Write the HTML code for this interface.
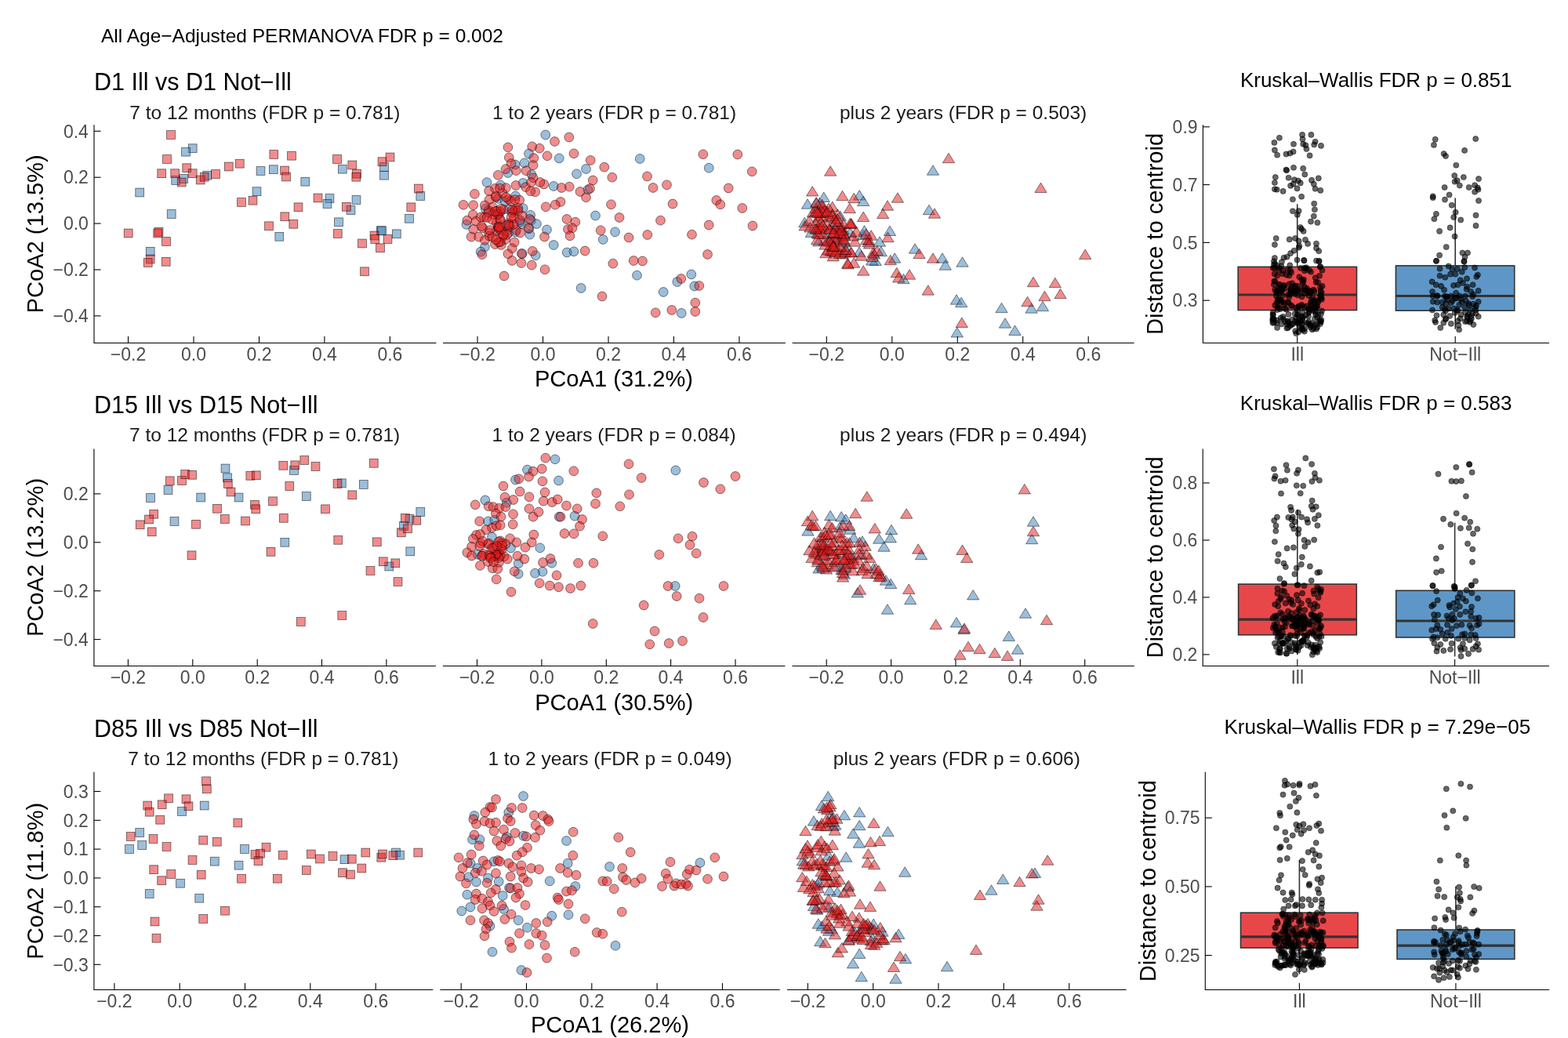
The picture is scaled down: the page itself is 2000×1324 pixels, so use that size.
<!DOCTYPE html><html><head><meta charset="utf-8"><title>PCoA</title><style>html,body{margin:0;padding:0;background:#fff;overflow:hidden}svg{display:block}</style></head><body>
<svg width="2000" height="1324" viewBox="0 0 2000 1324" font-family='"Liberation Sans", Arial, sans-serif'>
<rect width="2000" height="1324" fill="#fff"/>
<text x="129" y="53.6" font-size="24.5" fill="#000">All Age−Adjusted PERMANOVA FDR p = 0.002</text>
<text x="120" y="114.5" font-size="30.5" fill="#000">D1 Ill vs D1 Not−Ill</text>
<text x="337.9" y="151.8" font-size="24.5" text-anchor="middle" fill="#1A1A1A">7 to 12 months (FDR p = 0.781)</text>
<g><rect x="240.3" y="183.8" width="10.8" height="10.8" fill="#377EB8" fill-opacity="0.5" stroke="#000" stroke-opacity="0.6" stroke-width="0.8"/><rect x="231.6" y="188.3" width="10.8" height="10.8" fill="#377EB8" fill-opacity="0.5" stroke="#000" stroke-opacity="0.6" stroke-width="0.8"/><rect x="218.8" y="224.6" width="10.8" height="10.8" fill="#377EB8" fill-opacity="0.5" stroke="#000" stroke-opacity="0.6" stroke-width="0.8"/><rect x="228.8" y="222.6" width="10.8" height="10.8" fill="#377EB8" fill-opacity="0.5" stroke="#000" stroke-opacity="0.6" stroke-width="0.8"/><rect x="258.9" y="218.3" width="10.8" height="10.8" fill="#377EB8" fill-opacity="0.5" stroke="#000" stroke-opacity="0.6" stroke-width="0.8"/><rect x="172.8" y="240.1" width="10.8" height="10.8" fill="#377EB8" fill-opacity="0.5" stroke="#000" stroke-opacity="0.6" stroke-width="0.8"/><rect x="213.3" y="267.6" width="10.8" height="10.8" fill="#377EB8" fill-opacity="0.5" stroke="#000" stroke-opacity="0.6" stroke-width="0.8"/><rect x="186.3" y="315.4" width="10.8" height="10.8" fill="#377EB8" fill-opacity="0.5" stroke="#000" stroke-opacity="0.6" stroke-width="0.8"/><rect x="327.1" y="212.6" width="10.8" height="10.8" fill="#377EB8" fill-opacity="0.5" stroke="#000" stroke-opacity="0.6" stroke-width="0.8"/><rect x="343.4" y="210.8" width="10.8" height="10.8" fill="#377EB8" fill-opacity="0.5" stroke="#000" stroke-opacity="0.6" stroke-width="0.8"/><rect x="322.1" y="238.8" width="10.8" height="10.8" fill="#377EB8" fill-opacity="0.5" stroke="#000" stroke-opacity="0.6" stroke-width="0.8"/><rect x="383.9" y="226.3" width="10.8" height="10.8" fill="#377EB8" fill-opacity="0.5" stroke="#000" stroke-opacity="0.6" stroke-width="0.8"/><rect x="431.4" y="210.3" width="10.8" height="10.8" fill="#377EB8" fill-opacity="0.5" stroke="#000" stroke-opacity="0.6" stroke-width="0.8"/><rect x="484.6" y="207.6" width="10.8" height="10.8" fill="#377EB8" fill-opacity="0.5" stroke="#000" stroke-opacity="0.6" stroke-width="0.8"/><rect x="484.6" y="218.3" width="10.8" height="10.8" fill="#377EB8" fill-opacity="0.5" stroke="#000" stroke-opacity="0.6" stroke-width="0.8"/><rect x="415.1" y="247.6" width="10.8" height="10.8" fill="#377EB8" fill-opacity="0.5" stroke="#000" stroke-opacity="0.6" stroke-width="0.8"/><rect x="412.1" y="254.6" width="10.8" height="10.8" fill="#377EB8" fill-opacity="0.5" stroke="#000" stroke-opacity="0.6" stroke-width="0.8"/><rect x="449.1" y="249.6" width="10.8" height="10.8" fill="#377EB8" fill-opacity="0.5" stroke="#000" stroke-opacity="0.6" stroke-width="0.8"/><rect x="442.1" y="262.6" width="10.8" height="10.8" fill="#377EB8" fill-opacity="0.5" stroke="#000" stroke-opacity="0.6" stroke-width="0.8"/><rect x="426.6" y="277.9" width="10.8" height="10.8" fill="#377EB8" fill-opacity="0.5" stroke="#000" stroke-opacity="0.6" stroke-width="0.8"/><rect x="480.4" y="288.9" width="10.8" height="10.8" fill="#377EB8" fill-opacity="0.5" stroke="#000" stroke-opacity="0.6" stroke-width="0.8"/><rect x="481.6" y="288.9" width="10.8" height="10.8" fill="#377EB8" fill-opacity="0.5" stroke="#000" stroke-opacity="0.6" stroke-width="0.8"/><rect x="500.4" y="292.9" width="10.8" height="10.8" fill="#377EB8" fill-opacity="0.5" stroke="#000" stroke-opacity="0.6" stroke-width="0.8"/><rect x="516.6" y="273.4" width="10.8" height="10.8" fill="#377EB8" fill-opacity="0.5" stroke="#000" stroke-opacity="0.6" stroke-width="0.8"/><rect x="530.9" y="244.6" width="10.8" height="10.8" fill="#377EB8" fill-opacity="0.5" stroke="#000" stroke-opacity="0.6" stroke-width="0.8"/><rect x="350.9" y="296.4" width="10.8" height="10.8" fill="#377EB8" fill-opacity="0.5" stroke="#000" stroke-opacity="0.6" stroke-width="0.8"/><rect x="212.6" y="166.6" width="10.8" height="10.8" fill="#E41A1C" fill-opacity="0.5" stroke="#000" stroke-opacity="0.6" stroke-width="0.8"/><rect x="207.6" y="197.6" width="10.8" height="10.8" fill="#E41A1C" fill-opacity="0.5" stroke="#000" stroke-opacity="0.6" stroke-width="0.8"/><rect x="200.8" y="215.8" width="10.8" height="10.8" fill="#E41A1C" fill-opacity="0.5" stroke="#000" stroke-opacity="0.6" stroke-width="0.8"/><rect x="217.8" y="215.8" width="10.8" height="10.8" fill="#E41A1C" fill-opacity="0.5" stroke="#000" stroke-opacity="0.6" stroke-width="0.8"/><rect x="232.8" y="208.8" width="10.8" height="10.8" fill="#E41A1C" fill-opacity="0.5" stroke="#000" stroke-opacity="0.6" stroke-width="0.8"/><rect x="240.3" y="215.8" width="10.8" height="10.8" fill="#E41A1C" fill-opacity="0.5" stroke="#000" stroke-opacity="0.6" stroke-width="0.8"/><rect x="226.3" y="227.1" width="10.8" height="10.8" fill="#E41A1C" fill-opacity="0.5" stroke="#000" stroke-opacity="0.6" stroke-width="0.8"/><rect x="250.3" y="224.1" width="10.8" height="10.8" fill="#E41A1C" fill-opacity="0.5" stroke="#000" stroke-opacity="0.6" stroke-width="0.8"/><rect x="255.3" y="220.3" width="10.8" height="10.8" fill="#E41A1C" fill-opacity="0.5" stroke="#000" stroke-opacity="0.6" stroke-width="0.8"/><rect x="269.6" y="216.6" width="10.8" height="10.8" fill="#E41A1C" fill-opacity="0.5" stroke="#000" stroke-opacity="0.6" stroke-width="0.8"/><rect x="286.4" y="207.1" width="10.8" height="10.8" fill="#E41A1C" fill-opacity="0.5" stroke="#000" stroke-opacity="0.6" stroke-width="0.8"/><rect x="300.4" y="203.3" width="10.8" height="10.8" fill="#E41A1C" fill-opacity="0.5" stroke="#000" stroke-opacity="0.6" stroke-width="0.8"/><rect x="343.9" y="191.6" width="10.8" height="10.8" fill="#E41A1C" fill-opacity="0.5" stroke="#000" stroke-opacity="0.6" stroke-width="0.8"/><rect x="366.6" y="193.3" width="10.8" height="10.8" fill="#E41A1C" fill-opacity="0.5" stroke="#000" stroke-opacity="0.6" stroke-width="0.8"/><rect x="357.6" y="212.1" width="10.8" height="10.8" fill="#E41A1C" fill-opacity="0.5" stroke="#000" stroke-opacity="0.6" stroke-width="0.8"/><rect x="359.6" y="220.1" width="10.8" height="10.8" fill="#E41A1C" fill-opacity="0.5" stroke="#000" stroke-opacity="0.6" stroke-width="0.8"/><rect x="424.6" y="197.6" width="10.8" height="10.8" fill="#E41A1C" fill-opacity="0.5" stroke="#000" stroke-opacity="0.6" stroke-width="0.8"/><rect x="443.9" y="205.1" width="10.8" height="10.8" fill="#E41A1C" fill-opacity="0.5" stroke="#000" stroke-opacity="0.6" stroke-width="0.8"/><rect x="449.6" y="216.3" width="10.8" height="10.8" fill="#E41A1C" fill-opacity="0.5" stroke="#000" stroke-opacity="0.6" stroke-width="0.8"/><rect x="448.9" y="220.3" width="10.8" height="10.8" fill="#E41A1C" fill-opacity="0.5" stroke="#000" stroke-opacity="0.6" stroke-width="0.8"/><rect x="482.1" y="200.8" width="10.8" height="10.8" fill="#E41A1C" fill-opacity="0.5" stroke="#000" stroke-opacity="0.6" stroke-width="0.8"/><rect x="492.1" y="195.1" width="10.8" height="10.8" fill="#E41A1C" fill-opacity="0.5" stroke="#000" stroke-opacity="0.6" stroke-width="0.8"/><rect x="528.4" y="235.1" width="10.8" height="10.8" fill="#E41A1C" fill-opacity="0.5" stroke="#000" stroke-opacity="0.6" stroke-width="0.8"/><rect x="518.9" y="258.9" width="10.8" height="10.8" fill="#E41A1C" fill-opacity="0.5" stroke="#000" stroke-opacity="0.6" stroke-width="0.8"/><rect x="302.6" y="252.6" width="10.8" height="10.8" fill="#E41A1C" fill-opacity="0.5" stroke="#000" stroke-opacity="0.6" stroke-width="0.8"/><rect x="317.1" y="250.3" width="10.8" height="10.8" fill="#E41A1C" fill-opacity="0.5" stroke="#000" stroke-opacity="0.6" stroke-width="0.8"/><rect x="400.1" y="247.1" width="10.8" height="10.8" fill="#E41A1C" fill-opacity="0.5" stroke="#000" stroke-opacity="0.6" stroke-width="0.8"/><rect x="436.4" y="258.4" width="10.8" height="10.8" fill="#E41A1C" fill-opacity="0.5" stroke="#000" stroke-opacity="0.6" stroke-width="0.8"/><rect x="375.1" y="258.9" width="10.8" height="10.8" fill="#E41A1C" fill-opacity="0.5" stroke="#000" stroke-opacity="0.6" stroke-width="0.8"/><rect x="357.9" y="270.9" width="10.8" height="10.8" fill="#E41A1C" fill-opacity="0.5" stroke="#000" stroke-opacity="0.6" stroke-width="0.8"/><rect x="368.9" y="280.4" width="10.8" height="10.8" fill="#E41A1C" fill-opacity="0.5" stroke="#000" stroke-opacity="0.6" stroke-width="0.8"/><rect x="337.6" y="282.9" width="10.8" height="10.8" fill="#E41A1C" fill-opacity="0.5" stroke="#000" stroke-opacity="0.6" stroke-width="0.8"/><rect x="425.4" y="292.6" width="10.8" height="10.8" fill="#E41A1C" fill-opacity="0.5" stroke="#000" stroke-opacity="0.6" stroke-width="0.8"/><rect x="472.1" y="295.1" width="10.8" height="10.8" fill="#E41A1C" fill-opacity="0.5" stroke="#000" stroke-opacity="0.6" stroke-width="0.8"/><rect x="472.9" y="299.6" width="10.8" height="10.8" fill="#E41A1C" fill-opacity="0.5" stroke="#000" stroke-opacity="0.6" stroke-width="0.8"/><rect x="456.6" y="305.1" width="10.8" height="10.8" fill="#E41A1C" fill-opacity="0.5" stroke="#000" stroke-opacity="0.6" stroke-width="0.8"/><rect x="489.1" y="299.6" width="10.8" height="10.8" fill="#E41A1C" fill-opacity="0.5" stroke="#000" stroke-opacity="0.6" stroke-width="0.8"/><rect x="479.6" y="310.9" width="10.8" height="10.8" fill="#E41A1C" fill-opacity="0.5" stroke="#000" stroke-opacity="0.6" stroke-width="0.8"/><rect x="459.6" y="340.9" width="10.8" height="10.8" fill="#E41A1C" fill-opacity="0.5" stroke="#000" stroke-opacity="0.6" stroke-width="0.8"/><rect x="158.3" y="292.1" width="10.8" height="10.8" fill="#E41A1C" fill-opacity="0.5" stroke="#000" stroke-opacity="0.6" stroke-width="0.8"/><rect x="197.1" y="290.4" width="10.8" height="10.8" fill="#E41A1C" fill-opacity="0.5" stroke="#000" stroke-opacity="0.6" stroke-width="0.8"/><rect x="195.8" y="292.1" width="10.8" height="10.8" fill="#E41A1C" fill-opacity="0.5" stroke="#000" stroke-opacity="0.6" stroke-width="0.8"/><rect x="206.6" y="302.6" width="10.8" height="10.8" fill="#E41A1C" fill-opacity="0.5" stroke="#000" stroke-opacity="0.6" stroke-width="0.8"/><rect x="186.3" y="325.1" width="10.8" height="10.8" fill="#E41A1C" fill-opacity="0.5" stroke="#000" stroke-opacity="0.6" stroke-width="0.8"/><rect x="183.3" y="329.6" width="10.8" height="10.8" fill="#E41A1C" fill-opacity="0.5" stroke="#000" stroke-opacity="0.6" stroke-width="0.8"/><rect x="206.3" y="328.4" width="10.8" height="10.8" fill="#E41A1C" fill-opacity="0.5" stroke="#000" stroke-opacity="0.6" stroke-width="0.8"/></g>
<line x1="119.5" y1="437.5" x2="556.4" y2="437.5" stroke="#000" stroke-width="1.1"/>
<line x1="163.5" y1="437.5" x2="163.5" y2="429.0" stroke="#000" stroke-width="1.1"/>
<text x="163.5" y="459.7" font-size="23" text-anchor="middle" fill="#4D4D4D">−0.2</text>
<line x1="247.0" y1="437.5" x2="247.0" y2="429.0" stroke="#000" stroke-width="1.1"/>
<text x="247.0" y="459.7" font-size="23" text-anchor="middle" fill="#4D4D4D">0.0</text>
<line x1="330.5" y1="437.5" x2="330.5" y2="429.0" stroke="#000" stroke-width="1.1"/>
<text x="330.5" y="459.7" font-size="23" text-anchor="middle" fill="#4D4D4D">0.2</text>
<line x1="413.9" y1="437.5" x2="413.9" y2="429.0" stroke="#000" stroke-width="1.1"/>
<text x="413.9" y="459.7" font-size="23" text-anchor="middle" fill="#4D4D4D">0.4</text>
<line x1="497.4" y1="437.5" x2="497.4" y2="429.0" stroke="#000" stroke-width="1.1"/>
<text x="497.4" y="459.7" font-size="23" text-anchor="middle" fill="#4D4D4D">0.6</text>
<text x="783.5" y="151.8" font-size="24.5" text-anchor="middle" fill="#1A1A1A">1 to 2 years (FDR p = 0.781)</text>
<g><circle cx="695.8" cy="172.0" r="5.9" fill="#377EB8" fill-opacity="0.5" stroke="#000" stroke-opacity="0.6" stroke-width="0.8"/><circle cx="713.2" cy="202.0" r="5.9" fill="#377EB8" fill-opacity="0.5" stroke="#000" stroke-opacity="0.6" stroke-width="0.8"/><circle cx="816.2" cy="202.5" r="5.9" fill="#377EB8" fill-opacity="0.5" stroke="#000" stroke-opacity="0.6" stroke-width="0.8"/><circle cx="747.5" cy="215.5" r="5.9" fill="#377EB8" fill-opacity="0.5" stroke="#000" stroke-opacity="0.6" stroke-width="0.8"/><circle cx="735.5" cy="221.8" r="5.9" fill="#377EB8" fill-opacity="0.5" stroke="#000" stroke-opacity="0.6" stroke-width="0.8"/><circle cx="706.2" cy="237.5" r="5.9" fill="#377EB8" fill-opacity="0.5" stroke="#000" stroke-opacity="0.6" stroke-width="0.8"/><circle cx="750.0" cy="242.0" r="5.9" fill="#377EB8" fill-opacity="0.5" stroke="#000" stroke-opacity="0.6" stroke-width="0.8"/><circle cx="904.2" cy="214.2" r="5.9" fill="#377EB8" fill-opacity="0.5" stroke="#000" stroke-opacity="0.6" stroke-width="0.8"/><circle cx="759.5" cy="275.0" r="5.9" fill="#377EB8" fill-opacity="0.5" stroke="#000" stroke-opacity="0.6" stroke-width="0.8"/><circle cx="697.5" cy="293.0" r="5.9" fill="#377EB8" fill-opacity="0.5" stroke="#000" stroke-opacity="0.6" stroke-width="0.8"/><circle cx="675.8" cy="299.2" r="5.9" fill="#377EB8" fill-opacity="0.5" stroke="#000" stroke-opacity="0.6" stroke-width="0.8"/><circle cx="784.5" cy="295.8" r="5.9" fill="#377EB8" fill-opacity="0.5" stroke="#000" stroke-opacity="0.6" stroke-width="0.8"/><circle cx="769.2" cy="305.5" r="5.9" fill="#377EB8" fill-opacity="0.5" stroke="#000" stroke-opacity="0.6" stroke-width="0.8"/><circle cx="706.2" cy="312.5" r="5.9" fill="#377EB8" fill-opacity="0.5" stroke="#000" stroke-opacity="0.6" stroke-width="0.8"/><circle cx="723.2" cy="322.0" r="5.9" fill="#377EB8" fill-opacity="0.5" stroke="#000" stroke-opacity="0.6" stroke-width="0.8"/><circle cx="732.0" cy="320.8" r="5.9" fill="#377EB8" fill-opacity="0.5" stroke="#000" stroke-opacity="0.6" stroke-width="0.8"/><circle cx="683.2" cy="325.8" r="5.9" fill="#377EB8" fill-opacity="0.5" stroke="#000" stroke-opacity="0.6" stroke-width="0.8"/><circle cx="812.5" cy="351.2" r="5.9" fill="#377EB8" fill-opacity="0.5" stroke="#000" stroke-opacity="0.6" stroke-width="0.8"/><circle cx="741.2" cy="367.5" r="5.9" fill="#377EB8" fill-opacity="0.5" stroke="#000" stroke-opacity="0.6" stroke-width="0.8"/><circle cx="846.2" cy="372.5" r="5.9" fill="#377EB8" fill-opacity="0.5" stroke="#000" stroke-opacity="0.6" stroke-width="0.8"/><circle cx="863.8" cy="359.5" r="5.9" fill="#377EB8" fill-opacity="0.5" stroke="#000" stroke-opacity="0.6" stroke-width="0.8"/><circle cx="881.8" cy="350.0" r="5.9" fill="#377EB8" fill-opacity="0.5" stroke="#000" stroke-opacity="0.6" stroke-width="0.8"/><circle cx="885.8" cy="365.0" r="5.9" fill="#377EB8" fill-opacity="0.5" stroke="#000" stroke-opacity="0.6" stroke-width="0.8"/><circle cx="869.2" cy="399.5" r="5.9" fill="#377EB8" fill-opacity="0.5" stroke="#000" stroke-opacity="0.6" stroke-width="0.8"/><circle cx="657.0" cy="210.0" r="5.9" fill="#377EB8" fill-opacity="0.5" stroke="#000" stroke-opacity="0.6" stroke-width="0.8"/><circle cx="647.9" cy="220.5" r="5.9" fill="#377EB8" fill-opacity="0.5" stroke="#000" stroke-opacity="0.6" stroke-width="0.8"/><circle cx="668.9" cy="207.9" r="5.9" fill="#377EB8" fill-opacity="0.5" stroke="#000" stroke-opacity="0.6" stroke-width="0.8"/><circle cx="674.5" cy="196.0" r="5.9" fill="#377EB8" fill-opacity="0.5" stroke="#000" stroke-opacity="0.6" stroke-width="0.8"/><circle cx="678.0" cy="222.6" r="5.9" fill="#377EB8" fill-opacity="0.5" stroke="#000" stroke-opacity="0.6" stroke-width="0.8"/><circle cx="621.0" cy="232.6" r="5.9" fill="#377EB8" fill-opacity="0.5" stroke="#000" stroke-opacity="0.6" stroke-width="0.8"/><circle cx="638.4" cy="236.1" r="5.9" fill="#377EB8" fill-opacity="0.5" stroke="#000" stroke-opacity="0.6" stroke-width="0.8"/><circle cx="667.1" cy="233.5" r="5.9" fill="#377EB8" fill-opacity="0.5" stroke="#000" stroke-opacity="0.6" stroke-width="0.8"/><circle cx="635.8" cy="253.4" r="5.9" fill="#377EB8" fill-opacity="0.5" stroke="#000" stroke-opacity="0.6" stroke-width="0.8"/><circle cx="657.5" cy="250.0" r="5.9" fill="#377EB8" fill-opacity="0.5" stroke="#000" stroke-opacity="0.6" stroke-width="0.8"/><circle cx="619.3" cy="266.5" r="5.9" fill="#377EB8" fill-opacity="0.5" stroke="#000" stroke-opacity="0.6" stroke-width="0.8"/><circle cx="667.1" cy="265.6" r="5.9" fill="#377EB8" fill-opacity="0.5" stroke="#000" stroke-opacity="0.6" stroke-width="0.8"/><circle cx="676.6" cy="274.3" r="5.9" fill="#377EB8" fill-opacity="0.5" stroke="#000" stroke-opacity="0.6" stroke-width="0.8"/><circle cx="677.5" cy="281.2" r="5.9" fill="#377EB8" fill-opacity="0.5" stroke="#000" stroke-opacity="0.6" stroke-width="0.8"/><circle cx="595.0" cy="286.4" r="5.9" fill="#377EB8" fill-opacity="0.5" stroke="#000" stroke-opacity="0.6" stroke-width="0.8"/><circle cx="650.6" cy="286.4" r="5.9" fill="#377EB8" fill-opacity="0.5" stroke="#000" stroke-opacity="0.6" stroke-width="0.8"/><circle cx="684.4" cy="285.6" r="5.9" fill="#377EB8" fill-opacity="0.5" stroke="#000" stroke-opacity="0.6" stroke-width="0.8"/><circle cx="674.9" cy="291.7" r="5.9" fill="#377EB8" fill-opacity="0.5" stroke="#000" stroke-opacity="0.6" stroke-width="0.8"/><circle cx="665.3" cy="285.6" r="5.9" fill="#377EB8" fill-opacity="0.5" stroke="#000" stroke-opacity="0.6" stroke-width="0.8"/><circle cx="648.8" cy="296.9" r="5.9" fill="#377EB8" fill-opacity="0.5" stroke="#000" stroke-opacity="0.6" stroke-width="0.8"/><circle cx="618.4" cy="315.1" r="5.9" fill="#377EB8" fill-opacity="0.5" stroke="#000" stroke-opacity="0.6" stroke-width="0.8"/><circle cx="613.2" cy="321.2" r="5.9" fill="#377EB8" fill-opacity="0.5" stroke="#000" stroke-opacity="0.6" stroke-width="0.8"/><circle cx="666.2" cy="323.8" r="5.9" fill="#377EB8" fill-opacity="0.5" stroke="#000" stroke-opacity="0.6" stroke-width="0.8"/><circle cx="657.4" cy="296.0" r="5.9" fill="#377EB8" fill-opacity="0.5" stroke="#000" stroke-opacity="0.6" stroke-width="0.8"/><circle cx="648.8" cy="267.0" r="5.9" fill="#377EB8" fill-opacity="0.5" stroke="#000" stroke-opacity="0.6" stroke-width="0.8"/><circle cx="645.5" cy="287.3" r="5.9" fill="#377EB8" fill-opacity="0.5" stroke="#000" stroke-opacity="0.6" stroke-width="0.8"/><circle cx="644.2" cy="256.8" r="5.9" fill="#377EB8" fill-opacity="0.5" stroke="#000" stroke-opacity="0.6" stroke-width="0.8"/><circle cx="636.4" cy="272.8" r="5.9" fill="#377EB8" fill-opacity="0.5" stroke="#000" stroke-opacity="0.6" stroke-width="0.8"/><circle cx="663.4" cy="283.0" r="5.9" fill="#377EB8" fill-opacity="0.5" stroke="#000" stroke-opacity="0.6" stroke-width="0.8"/><circle cx="725.8" cy="175.0" r="5.9" fill="#E41A1C" fill-opacity="0.5" stroke="#000" stroke-opacity="0.6" stroke-width="0.8"/><circle cx="707.5" cy="180.5" r="5.9" fill="#E41A1C" fill-opacity="0.5" stroke="#000" stroke-opacity="0.6" stroke-width="0.8"/><circle cx="688.2" cy="189.2" r="5.9" fill="#E41A1C" fill-opacity="0.5" stroke="#000" stroke-opacity="0.6" stroke-width="0.8"/><circle cx="698.0" cy="198.8" r="5.9" fill="#E41A1C" fill-opacity="0.5" stroke="#000" stroke-opacity="0.6" stroke-width="0.8"/><circle cx="732.0" cy="195.8" r="5.9" fill="#E41A1C" fill-opacity="0.5" stroke="#000" stroke-opacity="0.6" stroke-width="0.8"/><circle cx="753.2" cy="204.5" r="5.9" fill="#E41A1C" fill-opacity="0.5" stroke="#000" stroke-opacity="0.6" stroke-width="0.8"/><circle cx="770.8" cy="213.2" r="5.9" fill="#E41A1C" fill-opacity="0.5" stroke="#000" stroke-opacity="0.6" stroke-width="0.8"/><circle cx="780.8" cy="226.2" r="5.9" fill="#E41A1C" fill-opacity="0.5" stroke="#000" stroke-opacity="0.6" stroke-width="0.8"/><circle cx="756.2" cy="230.0" r="5.9" fill="#E41A1C" fill-opacity="0.5" stroke="#000" stroke-opacity="0.6" stroke-width="0.8"/><circle cx="752.5" cy="240.5" r="5.9" fill="#E41A1C" fill-opacity="0.5" stroke="#000" stroke-opacity="0.6" stroke-width="0.8"/><circle cx="740.0" cy="244.5" r="5.9" fill="#E41A1C" fill-opacity="0.5" stroke="#000" stroke-opacity="0.6" stroke-width="0.8"/><circle cx="747.5" cy="251.8" r="5.9" fill="#E41A1C" fill-opacity="0.5" stroke="#000" stroke-opacity="0.6" stroke-width="0.8"/><circle cx="726.2" cy="238.2" r="5.9" fill="#E41A1C" fill-opacity="0.5" stroke="#000" stroke-opacity="0.6" stroke-width="0.8"/><circle cx="716.2" cy="239.5" r="5.9" fill="#E41A1C" fill-opacity="0.5" stroke="#000" stroke-opacity="0.6" stroke-width="0.8"/><circle cx="693.8" cy="235.0" r="5.9" fill="#E41A1C" fill-opacity="0.5" stroke="#000" stroke-opacity="0.6" stroke-width="0.8"/><circle cx="688.8" cy="232.5" r="5.9" fill="#E41A1C" fill-opacity="0.5" stroke="#000" stroke-opacity="0.6" stroke-width="0.8"/><circle cx="715.0" cy="257.5" r="5.9" fill="#E41A1C" fill-opacity="0.5" stroke="#000" stroke-opacity="0.6" stroke-width="0.8"/><circle cx="708.2" cy="261.2" r="5.9" fill="#E41A1C" fill-opacity="0.5" stroke="#000" stroke-opacity="0.6" stroke-width="0.8"/><circle cx="696.2" cy="263.8" r="5.9" fill="#E41A1C" fill-opacity="0.5" stroke="#000" stroke-opacity="0.6" stroke-width="0.8"/><circle cx="779.5" cy="260.8" r="5.9" fill="#E41A1C" fill-opacity="0.5" stroke="#000" stroke-opacity="0.6" stroke-width="0.8"/><circle cx="790.0" cy="277.5" r="5.9" fill="#E41A1C" fill-opacity="0.5" stroke="#000" stroke-opacity="0.6" stroke-width="0.8"/><circle cx="723.0" cy="279.5" r="5.9" fill="#E41A1C" fill-opacity="0.5" stroke="#000" stroke-opacity="0.6" stroke-width="0.8"/><circle cx="733.8" cy="283.2" r="5.9" fill="#E41A1C" fill-opacity="0.5" stroke="#000" stroke-opacity="0.6" stroke-width="0.8"/><circle cx="724.5" cy="292.5" r="5.9" fill="#E41A1C" fill-opacity="0.5" stroke="#000" stroke-opacity="0.6" stroke-width="0.8"/><circle cx="730.0" cy="290.8" r="5.9" fill="#E41A1C" fill-opacity="0.5" stroke="#000" stroke-opacity="0.6" stroke-width="0.8"/><circle cx="727.0" cy="300.8" r="5.9" fill="#E41A1C" fill-opacity="0.5" stroke="#000" stroke-opacity="0.6" stroke-width="0.8"/><circle cx="694.5" cy="302.0" r="5.9" fill="#E41A1C" fill-opacity="0.5" stroke="#000" stroke-opacity="0.6" stroke-width="0.8"/><circle cx="766.2" cy="293.8" r="5.9" fill="#E41A1C" fill-opacity="0.5" stroke="#000" stroke-opacity="0.6" stroke-width="0.8"/><circle cx="802.0" cy="303.0" r="5.9" fill="#E41A1C" fill-opacity="0.5" stroke="#000" stroke-opacity="0.6" stroke-width="0.8"/><circle cx="825.8" cy="299.5" r="5.9" fill="#E41A1C" fill-opacity="0.5" stroke="#000" stroke-opacity="0.6" stroke-width="0.8"/><circle cx="825.5" cy="225.0" r="5.9" fill="#E41A1C" fill-opacity="0.5" stroke="#000" stroke-opacity="0.6" stroke-width="0.8"/><circle cx="833.0" cy="239.5" r="5.9" fill="#E41A1C" fill-opacity="0.5" stroke="#000" stroke-opacity="0.6" stroke-width="0.8"/><circle cx="850.5" cy="235.8" r="5.9" fill="#E41A1C" fill-opacity="0.5" stroke="#000" stroke-opacity="0.6" stroke-width="0.8"/><circle cx="858.0" cy="260.0" r="5.9" fill="#E41A1C" fill-opacity="0.5" stroke="#000" stroke-opacity="0.6" stroke-width="0.8"/><circle cx="842.5" cy="281.2" r="5.9" fill="#E41A1C" fill-opacity="0.5" stroke="#000" stroke-opacity="0.6" stroke-width="0.8"/><circle cx="896.8" cy="196.8" r="5.9" fill="#E41A1C" fill-opacity="0.5" stroke="#000" stroke-opacity="0.6" stroke-width="0.8"/><circle cx="940.8" cy="197.0" r="5.9" fill="#E41A1C" fill-opacity="0.5" stroke="#000" stroke-opacity="0.6" stroke-width="0.8"/><circle cx="959.2" cy="218.8" r="5.9" fill="#E41A1C" fill-opacity="0.5" stroke="#000" stroke-opacity="0.6" stroke-width="0.8"/><circle cx="929.2" cy="240.0" r="5.9" fill="#E41A1C" fill-opacity="0.5" stroke="#000" stroke-opacity="0.6" stroke-width="0.8"/><circle cx="913.8" cy="255.5" r="5.9" fill="#E41A1C" fill-opacity="0.5" stroke="#000" stroke-opacity="0.6" stroke-width="0.8"/><circle cx="918.8" cy="260.8" r="5.9" fill="#E41A1C" fill-opacity="0.5" stroke="#000" stroke-opacity="0.6" stroke-width="0.8"/><circle cx="946.8" cy="265.5" r="5.9" fill="#E41A1C" fill-opacity="0.5" stroke="#000" stroke-opacity="0.6" stroke-width="0.8"/><circle cx="960.0" cy="288.0" r="5.9" fill="#E41A1C" fill-opacity="0.5" stroke="#000" stroke-opacity="0.6" stroke-width="0.8"/><circle cx="904.2" cy="287.0" r="5.9" fill="#E41A1C" fill-opacity="0.5" stroke="#000" stroke-opacity="0.6" stroke-width="0.8"/><circle cx="882.5" cy="299.2" r="5.9" fill="#E41A1C" fill-opacity="0.5" stroke="#000" stroke-opacity="0.6" stroke-width="0.8"/><circle cx="902.5" cy="324.5" r="5.9" fill="#E41A1C" fill-opacity="0.5" stroke="#000" stroke-opacity="0.6" stroke-width="0.8"/><circle cx="819.5" cy="333.0" r="5.9" fill="#E41A1C" fill-opacity="0.5" stroke="#000" stroke-opacity="0.6" stroke-width="0.8"/><circle cx="808.2" cy="332.5" r="5.9" fill="#E41A1C" fill-opacity="0.5" stroke="#000" stroke-opacity="0.6" stroke-width="0.8"/><circle cx="781.8" cy="336.2" r="5.9" fill="#E41A1C" fill-opacity="0.5" stroke="#000" stroke-opacity="0.6" stroke-width="0.8"/><circle cx="746.2" cy="320.0" r="5.9" fill="#E41A1C" fill-opacity="0.5" stroke="#000" stroke-opacity="0.6" stroke-width="0.8"/><circle cx="695.0" cy="343.8" r="5.9" fill="#E41A1C" fill-opacity="0.5" stroke="#000" stroke-opacity="0.6" stroke-width="0.8"/><circle cx="678.2" cy="338.2" r="5.9" fill="#E41A1C" fill-opacity="0.5" stroke="#000" stroke-opacity="0.6" stroke-width="0.8"/><circle cx="868.8" cy="355.5" r="5.9" fill="#E41A1C" fill-opacity="0.5" stroke="#000" stroke-opacity="0.6" stroke-width="0.8"/><circle cx="891.8" cy="364.5" r="5.9" fill="#E41A1C" fill-opacity="0.5" stroke="#000" stroke-opacity="0.6" stroke-width="0.8"/><circle cx="886.8" cy="386.2" r="5.9" fill="#E41A1C" fill-opacity="0.5" stroke="#000" stroke-opacity="0.6" stroke-width="0.8"/><circle cx="886.8" cy="397.5" r="5.9" fill="#E41A1C" fill-opacity="0.5" stroke="#000" stroke-opacity="0.6" stroke-width="0.8"/><circle cx="856.8" cy="395.5" r="5.9" fill="#E41A1C" fill-opacity="0.5" stroke="#000" stroke-opacity="0.6" stroke-width="0.8"/><circle cx="836.2" cy="398.8" r="5.9" fill="#E41A1C" fill-opacity="0.5" stroke="#000" stroke-opacity="0.6" stroke-width="0.8"/><circle cx="768.0" cy="378.0" r="5.9" fill="#E41A1C" fill-opacity="0.5" stroke="#000" stroke-opacity="0.6" stroke-width="0.8"/><circle cx="643.0" cy="352.0" r="5.9" fill="#E41A1C" fill-opacity="0.5" stroke="#000" stroke-opacity="0.6" stroke-width="0.8"/><circle cx="665.0" cy="335.5" r="5.9" fill="#E41A1C" fill-opacity="0.5" stroke="#000" stroke-opacity="0.6" stroke-width="0.8"/><circle cx="647.9" cy="187.9" r="5.9" fill="#E41A1C" fill-opacity="0.5" stroke="#000" stroke-opacity="0.6" stroke-width="0.8"/><circle cx="649.3" cy="200.9" r="5.9" fill="#E41A1C" fill-opacity="0.5" stroke="#000" stroke-opacity="0.6" stroke-width="0.8"/><circle cx="652.1" cy="208.6" r="5.9" fill="#E41A1C" fill-opacity="0.5" stroke="#000" stroke-opacity="0.6" stroke-width="0.8"/><circle cx="645.1" cy="215.6" r="5.9" fill="#E41A1C" fill-opacity="0.5" stroke="#000" stroke-opacity="0.6" stroke-width="0.8"/><circle cx="658.4" cy="217.7" r="5.9" fill="#E41A1C" fill-opacity="0.5" stroke="#000" stroke-opacity="0.6" stroke-width="0.8"/><circle cx="635.3" cy="223.3" r="5.9" fill="#E41A1C" fill-opacity="0.5" stroke="#000" stroke-opacity="0.6" stroke-width="0.8"/><circle cx="678.7" cy="186.9" r="5.9" fill="#E41A1C" fill-opacity="0.5" stroke="#000" stroke-opacity="0.6" stroke-width="0.8"/><circle cx="680.8" cy="201.6" r="5.9" fill="#E41A1C" fill-opacity="0.5" stroke="#000" stroke-opacity="0.6" stroke-width="0.8"/><circle cx="680.1" cy="210.7" r="5.9" fill="#E41A1C" fill-opacity="0.5" stroke="#000" stroke-opacity="0.6" stroke-width="0.8"/><circle cx="671.0" cy="217.7" r="5.9" fill="#E41A1C" fill-opacity="0.5" stroke="#000" stroke-opacity="0.6" stroke-width="0.8"/><circle cx="680.1" cy="226.8" r="5.9" fill="#E41A1C" fill-opacity="0.5" stroke="#000" stroke-opacity="0.6" stroke-width="0.8"/><circle cx="631.4" cy="240.4" r="5.9" fill="#E41A1C" fill-opacity="0.5" stroke="#000" stroke-opacity="0.6" stroke-width="0.8"/><circle cx="645.3" cy="239.6" r="5.9" fill="#E41A1C" fill-opacity="0.5" stroke="#000" stroke-opacity="0.6" stroke-width="0.8"/><circle cx="657.9" cy="236.5" r="5.9" fill="#E41A1C" fill-opacity="0.5" stroke="#000" stroke-opacity="0.6" stroke-width="0.8"/><circle cx="670.5" cy="238.7" r="5.9" fill="#E41A1C" fill-opacity="0.5" stroke="#000" stroke-opacity="0.6" stroke-width="0.8"/><circle cx="677.5" cy="232.6" r="5.9" fill="#E41A1C" fill-opacity="0.5" stroke="#000" stroke-opacity="0.6" stroke-width="0.8"/><circle cx="682.7" cy="244.8" r="5.9" fill="#E41A1C" fill-opacity="0.5" stroke="#000" stroke-opacity="0.6" stroke-width="0.8"/><circle cx="676.6" cy="243.9" r="5.9" fill="#E41A1C" fill-opacity="0.5" stroke="#000" stroke-opacity="0.6" stroke-width="0.8"/><circle cx="605.4" cy="247.4" r="5.9" fill="#E41A1C" fill-opacity="0.5" stroke="#000" stroke-opacity="0.6" stroke-width="0.8"/><circle cx="623.6" cy="243.5" r="5.9" fill="#E41A1C" fill-opacity="0.5" stroke="#000" stroke-opacity="0.6" stroke-width="0.8"/><circle cx="641.0" cy="246.5" r="5.9" fill="#E41A1C" fill-opacity="0.5" stroke="#000" stroke-opacity="0.6" stroke-width="0.8"/><circle cx="648.8" cy="254.3" r="5.9" fill="#E41A1C" fill-opacity="0.5" stroke="#000" stroke-opacity="0.6" stroke-width="0.8"/><circle cx="632.3" cy="251.7" r="5.9" fill="#E41A1C" fill-opacity="0.5" stroke="#000" stroke-opacity="0.6" stroke-width="0.8"/><circle cx="662.7" cy="255.2" r="5.9" fill="#E41A1C" fill-opacity="0.5" stroke="#000" stroke-opacity="0.6" stroke-width="0.8"/><circle cx="591.1" cy="261.3" r="5.9" fill="#E41A1C" fill-opacity="0.5" stroke="#000" stroke-opacity="0.6" stroke-width="0.8"/><circle cx="603.7" cy="261.7" r="5.9" fill="#E41A1C" fill-opacity="0.5" stroke="#000" stroke-opacity="0.6" stroke-width="0.8"/><circle cx="628.0" cy="263.9" r="5.9" fill="#E41A1C" fill-opacity="0.5" stroke="#000" stroke-opacity="0.6" stroke-width="0.8"/><circle cx="641.9" cy="267.3" r="5.9" fill="#E41A1C" fill-opacity="0.5" stroke="#000" stroke-opacity="0.6" stroke-width="0.8"/><circle cx="657.5" cy="267.3" r="5.9" fill="#E41A1C" fill-opacity="0.5" stroke="#000" stroke-opacity="0.6" stroke-width="0.8"/><circle cx="603.2" cy="273.9" r="5.9" fill="#E41A1C" fill-opacity="0.5" stroke="#000" stroke-opacity="0.6" stroke-width="0.8"/><circle cx="595.8" cy="281.2" r="5.9" fill="#E41A1C" fill-opacity="0.5" stroke="#000" stroke-opacity="0.6" stroke-width="0.8"/><circle cx="607.1" cy="282.1" r="5.9" fill="#E41A1C" fill-opacity="0.5" stroke="#000" stroke-opacity="0.6" stroke-width="0.8"/><circle cx="617.6" cy="276.9" r="5.9" fill="#E41A1C" fill-opacity="0.5" stroke="#000" stroke-opacity="0.6" stroke-width="0.8"/><circle cx="628.8" cy="273.4" r="5.9" fill="#E41A1C" fill-opacity="0.5" stroke="#000" stroke-opacity="0.6" stroke-width="0.8"/><circle cx="634.1" cy="269.1" r="5.9" fill="#E41A1C" fill-opacity="0.5" stroke="#000" stroke-opacity="0.6" stroke-width="0.8"/><circle cx="653.2" cy="271.7" r="5.9" fill="#E41A1C" fill-opacity="0.5" stroke="#000" stroke-opacity="0.6" stroke-width="0.8"/><circle cx="666.2" cy="275.2" r="5.9" fill="#E41A1C" fill-opacity="0.5" stroke="#000" stroke-opacity="0.6" stroke-width="0.8"/><circle cx="637.5" cy="279.5" r="5.9" fill="#E41A1C" fill-opacity="0.5" stroke="#000" stroke-opacity="0.6" stroke-width="0.8"/><circle cx="675.7" cy="279.5" r="5.9" fill="#E41A1C" fill-opacity="0.5" stroke="#000" stroke-opacity="0.6" stroke-width="0.8"/><circle cx="633.2" cy="283.8" r="5.9" fill="#E41A1C" fill-opacity="0.5" stroke="#000" stroke-opacity="0.6" stroke-width="0.8"/><circle cx="648.8" cy="284.7" r="5.9" fill="#E41A1C" fill-opacity="0.5" stroke="#000" stroke-opacity="0.6" stroke-width="0.8"/><circle cx="674.0" cy="290.8" r="5.9" fill="#E41A1C" fill-opacity="0.5" stroke="#000" stroke-opacity="0.6" stroke-width="0.8"/><circle cx="658.4" cy="293.4" r="5.9" fill="#E41A1C" fill-opacity="0.5" stroke="#000" stroke-opacity="0.6" stroke-width="0.8"/><circle cx="663.6" cy="296.9" r="5.9" fill="#E41A1C" fill-opacity="0.5" stroke="#000" stroke-opacity="0.6" stroke-width="0.8"/><circle cx="633.2" cy="294.3" r="5.9" fill="#E41A1C" fill-opacity="0.5" stroke="#000" stroke-opacity="0.6" stroke-width="0.8"/><circle cx="615.8" cy="290.8" r="5.9" fill="#E41A1C" fill-opacity="0.5" stroke="#000" stroke-opacity="0.6" stroke-width="0.8"/><circle cx="603.7" cy="292.5" r="5.9" fill="#E41A1C" fill-opacity="0.5" stroke="#000" stroke-opacity="0.6" stroke-width="0.8"/><circle cx="623.6" cy="296.9" r="5.9" fill="#E41A1C" fill-opacity="0.5" stroke="#000" stroke-opacity="0.6" stroke-width="0.8"/><circle cx="601.1" cy="302.1" r="5.9" fill="#E41A1C" fill-opacity="0.5" stroke="#000" stroke-opacity="0.6" stroke-width="0.8"/><circle cx="610.6" cy="302.1" r="5.9" fill="#E41A1C" fill-opacity="0.5" stroke="#000" stroke-opacity="0.6" stroke-width="0.8"/><circle cx="641.0" cy="302.1" r="5.9" fill="#E41A1C" fill-opacity="0.5" stroke="#000" stroke-opacity="0.6" stroke-width="0.8"/><circle cx="644.5" cy="305.6" r="5.9" fill="#E41A1C" fill-opacity="0.5" stroke="#000" stroke-opacity="0.6" stroke-width="0.8"/><circle cx="618.4" cy="306.4" r="5.9" fill="#E41A1C" fill-opacity="0.5" stroke="#000" stroke-opacity="0.6" stroke-width="0.8"/><circle cx="656.2" cy="309.0" r="5.9" fill="#E41A1C" fill-opacity="0.5" stroke="#000" stroke-opacity="0.6" stroke-width="0.8"/><circle cx="631.4" cy="311.6" r="5.9" fill="#E41A1C" fill-opacity="0.5" stroke="#000" stroke-opacity="0.6" stroke-width="0.8"/><circle cx="639.3" cy="312.5" r="5.9" fill="#E41A1C" fill-opacity="0.5" stroke="#000" stroke-opacity="0.6" stroke-width="0.8"/><circle cx="653.2" cy="316.8" r="5.9" fill="#E41A1C" fill-opacity="0.5" stroke="#000" stroke-opacity="0.6" stroke-width="0.8"/><circle cx="614.9" cy="324.7" r="5.9" fill="#E41A1C" fill-opacity="0.5" stroke="#000" stroke-opacity="0.6" stroke-width="0.8"/><circle cx="647.9" cy="323.8" r="5.9" fill="#E41A1C" fill-opacity="0.5" stroke="#000" stroke-opacity="0.6" stroke-width="0.8"/><circle cx="665.3" cy="323.4" r="5.9" fill="#E41A1C" fill-opacity="0.5" stroke="#000" stroke-opacity="0.6" stroke-width="0.8"/><circle cx="679.2" cy="320.3" r="5.9" fill="#E41A1C" fill-opacity="0.5" stroke="#000" stroke-opacity="0.6" stroke-width="0.8"/><circle cx="653.2" cy="332.5" r="5.9" fill="#E41A1C" fill-opacity="0.5" stroke="#000" stroke-opacity="0.6" stroke-width="0.8"/><circle cx="651.7" cy="256.4" r="5.9" fill="#E41A1C" fill-opacity="0.5" stroke="#000" stroke-opacity="0.6" stroke-width="0.8"/><circle cx="637.8" cy="270.4" r="5.9" fill="#E41A1C" fill-opacity="0.5" stroke="#000" stroke-opacity="0.6" stroke-width="0.8"/><circle cx="645.9" cy="294.8" r="5.9" fill="#E41A1C" fill-opacity="0.5" stroke="#000" stroke-opacity="0.6" stroke-width="0.8"/><circle cx="655.5" cy="269.2" r="5.9" fill="#E41A1C" fill-opacity="0.5" stroke="#000" stroke-opacity="0.6" stroke-width="0.8"/><circle cx="635.2" cy="290.0" r="5.9" fill="#E41A1C" fill-opacity="0.5" stroke="#000" stroke-opacity="0.6" stroke-width="0.8"/><circle cx="613.3" cy="277.0" r="5.9" fill="#E41A1C" fill-opacity="0.5" stroke="#000" stroke-opacity="0.6" stroke-width="0.8"/><circle cx="660.8" cy="265.4" r="5.9" fill="#E41A1C" fill-opacity="0.5" stroke="#000" stroke-opacity="0.6" stroke-width="0.8"/><circle cx="623.3" cy="268.4" r="5.9" fill="#E41A1C" fill-opacity="0.5" stroke="#000" stroke-opacity="0.6" stroke-width="0.8"/><circle cx="634.8" cy="273.7" r="5.9" fill="#E41A1C" fill-opacity="0.5" stroke="#000" stroke-opacity="0.6" stroke-width="0.8"/><circle cx="624.1" cy="254.6" r="5.9" fill="#E41A1C" fill-opacity="0.5" stroke="#000" stroke-opacity="0.6" stroke-width="0.8"/><circle cx="623.4" cy="271.1" r="5.9" fill="#E41A1C" fill-opacity="0.5" stroke="#000" stroke-opacity="0.6" stroke-width="0.8"/><circle cx="655.6" cy="278.1" r="5.9" fill="#E41A1C" fill-opacity="0.5" stroke="#000" stroke-opacity="0.6" stroke-width="0.8"/><circle cx="645.4" cy="251.4" r="5.9" fill="#E41A1C" fill-opacity="0.5" stroke="#000" stroke-opacity="0.6" stroke-width="0.8"/><circle cx="618.3" cy="262.0" r="5.9" fill="#E41A1C" fill-opacity="0.5" stroke="#000" stroke-opacity="0.6" stroke-width="0.8"/><circle cx="649.5" cy="289.2" r="5.9" fill="#E41A1C" fill-opacity="0.5" stroke="#000" stroke-opacity="0.6" stroke-width="0.8"/><circle cx="660.7" cy="268.4" r="5.9" fill="#E41A1C" fill-opacity="0.5" stroke="#000" stroke-opacity="0.6" stroke-width="0.8"/><circle cx="655.2" cy="286.3" r="5.9" fill="#E41A1C" fill-opacity="0.5" stroke="#000" stroke-opacity="0.6" stroke-width="0.8"/><circle cx="627.8" cy="280.3" r="5.9" fill="#E41A1C" fill-opacity="0.5" stroke="#000" stroke-opacity="0.6" stroke-width="0.8"/><circle cx="638.3" cy="280.4" r="5.9" fill="#E41A1C" fill-opacity="0.5" stroke="#000" stroke-opacity="0.6" stroke-width="0.8"/><circle cx="653.5" cy="267.8" r="5.9" fill="#E41A1C" fill-opacity="0.5" stroke="#000" stroke-opacity="0.6" stroke-width="0.8"/><circle cx="621.0" cy="277.5" r="5.9" fill="#E41A1C" fill-opacity="0.5" stroke="#000" stroke-opacity="0.6" stroke-width="0.8"/><circle cx="648.6" cy="286.6" r="5.9" fill="#E41A1C" fill-opacity="0.5" stroke="#000" stroke-opacity="0.6" stroke-width="0.8"/><circle cx="631.5" cy="269.6" r="5.9" fill="#E41A1C" fill-opacity="0.5" stroke="#000" stroke-opacity="0.6" stroke-width="0.8"/><circle cx="638.4" cy="294.0" r="5.9" fill="#E41A1C" fill-opacity="0.5" stroke="#000" stroke-opacity="0.6" stroke-width="0.8"/><circle cx="639.1" cy="266.3" r="5.9" fill="#E41A1C" fill-opacity="0.5" stroke="#000" stroke-opacity="0.6" stroke-width="0.8"/><circle cx="637.5" cy="240.1" r="5.9" fill="#E41A1C" fill-opacity="0.5" stroke="#000" stroke-opacity="0.6" stroke-width="0.8"/><circle cx="614.3" cy="288.6" r="5.9" fill="#E41A1C" fill-opacity="0.5" stroke="#000" stroke-opacity="0.6" stroke-width="0.8"/><circle cx="663.1" cy="280.7" r="5.9" fill="#E41A1C" fill-opacity="0.5" stroke="#000" stroke-opacity="0.6" stroke-width="0.8"/><circle cx="632.5" cy="250.3" r="5.9" fill="#E41A1C" fill-opacity="0.5" stroke="#000" stroke-opacity="0.6" stroke-width="0.8"/><circle cx="638.1" cy="308.7" r="5.9" fill="#E41A1C" fill-opacity="0.5" stroke="#000" stroke-opacity="0.6" stroke-width="0.8"/><circle cx="652.1" cy="276.9" r="5.9" fill="#E41A1C" fill-opacity="0.5" stroke="#000" stroke-opacity="0.6" stroke-width="0.8"/><circle cx="656.7" cy="254.7" r="5.9" fill="#E41A1C" fill-opacity="0.5" stroke="#000" stroke-opacity="0.6" stroke-width="0.8"/><circle cx="624.1" cy="301.1" r="5.9" fill="#E41A1C" fill-opacity="0.5" stroke="#000" stroke-opacity="0.6" stroke-width="0.8"/><circle cx="628.1" cy="302.5" r="5.9" fill="#E41A1C" fill-opacity="0.5" stroke="#000" stroke-opacity="0.6" stroke-width="0.8"/><circle cx="635.8" cy="289.6" r="5.9" fill="#E41A1C" fill-opacity="0.5" stroke="#000" stroke-opacity="0.6" stroke-width="0.8"/><circle cx="624.8" cy="293.6" r="5.9" fill="#E41A1C" fill-opacity="0.5" stroke="#000" stroke-opacity="0.6" stroke-width="0.8"/><circle cx="646.9" cy="299.3" r="5.9" fill="#E41A1C" fill-opacity="0.5" stroke="#000" stroke-opacity="0.6" stroke-width="0.8"/><circle cx="642.1" cy="299.4" r="5.9" fill="#E41A1C" fill-opacity="0.5" stroke="#000" stroke-opacity="0.6" stroke-width="0.8"/><circle cx="636.2" cy="291.6" r="5.9" fill="#E41A1C" fill-opacity="0.5" stroke="#000" stroke-opacity="0.6" stroke-width="0.8"/><circle cx="636.0" cy="308.8" r="5.9" fill="#E41A1C" fill-opacity="0.5" stroke="#000" stroke-opacity="0.6" stroke-width="0.8"/><circle cx="632.7" cy="305.8" r="5.9" fill="#E41A1C" fill-opacity="0.5" stroke="#000" stroke-opacity="0.6" stroke-width="0.8"/><circle cx="637.1" cy="289.5" r="5.9" fill="#E41A1C" fill-opacity="0.5" stroke="#000" stroke-opacity="0.6" stroke-width="0.8"/></g>
<line x1="565.0" y1="437.5" x2="1002.0" y2="437.5" stroke="#000" stroke-width="1.1"/>
<line x1="609.0" y1="437.5" x2="609.0" y2="429.0" stroke="#000" stroke-width="1.1"/>
<text x="609.0" y="459.7" font-size="23" text-anchor="middle" fill="#4D4D4D">−0.2</text>
<line x1="692.5" y1="437.5" x2="692.5" y2="429.0" stroke="#000" stroke-width="1.1"/>
<text x="692.5" y="459.7" font-size="23" text-anchor="middle" fill="#4D4D4D">0.0</text>
<line x1="776.0" y1="437.5" x2="776.0" y2="429.0" stroke="#000" stroke-width="1.1"/>
<text x="776.0" y="459.7" font-size="23" text-anchor="middle" fill="#4D4D4D">0.2</text>
<line x1="859.4" y1="437.5" x2="859.4" y2="429.0" stroke="#000" stroke-width="1.1"/>
<text x="859.4" y="459.7" font-size="23" text-anchor="middle" fill="#4D4D4D">0.4</text>
<line x1="942.9" y1="437.5" x2="942.9" y2="429.0" stroke="#000" stroke-width="1.1"/>
<text x="942.9" y="459.7" font-size="23" text-anchor="middle" fill="#4D4D4D">0.6</text>
<text x="1228.6" y="151.8" font-size="24.5" text-anchor="middle" fill="#1A1A1A">plus 2 years (FDR p = 0.503)</text>
<g><path d="M1084.4 290.3l7.6 12.4h-15.2z" fill="#377EB8" fill-opacity="0.5" stroke="#000" stroke-opacity="0.6" stroke-width="0.8"/><path d="M1101.1 293.1l7.6 12.4h-15.2z" fill="#377EB8" fill-opacity="0.5" stroke="#000" stroke-opacity="0.6" stroke-width="0.8"/><path d="M1071.8 269.2l7.6 12.4h-15.2z" fill="#377EB8" fill-opacity="0.5" stroke="#000" stroke-opacity="0.6" stroke-width="0.8"/><path d="M1045.5 252.4l7.6 12.4h-15.2z" fill="#377EB8" fill-opacity="0.5" stroke="#000" stroke-opacity="0.6" stroke-width="0.8"/><path d="M1107.6 302.1l7.6 12.4h-15.2z" fill="#377EB8" fill-opacity="0.5" stroke="#000" stroke-opacity="0.6" stroke-width="0.8"/><path d="M1026.3 277.2l7.6 12.4h-15.2z" fill="#377EB8" fill-opacity="0.5" stroke="#000" stroke-opacity="0.6" stroke-width="0.8"/><path d="M1066.8 296.6l7.6 12.4h-15.2z" fill="#377EB8" fill-opacity="0.5" stroke="#000" stroke-opacity="0.6" stroke-width="0.8"/><path d="M1056.1 290.7l7.6 12.4h-15.2z" fill="#377EB8" fill-opacity="0.5" stroke="#000" stroke-opacity="0.6" stroke-width="0.8"/><path d="M1041.0 251.9l7.6 12.4h-15.2z" fill="#377EB8" fill-opacity="0.5" stroke="#000" stroke-opacity="0.6" stroke-width="0.8"/><path d="M1116.7 326.2l7.6 12.4h-15.2z" fill="#377EB8" fill-opacity="0.5" stroke="#000" stroke-opacity="0.6" stroke-width="0.8"/><path d="M1096.0 314.9l7.6 12.4h-15.2z" fill="#377EB8" fill-opacity="0.5" stroke="#000" stroke-opacity="0.6" stroke-width="0.8"/><path d="M1079.1 312.0l7.6 12.4h-15.2z" fill="#377EB8" fill-opacity="0.5" stroke="#000" stroke-opacity="0.6" stroke-width="0.8"/><path d="M1034.8 290.0l7.6 12.4h-15.2z" fill="#377EB8" fill-opacity="0.5" stroke="#000" stroke-opacity="0.6" stroke-width="0.8"/><path d="M1112.2 325.7l7.6 12.4h-15.2z" fill="#377EB8" fill-opacity="0.5" stroke="#000" stroke-opacity="0.6" stroke-width="0.8"/><path d="M1062.6 280.4l7.6 12.4h-15.2z" fill="#377EB8" fill-opacity="0.5" stroke="#000" stroke-opacity="0.6" stroke-width="0.8"/><path d="M1066.6 282.2l7.6 12.4h-15.2z" fill="#377EB8" fill-opacity="0.5" stroke="#000" stroke-opacity="0.6" stroke-width="0.8"/><path d="M1070.9 291.3l7.6 12.4h-15.2z" fill="#377EB8" fill-opacity="0.5" stroke="#000" stroke-opacity="0.6" stroke-width="0.8"/><path d="M1076.2 313.6l7.6 12.4h-15.2z" fill="#377EB8" fill-opacity="0.5" stroke="#000" stroke-opacity="0.6" stroke-width="0.8"/><path d="M1044.4 301.5l7.6 12.4h-15.2z" fill="#377EB8" fill-opacity="0.5" stroke="#000" stroke-opacity="0.6" stroke-width="0.8"/><path d="M1076.8 302.7l7.6 12.4h-15.2z" fill="#377EB8" fill-opacity="0.5" stroke="#000" stroke-opacity="0.6" stroke-width="0.8"/><path d="M1040.4 263.4l7.6 12.4h-15.2z" fill="#377EB8" fill-opacity="0.5" stroke="#000" stroke-opacity="0.6" stroke-width="0.8"/><path d="M1056.5 300.5l7.6 12.4h-15.2z" fill="#377EB8" fill-opacity="0.5" stroke="#000" stroke-opacity="0.6" stroke-width="0.8"/><path d="M1190.0 210.8l7.6 12.4h-15.2z" fill="#377EB8" fill-opacity="0.5" stroke="#000" stroke-opacity="0.6" stroke-width="0.8"/><path d="M1185.0 261.3l7.6 12.4h-15.2z" fill="#377EB8" fill-opacity="0.5" stroke="#000" stroke-opacity="0.6" stroke-width="0.8"/><path d="M1096.2 242.6l7.6 12.4h-15.2z" fill="#377EB8" fill-opacity="0.5" stroke="#000" stroke-opacity="0.6" stroke-width="0.8"/><path d="M1101.2 250.1l7.6 12.4h-15.2z" fill="#377EB8" fill-opacity="0.5" stroke="#000" stroke-opacity="0.6" stroke-width="0.8"/><path d="M1050.8 245.1l7.6 12.4h-15.2z" fill="#377EB8" fill-opacity="0.5" stroke="#000" stroke-opacity="0.6" stroke-width="0.8"/><path d="M1135.0 288.1l7.6 12.4h-15.2z" fill="#377EB8" fill-opacity="0.5" stroke="#000" stroke-opacity="0.6" stroke-width="0.8"/><path d="M1122.0 301.8l7.6 12.4h-15.2z" fill="#377EB8" fill-opacity="0.5" stroke="#000" stroke-opacity="0.6" stroke-width="0.8"/><path d="M1123.8 314.3l7.6 12.4h-15.2z" fill="#377EB8" fill-opacity="0.5" stroke="#000" stroke-opacity="0.6" stroke-width="0.8"/><path d="M1102.5 287.6l7.6 12.4h-15.2z" fill="#377EB8" fill-opacity="0.5" stroke="#000" stroke-opacity="0.6" stroke-width="0.8"/><path d="M1167.0 310.8l7.6 12.4h-15.2z" fill="#377EB8" fill-opacity="0.5" stroke="#000" stroke-opacity="0.6" stroke-width="0.8"/><path d="M1202.0 322.8l7.6 12.4h-15.2z" fill="#377EB8" fill-opacity="0.5" stroke="#000" stroke-opacity="0.6" stroke-width="0.8"/><path d="M1205.8 331.8l7.6 12.4h-15.2z" fill="#377EB8" fill-opacity="0.5" stroke="#000" stroke-opacity="0.6" stroke-width="0.8"/><path d="M1227.5 327.8l7.6 12.4h-15.2z" fill="#377EB8" fill-opacity="0.5" stroke="#000" stroke-opacity="0.6" stroke-width="0.8"/><path d="M1141.2 322.8l7.6 12.4h-15.2z" fill="#377EB8" fill-opacity="0.5" stroke="#000" stroke-opacity="0.6" stroke-width="0.8"/><path d="M1220.0 375.8l7.6 12.4h-15.2z" fill="#377EB8" fill-opacity="0.5" stroke="#000" stroke-opacity="0.6" stroke-width="0.8"/><path d="M1226.2 379.3l7.6 12.4h-15.2z" fill="#377EB8" fill-opacity="0.5" stroke="#000" stroke-opacity="0.6" stroke-width="0.8"/><path d="M1277.5 386.3l7.6 12.4h-15.2z" fill="#377EB8" fill-opacity="0.5" stroke="#000" stroke-opacity="0.6" stroke-width="0.8"/><path d="M1315.5 386.8l7.6 12.4h-15.2z" fill="#377EB8" fill-opacity="0.5" stroke="#000" stroke-opacity="0.6" stroke-width="0.8"/><path d="M1330.0 384.3l7.6 12.4h-15.2z" fill="#377EB8" fill-opacity="0.5" stroke="#000" stroke-opacity="0.6" stroke-width="0.8"/><path d="M1282.0 405.8l7.6 12.4h-15.2z" fill="#377EB8" fill-opacity="0.5" stroke="#000" stroke-opacity="0.6" stroke-width="0.8"/><path d="M1294.5 415.1l7.6 12.4h-15.2z" fill="#377EB8" fill-opacity="0.5" stroke="#000" stroke-opacity="0.6" stroke-width="0.8"/><path d="M1220.8 417.6l7.6 12.4h-15.2z" fill="#377EB8" fill-opacity="0.5" stroke="#000" stroke-opacity="0.6" stroke-width="0.8"/><path d="M1152.5 349.3l7.6 12.4h-15.2z" fill="#377EB8" fill-opacity="0.5" stroke="#000" stroke-opacity="0.6" stroke-width="0.8"/><path d="M1115.0 317.6l7.6 12.4h-15.2z" fill="#377EB8" fill-opacity="0.5" stroke="#000" stroke-opacity="0.6" stroke-width="0.8"/><path d="M1030.0 253.8l7.6 12.4h-15.2z" fill="#377EB8" fill-opacity="0.5" stroke="#000" stroke-opacity="0.6" stroke-width="0.8"/><path d="M1210.0 195.3l7.6 12.4h-15.2z" fill="#E41A1C" fill-opacity="0.5" stroke="#000" stroke-opacity="0.6" stroke-width="0.8"/><path d="M1059.2 211.8l7.6 12.4h-15.2z" fill="#E41A1C" fill-opacity="0.5" stroke="#000" stroke-opacity="0.6" stroke-width="0.8"/><path d="M1327.5 233.1l7.6 12.4h-15.2z" fill="#E41A1C" fill-opacity="0.5" stroke="#000" stroke-opacity="0.6" stroke-width="0.8"/><path d="M1036.2 237.6l7.6 12.4h-15.2z" fill="#E41A1C" fill-opacity="0.5" stroke="#000" stroke-opacity="0.6" stroke-width="0.8"/><path d="M1145.0 245.8l7.6 12.4h-15.2z" fill="#E41A1C" fill-opacity="0.5" stroke="#000" stroke-opacity="0.6" stroke-width="0.8"/><path d="M1132.0 255.8l7.6 12.4h-15.2z" fill="#E41A1C" fill-opacity="0.5" stroke="#000" stroke-opacity="0.6" stroke-width="0.8"/><path d="M1126.2 266.3l7.6 12.4h-15.2z" fill="#E41A1C" fill-opacity="0.5" stroke="#000" stroke-opacity="0.6" stroke-width="0.8"/><path d="M1192.0 265.8l7.6 12.4h-15.2z" fill="#E41A1C" fill-opacity="0.5" stroke="#000" stroke-opacity="0.6" stroke-width="0.8"/><path d="M1384.2 318.1l7.6 12.4h-15.2z" fill="#E41A1C" fill-opacity="0.5" stroke="#000" stroke-opacity="0.6" stroke-width="0.8"/><path d="M1190.0 322.8l7.6 12.4h-15.2z" fill="#E41A1C" fill-opacity="0.5" stroke="#000" stroke-opacity="0.6" stroke-width="0.8"/><path d="M1172.5 317.3l7.6 12.4h-15.2z" fill="#E41A1C" fill-opacity="0.5" stroke="#000" stroke-opacity="0.6" stroke-width="0.8"/><path d="M1135.8 325.3l7.6 12.4h-15.2z" fill="#E41A1C" fill-opacity="0.5" stroke="#000" stroke-opacity="0.6" stroke-width="0.8"/><path d="M1318.0 353.3l7.6 12.4h-15.2z" fill="#E41A1C" fill-opacity="0.5" stroke="#000" stroke-opacity="0.6" stroke-width="0.8"/><path d="M1345.8 354.3l7.6 12.4h-15.2z" fill="#E41A1C" fill-opacity="0.5" stroke="#000" stroke-opacity="0.6" stroke-width="0.8"/><path d="M1352.5 368.3l7.6 12.4h-15.2z" fill="#E41A1C" fill-opacity="0.5" stroke="#000" stroke-opacity="0.6" stroke-width="0.8"/><path d="M1332.5 371.3l7.6 12.4h-15.2z" fill="#E41A1C" fill-opacity="0.5" stroke="#000" stroke-opacity="0.6" stroke-width="0.8"/><path d="M1310.5 378.3l7.6 12.4h-15.2z" fill="#E41A1C" fill-opacity="0.5" stroke="#000" stroke-opacity="0.6" stroke-width="0.8"/><path d="M1183.8 363.8l7.6 12.4h-15.2z" fill="#E41A1C" fill-opacity="0.5" stroke="#000" stroke-opacity="0.6" stroke-width="0.8"/><path d="M1226.8 405.1l7.6 12.4h-15.2z" fill="#E41A1C" fill-opacity="0.5" stroke="#000" stroke-opacity="0.6" stroke-width="0.8"/><path d="M1160.0 343.8l7.6 12.4h-15.2z" fill="#E41A1C" fill-opacity="0.5" stroke="#000" stroke-opacity="0.6" stroke-width="0.8"/><path d="M1143.8 341.3l7.6 12.4h-15.2z" fill="#E41A1C" fill-opacity="0.5" stroke="#000" stroke-opacity="0.6" stroke-width="0.8"/><path d="M1146.2 347.6l7.6 12.4h-15.2z" fill="#E41A1C" fill-opacity="0.5" stroke="#000" stroke-opacity="0.6" stroke-width="0.8"/><path d="M1111.2 293.8l7.6 12.4h-15.2z" fill="#E41A1C" fill-opacity="0.5" stroke="#000" stroke-opacity="0.6" stroke-width="0.8"/><path d="M1132.5 296.3l7.6 12.4h-15.2z" fill="#E41A1C" fill-opacity="0.5" stroke="#000" stroke-opacity="0.6" stroke-width="0.8"/><path d="M1101.2 338.8l7.6 12.4h-15.2z" fill="#E41A1C" fill-opacity="0.5" stroke="#000" stroke-opacity="0.6" stroke-width="0.8"/><path d="M1074.5 243.3l7.6 12.4h-15.2z" fill="#E41A1C" fill-opacity="0.5" stroke="#000" stroke-opacity="0.6" stroke-width="0.8"/><path d="M1089.2 246.3l7.6 12.4h-15.2z" fill="#E41A1C" fill-opacity="0.5" stroke="#000" stroke-opacity="0.6" stroke-width="0.8"/><path d="M1083.8 259.3l7.6 12.4h-15.2z" fill="#E41A1C" fill-opacity="0.5" stroke="#000" stroke-opacity="0.6" stroke-width="0.8"/><path d="M1101.2 270.1l7.6 12.4h-15.2z" fill="#E41A1C" fill-opacity="0.5" stroke="#000" stroke-opacity="0.6" stroke-width="0.8"/><path d="M1040.8 259.2l7.6 12.4h-15.2z" fill="#E41A1C" fill-opacity="0.5" stroke="#000" stroke-opacity="0.6" stroke-width="0.8"/><path d="M1086.0 278.7l7.6 12.4h-15.2z" fill="#E41A1C" fill-opacity="0.5" stroke="#000" stroke-opacity="0.6" stroke-width="0.8"/><path d="M1081.1 329.5l7.6 12.4h-15.2z" fill="#E41A1C" fill-opacity="0.5" stroke="#000" stroke-opacity="0.6" stroke-width="0.8"/><path d="M1089.2 328.8l7.6 12.4h-15.2z" fill="#E41A1C" fill-opacity="0.5" stroke="#000" stroke-opacity="0.6" stroke-width="0.8"/><path d="M1108.2 299.8l7.6 12.4h-15.2z" fill="#E41A1C" fill-opacity="0.5" stroke="#000" stroke-opacity="0.6" stroke-width="0.8"/><path d="M1053.0 265.2l7.6 12.4h-15.2z" fill="#E41A1C" fill-opacity="0.5" stroke="#000" stroke-opacity="0.6" stroke-width="0.8"/><path d="M1105.1 299.2l7.6 12.4h-15.2z" fill="#E41A1C" fill-opacity="0.5" stroke="#000" stroke-opacity="0.6" stroke-width="0.8"/><path d="M1113.7 315.8l7.6 12.4h-15.2z" fill="#E41A1C" fill-opacity="0.5" stroke="#000" stroke-opacity="0.6" stroke-width="0.8"/><path d="M1090.5 301.8l7.6 12.4h-15.2z" fill="#E41A1C" fill-opacity="0.5" stroke="#000" stroke-opacity="0.6" stroke-width="0.8"/><path d="M1053.2 316.4l7.6 12.4h-15.2z" fill="#E41A1C" fill-opacity="0.5" stroke="#000" stroke-opacity="0.6" stroke-width="0.8"/><path d="M1071.9 293.6l7.6 12.4h-15.2z" fill="#E41A1C" fill-opacity="0.5" stroke="#000" stroke-opacity="0.6" stroke-width="0.8"/><path d="M1062.6 306.0l7.6 12.4h-15.2z" fill="#E41A1C" fill-opacity="0.5" stroke="#000" stroke-opacity="0.6" stroke-width="0.8"/><path d="M1059.1 299.2l7.6 12.4h-15.2z" fill="#E41A1C" fill-opacity="0.5" stroke="#000" stroke-opacity="0.6" stroke-width="0.8"/><path d="M1051.7 300.4l7.6 12.4h-15.2z" fill="#E41A1C" fill-opacity="0.5" stroke="#000" stroke-opacity="0.6" stroke-width="0.8"/><path d="M1075.5 286.3l7.6 12.4h-15.2z" fill="#E41A1C" fill-opacity="0.5" stroke="#000" stroke-opacity="0.6" stroke-width="0.8"/><path d="M1088.1 294.5l7.6 12.4h-15.2z" fill="#E41A1C" fill-opacity="0.5" stroke="#000" stroke-opacity="0.6" stroke-width="0.8"/><path d="M1057.4 286.1l7.6 12.4h-15.2z" fill="#E41A1C" fill-opacity="0.5" stroke="#000" stroke-opacity="0.6" stroke-width="0.8"/><path d="M1061.7 257.1l7.6 12.4h-15.2z" fill="#E41A1C" fill-opacity="0.5" stroke="#000" stroke-opacity="0.6" stroke-width="0.8"/><path d="M1075.8 279.0l7.6 12.4h-15.2z" fill="#E41A1C" fill-opacity="0.5" stroke="#000" stroke-opacity="0.6" stroke-width="0.8"/><path d="M1054.7 279.7l7.6 12.4h-15.2z" fill="#E41A1C" fill-opacity="0.5" stroke="#000" stroke-opacity="0.6" stroke-width="0.8"/><path d="M1041.5 251.9l7.6 12.4h-15.2z" fill="#E41A1C" fill-opacity="0.5" stroke="#000" stroke-opacity="0.6" stroke-width="0.8"/><path d="M1074.7 317.7l7.6 12.4h-15.2z" fill="#E41A1C" fill-opacity="0.5" stroke="#000" stroke-opacity="0.6" stroke-width="0.8"/><path d="M1062.7 320.5l7.6 12.4h-15.2z" fill="#E41A1C" fill-opacity="0.5" stroke="#000" stroke-opacity="0.6" stroke-width="0.8"/><path d="M1104.8 291.9l7.6 12.4h-15.2z" fill="#E41A1C" fill-opacity="0.5" stroke="#000" stroke-opacity="0.6" stroke-width="0.8"/><path d="M1073.6 299.4l7.6 12.4h-15.2z" fill="#E41A1C" fill-opacity="0.5" stroke="#000" stroke-opacity="0.6" stroke-width="0.8"/><path d="M1118.8 313.2l7.6 12.4h-15.2z" fill="#E41A1C" fill-opacity="0.5" stroke="#000" stroke-opacity="0.6" stroke-width="0.8"/><path d="M1068.7 311.8l7.6 12.4h-15.2z" fill="#E41A1C" fill-opacity="0.5" stroke="#000" stroke-opacity="0.6" stroke-width="0.8"/><path d="M1085.2 279.4l7.6 12.4h-15.2z" fill="#E41A1C" fill-opacity="0.5" stroke="#000" stroke-opacity="0.6" stroke-width="0.8"/><path d="M1098.8 319.8l7.6 12.4h-15.2z" fill="#E41A1C" fill-opacity="0.5" stroke="#000" stroke-opacity="0.6" stroke-width="0.8"/><path d="M1081.8 330.5l7.6 12.4h-15.2z" fill="#E41A1C" fill-opacity="0.5" stroke="#000" stroke-opacity="0.6" stroke-width="0.8"/><path d="M1084.3 278.2l7.6 12.4h-15.2z" fill="#E41A1C" fill-opacity="0.5" stroke="#000" stroke-opacity="0.6" stroke-width="0.8"/><path d="M1065.0 272.0l7.6 12.4h-15.2z" fill="#E41A1C" fill-opacity="0.5" stroke="#000" stroke-opacity="0.6" stroke-width="0.8"/><path d="M1057.0 258.9l7.6 12.4h-15.2z" fill="#E41A1C" fill-opacity="0.5" stroke="#000" stroke-opacity="0.6" stroke-width="0.8"/><path d="M1043.9 270.8l7.6 12.4h-15.2z" fill="#E41A1C" fill-opacity="0.5" stroke="#000" stroke-opacity="0.6" stroke-width="0.8"/><path d="M1049.7 257.1l7.6 12.4h-15.2z" fill="#E41A1C" fill-opacity="0.5" stroke="#000" stroke-opacity="0.6" stroke-width="0.8"/><path d="M1068.4 266.7l7.6 12.4h-15.2z" fill="#E41A1C" fill-opacity="0.5" stroke="#000" stroke-opacity="0.6" stroke-width="0.8"/><path d="M1056.2 312.4l7.6 12.4h-15.2z" fill="#E41A1C" fill-opacity="0.5" stroke="#000" stroke-opacity="0.6" stroke-width="0.8"/><path d="M1112.4 321.0l7.6 12.4h-15.2z" fill="#E41A1C" fill-opacity="0.5" stroke="#000" stroke-opacity="0.6" stroke-width="0.8"/><path d="M1026.7 281.5l7.6 12.4h-15.2z" fill="#E41A1C" fill-opacity="0.5" stroke="#000" stroke-opacity="0.6" stroke-width="0.8"/><path d="M1042.6 291.2l7.6 12.4h-15.2z" fill="#E41A1C" fill-opacity="0.5" stroke="#000" stroke-opacity="0.6" stroke-width="0.8"/><path d="M1059.9 313.8l7.6 12.4h-15.2z" fill="#E41A1C" fill-opacity="0.5" stroke="#000" stroke-opacity="0.6" stroke-width="0.8"/><path d="M1092.4 289.0l7.6 12.4h-15.2z" fill="#E41A1C" fill-opacity="0.5" stroke="#000" stroke-opacity="0.6" stroke-width="0.8"/><path d="M1047.0 268.7l7.6 12.4h-15.2z" fill="#E41A1C" fill-opacity="0.5" stroke="#000" stroke-opacity="0.6" stroke-width="0.8"/><path d="M1048.7 254.4l7.6 12.4h-15.2z" fill="#E41A1C" fill-opacity="0.5" stroke="#000" stroke-opacity="0.6" stroke-width="0.8"/><path d="M1109.0 304.7l7.6 12.4h-15.2z" fill="#E41A1C" fill-opacity="0.5" stroke="#000" stroke-opacity="0.6" stroke-width="0.8"/><path d="M1085.3 315.4l7.6 12.4h-15.2z" fill="#E41A1C" fill-opacity="0.5" stroke="#000" stroke-opacity="0.6" stroke-width="0.8"/><path d="M1065.4 284.0l7.6 12.4h-15.2z" fill="#E41A1C" fill-opacity="0.5" stroke="#000" stroke-opacity="0.6" stroke-width="0.8"/><path d="M1061.7 266.5l7.6 12.4h-15.2z" fill="#E41A1C" fill-opacity="0.5" stroke="#000" stroke-opacity="0.6" stroke-width="0.8"/><path d="M1041.4 285.3l7.6 12.4h-15.2z" fill="#E41A1C" fill-opacity="0.5" stroke="#000" stroke-opacity="0.6" stroke-width="0.8"/><path d="M1043.2 285.9l7.6 12.4h-15.2z" fill="#E41A1C" fill-opacity="0.5" stroke="#000" stroke-opacity="0.6" stroke-width="0.8"/><path d="M1072.4 283.9l7.6 12.4h-15.2z" fill="#E41A1C" fill-opacity="0.5" stroke="#000" stroke-opacity="0.6" stroke-width="0.8"/><path d="M1060.6 302.6l7.6 12.4h-15.2z" fill="#E41A1C" fill-opacity="0.5" stroke="#000" stroke-opacity="0.6" stroke-width="0.8"/><path d="M1051.4 262.1l7.6 12.4h-15.2z" fill="#E41A1C" fill-opacity="0.5" stroke="#000" stroke-opacity="0.6" stroke-width="0.8"/><path d="M1076.8 293.9l7.6 12.4h-15.2z" fill="#E41A1C" fill-opacity="0.5" stroke="#000" stroke-opacity="0.6" stroke-width="0.8"/><path d="M1069.3 295.8l7.6 12.4h-15.2z" fill="#E41A1C" fill-opacity="0.5" stroke="#000" stroke-opacity="0.6" stroke-width="0.8"/><path d="M1064.2 298.2l7.6 12.4h-15.2z" fill="#E41A1C" fill-opacity="0.5" stroke="#000" stroke-opacity="0.6" stroke-width="0.8"/><path d="M1048.7 263.8l7.6 12.4h-15.2z" fill="#E41A1C" fill-opacity="0.5" stroke="#000" stroke-opacity="0.6" stroke-width="0.8"/><path d="M1058.3 301.6l7.6 12.4h-15.2z" fill="#E41A1C" fill-opacity="0.5" stroke="#000" stroke-opacity="0.6" stroke-width="0.8"/><path d="M1065.3 285.4l7.6 12.4h-15.2z" fill="#E41A1C" fill-opacity="0.5" stroke="#000" stroke-opacity="0.6" stroke-width="0.8"/><path d="M1040.6 278.0l7.6 12.4h-15.2z" fill="#E41A1C" fill-opacity="0.5" stroke="#000" stroke-opacity="0.6" stroke-width="0.8"/><path d="M1036.8 264.6l7.6 12.4h-15.2z" fill="#E41A1C" fill-opacity="0.5" stroke="#000" stroke-opacity="0.6" stroke-width="0.8"/><path d="M1032.3 275.1l7.6 12.4h-15.2z" fill="#E41A1C" fill-opacity="0.5" stroke="#000" stroke-opacity="0.6" stroke-width="0.8"/><path d="M1064.2 307.8l7.6 12.4h-15.2z" fill="#E41A1C" fill-opacity="0.5" stroke="#000" stroke-opacity="0.6" stroke-width="0.8"/><path d="M1049.7 280.8l7.6 12.4h-15.2z" fill="#E41A1C" fill-opacity="0.5" stroke="#000" stroke-opacity="0.6" stroke-width="0.8"/><path d="M1047.2 276.9l7.6 12.4h-15.2z" fill="#E41A1C" fill-opacity="0.5" stroke="#000" stroke-opacity="0.6" stroke-width="0.8"/><path d="M1076.5 291.5l7.6 12.4h-15.2z" fill="#E41A1C" fill-opacity="0.5" stroke="#000" stroke-opacity="0.6" stroke-width="0.8"/><path d="M1045.4 265.1l7.6 12.4h-15.2z" fill="#E41A1C" fill-opacity="0.5" stroke="#000" stroke-opacity="0.6" stroke-width="0.8"/><path d="M1076.8 301.0l7.6 12.4h-15.2z" fill="#E41A1C" fill-opacity="0.5" stroke="#000" stroke-opacity="0.6" stroke-width="0.8"/><path d="M1062.6 313.6l7.6 12.4h-15.2z" fill="#E41A1C" fill-opacity="0.5" stroke="#000" stroke-opacity="0.6" stroke-width="0.8"/><path d="M1065.4 315.2l7.6 12.4h-15.2z" fill="#E41A1C" fill-opacity="0.5" stroke="#000" stroke-opacity="0.6" stroke-width="0.8"/><path d="M1033.3 283.6l7.6 12.4h-15.2z" fill="#E41A1C" fill-opacity="0.5" stroke="#000" stroke-opacity="0.6" stroke-width="0.8"/><path d="M1071.0 316.9l7.6 12.4h-15.2z" fill="#E41A1C" fill-opacity="0.5" stroke="#000" stroke-opacity="0.6" stroke-width="0.8"/><path d="M1078.1 315.4l7.6 12.4h-15.2z" fill="#E41A1C" fill-opacity="0.5" stroke="#000" stroke-opacity="0.6" stroke-width="0.8"/><path d="M1041.5 263.2l7.6 12.4h-15.2z" fill="#E41A1C" fill-opacity="0.5" stroke="#000" stroke-opacity="0.6" stroke-width="0.8"/><path d="M1057.8 270.4l7.6 12.4h-15.2z" fill="#E41A1C" fill-opacity="0.5" stroke="#000" stroke-opacity="0.6" stroke-width="0.8"/><path d="M1085.8 315.5l7.6 12.4h-15.2z" fill="#E41A1C" fill-opacity="0.5" stroke="#000" stroke-opacity="0.6" stroke-width="0.8"/><path d="M1042.9 264.9l7.6 12.4h-15.2z" fill="#E41A1C" fill-opacity="0.5" stroke="#000" stroke-opacity="0.6" stroke-width="0.8"/><path d="M1061.6 268.8l7.6 12.4h-15.2z" fill="#E41A1C" fill-opacity="0.5" stroke="#000" stroke-opacity="0.6" stroke-width="0.8"/><path d="M1062.5 307.3l7.6 12.4h-15.2z" fill="#E41A1C" fill-opacity="0.5" stroke="#000" stroke-opacity="0.6" stroke-width="0.8"/><path d="M1045.1 283.9l7.6 12.4h-15.2z" fill="#E41A1C" fill-opacity="0.5" stroke="#000" stroke-opacity="0.6" stroke-width="0.8"/><path d="M1078.6 312.2l7.6 12.4h-15.2z" fill="#E41A1C" fill-opacity="0.5" stroke="#000" stroke-opacity="0.6" stroke-width="0.8"/><path d="M1071.1 283.3l7.6 12.4h-15.2z" fill="#E41A1C" fill-opacity="0.5" stroke="#000" stroke-opacity="0.6" stroke-width="0.8"/><path d="M1071.4 308.3l7.6 12.4h-15.2z" fill="#E41A1C" fill-opacity="0.5" stroke="#000" stroke-opacity="0.6" stroke-width="0.8"/><path d="M1068.2 272.9l7.6 12.4h-15.2z" fill="#E41A1C" fill-opacity="0.5" stroke="#000" stroke-opacity="0.6" stroke-width="0.8"/><path d="M1047.6 283.2l7.6 12.4h-15.2z" fill="#E41A1C" fill-opacity="0.5" stroke="#000" stroke-opacity="0.6" stroke-width="0.8"/><path d="M1076.1 292.0l7.6 12.4h-15.2z" fill="#E41A1C" fill-opacity="0.5" stroke="#000" stroke-opacity="0.6" stroke-width="0.8"/><path d="M1062.8 308.1l7.6 12.4h-15.2z" fill="#E41A1C" fill-opacity="0.5" stroke="#000" stroke-opacity="0.6" stroke-width="0.8"/><path d="M1049.8 292.1l7.6 12.4h-15.2z" fill="#E41A1C" fill-opacity="0.5" stroke="#000" stroke-opacity="0.6" stroke-width="0.8"/><path d="M1063.6 291.1l7.6 12.4h-15.2z" fill="#E41A1C" fill-opacity="0.5" stroke="#000" stroke-opacity="0.6" stroke-width="0.8"/><path d="M1044.0 292.2l7.6 12.4h-15.2z" fill="#E41A1C" fill-opacity="0.5" stroke="#000" stroke-opacity="0.6" stroke-width="0.8"/><path d="M1058.1 285.6l7.6 12.4h-15.2z" fill="#E41A1C" fill-opacity="0.5" stroke="#000" stroke-opacity="0.6" stroke-width="0.8"/><path d="M1052.5 305.7l7.6 12.4h-15.2z" fill="#E41A1C" fill-opacity="0.5" stroke="#000" stroke-opacity="0.6" stroke-width="0.8"/><path d="M1042.1 299.4l7.6 12.4h-15.2z" fill="#E41A1C" fill-opacity="0.5" stroke="#000" stroke-opacity="0.6" stroke-width="0.8"/><path d="M1040.3 285.5l7.6 12.4h-15.2z" fill="#E41A1C" fill-opacity="0.5" stroke="#000" stroke-opacity="0.6" stroke-width="0.8"/><path d="M1055.2 263.6l7.6 12.4h-15.2z" fill="#E41A1C" fill-opacity="0.5" stroke="#000" stroke-opacity="0.6" stroke-width="0.8"/><path d="M1071.8 287.4l7.6 12.4h-15.2z" fill="#E41A1C" fill-opacity="0.5" stroke="#000" stroke-opacity="0.6" stroke-width="0.8"/><path d="M1071.2 290.9l7.6 12.4h-15.2z" fill="#E41A1C" fill-opacity="0.5" stroke="#000" stroke-opacity="0.6" stroke-width="0.8"/><path d="M1063.2 290.1l7.6 12.4h-15.2z" fill="#E41A1C" fill-opacity="0.5" stroke="#000" stroke-opacity="0.6" stroke-width="0.8"/><path d="M1076.4 298.9l7.6 12.4h-15.2z" fill="#E41A1C" fill-opacity="0.5" stroke="#000" stroke-opacity="0.6" stroke-width="0.8"/><path d="M1066.1 276.1l7.6 12.4h-15.2z" fill="#E41A1C" fill-opacity="0.5" stroke="#000" stroke-opacity="0.6" stroke-width="0.8"/></g>
<line x1="1010.6" y1="437.5" x2="1446.6" y2="437.5" stroke="#000" stroke-width="1.1"/>
<line x1="1054.3" y1="437.5" x2="1054.3" y2="429.0" stroke="#000" stroke-width="1.1"/>
<text x="1054.3" y="459.7" font-size="23" text-anchor="middle" fill="#4D4D4D">−0.2</text>
<line x1="1137.8" y1="437.5" x2="1137.8" y2="429.0" stroke="#000" stroke-width="1.1"/>
<text x="1137.8" y="459.7" font-size="23" text-anchor="middle" fill="#4D4D4D">0.0</text>
<line x1="1221.3" y1="437.5" x2="1221.3" y2="429.0" stroke="#000" stroke-width="1.1"/>
<text x="1221.3" y="459.7" font-size="23" text-anchor="middle" fill="#4D4D4D">0.2</text>
<line x1="1304.7" y1="437.5" x2="1304.7" y2="429.0" stroke="#000" stroke-width="1.1"/>
<text x="1304.7" y="459.7" font-size="23" text-anchor="middle" fill="#4D4D4D">0.4</text>
<line x1="1388.2" y1="437.5" x2="1388.2" y2="429.0" stroke="#000" stroke-width="1.1"/>
<text x="1388.2" y="459.7" font-size="23" text-anchor="middle" fill="#4D4D4D">0.6</text>
<line x1="120.0" y1="159.2" x2="120.0" y2="437.5" stroke="#000" stroke-width="1.1"/>
<line x1="120.0" y1="167.3" x2="128.5" y2="167.3" stroke="#000" stroke-width="1.1"/>
<text x="112.9" y="175.5" font-size="23" text-anchor="end" fill="#4D4D4D">0.4</text>
<line x1="120.0" y1="226.2" x2="128.5" y2="226.2" stroke="#000" stroke-width="1.1"/>
<text x="112.9" y="234.4" font-size="23" text-anchor="end" fill="#4D4D4D">0.2</text>
<line x1="120.0" y1="285.1" x2="128.5" y2="285.1" stroke="#000" stroke-width="1.1"/>
<text x="112.9" y="293.3" font-size="23" text-anchor="end" fill="#4D4D4D">0.0</text>
<line x1="120.0" y1="344.0" x2="128.5" y2="344.0" stroke="#000" stroke-width="1.1"/>
<text x="112.9" y="352.2" font-size="23" text-anchor="end" fill="#4D4D4D">−0.2</text>
<line x1="120.0" y1="402.9" x2="128.5" y2="402.9" stroke="#000" stroke-width="1.1"/>
<text x="112.9" y="411.1" font-size="23" text-anchor="end" fill="#4D4D4D">−0.4</text>
<text x="783.0" y="493.0" font-size="29.1" text-anchor="middle" fill="#000">PCoA1 (31.2%)</text>
<text transform="translate(55.3 298.4) rotate(-90)" font-size="29.1" text-anchor="middle" fill="#000">PCoA2 (13.5%)</text>
<text x="1755.2" y="110.8" font-size="26" text-anchor="middle" fill="#000">Kruskal–Wallis FDR p = 0.851</text>
<line x1="1654.7" y1="260.3" x2="1654.7" y2="427.0" stroke="#333" stroke-width="1.6"/>
<rect x="1579.2" y="340.4" width="151.3" height="55.2" fill="#E8474A" stroke="#333" stroke-width="1.6"/>
<line x1="1579.2" y1="376.0" x2="1730.5" y2="376.0" stroke="#333" stroke-width="3.2"/>
<line x1="1856.2" y1="252.4" x2="1856.2" y2="419.8" stroke="#333" stroke-width="1.6"/>
<rect x="1780.4" y="338.9" width="151.3" height="57.3" fill="#5E97C7" stroke="#333" stroke-width="1.6"/>
<line x1="1780.4" y1="377.5" x2="1931.7" y2="377.5" stroke="#333" stroke-width="3.2"/>
<g fill="#000" fill-opacity="0.6" stroke="#000" stroke-opacity="0.5" stroke-width="0.9"><circle cx="1631.9" cy="175.8" r="3.55"/><circle cx="1625.4" cy="181.9" r="3.55"/><circle cx="1625.9" cy="191.4" r="3.55"/><circle cx="1629.1" cy="197.7" r="3.55"/><circle cx="1640.5" cy="196.6" r="3.55"/><circle cx="1645.4" cy="195.6" r="3.55"/><circle cx="1649.6" cy="193.5" r="3.55"/><circle cx="1650.0" cy="183.8" r="3.55"/><circle cx="1661.1" cy="171.9" r="3.55"/><circle cx="1661.5" cy="177.5" r="3.55"/><circle cx="1662.2" cy="183.8" r="3.55"/><circle cx="1665.4" cy="185.2" r="3.55"/><circle cx="1666.4" cy="190.0" r="3.55"/><circle cx="1672.4" cy="171.9" r="3.55"/><circle cx="1677.6" cy="180.7" r="3.55"/><circle cx="1676.2" cy="184.5" r="3.55"/><circle cx="1685.0" cy="185.9" r="3.55"/><circle cx="1670.6" cy="198.4" r="3.55"/><circle cx="1640.5" cy="216.6" r="3.55"/><circle cx="1641.2" cy="217.3" r="3.55"/><circle cx="1650.0" cy="213.8" r="3.55"/><circle cx="1662.2" cy="214.9" r="3.55"/><circle cx="1664.3" cy="222.5" r="3.55"/><circle cx="1626.8" cy="226.1" r="3.55"/><circle cx="1625.9" cy="233.0" r="3.55"/><circle cx="1625.9" cy="241.3" r="3.55"/><circle cx="1628.7" cy="241.8" r="3.55"/><circle cx="1636.6" cy="243.9" r="3.55"/><circle cx="1643.6" cy="226.8" r="3.55"/><circle cx="1651.0" cy="229.2" r="3.55"/><circle cx="1646.1" cy="236.9" r="3.55"/><circle cx="1649.6" cy="234.8" r="3.55"/><circle cx="1654.5" cy="240.4" r="3.55"/><circle cx="1655.9" cy="230.6" r="3.55"/><circle cx="1658.7" cy="233.4" r="3.55"/><circle cx="1673.0" cy="229.9" r="3.55"/><circle cx="1675.8" cy="234.8" r="3.55"/><circle cx="1677.6" cy="240.8" r="3.55"/><circle cx="1684.3" cy="242.9" r="3.55"/><circle cx="1681.8" cy="227.4" r="3.55"/><circle cx="1648.9" cy="254.3" r="3.55"/><circle cx="1660.1" cy="250.8" r="3.55"/><circle cx="1676.2" cy="259.7" r="3.55"/><circle cx="1676.9" cy="267.3" r="3.55"/><circle cx="1675.8" cy="275.7" r="3.55"/><circle cx="1672.0" cy="282.6" r="3.55"/><circle cx="1680.4" cy="284.0" r="3.55"/><circle cx="1648.9" cy="269.3" r="3.55"/><circle cx="1656.6" cy="269.0" r="3.55"/><circle cx="1654.8" cy="273.9" r="3.55"/><circle cx="1658.7" cy="290.0" r="3.55"/><circle cx="1660.1" cy="292.1" r="3.55"/><circle cx="1662.6" cy="294.9" r="3.55"/><circle cx="1627.7" cy="304.0" r="3.55"/><circle cx="1625.9" cy="312.1" r="3.55"/><circle cx="1644.7" cy="305.4" r="3.55"/><circle cx="1652.0" cy="304.0" r="3.55"/><circle cx="1656.6" cy="307.4" r="3.55"/><circle cx="1665.0" cy="305.8" r="3.55"/><circle cx="1668.1" cy="310.9" r="3.55"/><circle cx="1657.3" cy="313.7" r="3.55"/><circle cx="1656.6" cy="315.8" r="3.55"/><circle cx="1650.6" cy="319.7" r="3.55"/><circle cx="1646.1" cy="323.1" r="3.55"/><circle cx="1679.0" cy="310.7" r="3.55"/><circle cx="1679.0" cy="316.5" r="3.55"/><circle cx="1682.2" cy="320.3" r="3.55"/><circle cx="1625.9" cy="329.1" r="3.55"/><circle cx="1624.9" cy="333.3" r="3.55"/><circle cx="1624.9" cy="337.5" r="3.55"/><circle cx="1637.5" cy="328.7" r="3.55"/><circle cx="1641.6" cy="327.7" r="3.55"/><circle cx="1634.9" cy="334.0" r="3.55"/><circle cx="1654.5" cy="331.6" r="3.55"/><circle cx="1663.2" cy="331.9" r="3.55"/><circle cx="1679.0" cy="332.6" r="3.55"/><circle cx="1682.5" cy="333.0" r="3.55"/><circle cx="1683.9" cy="340.3" r="3.55"/><circle cx="1623.8" cy="401.4" r="3.55"/><circle cx="1629.4" cy="408.6" r="3.55"/><circle cx="1642.9" cy="418.1" r="3.55"/><circle cx="1653.2" cy="425.2" r="3.55"/><circle cx="1673.8" cy="420.5" r="3.55"/><circle cx="1684.1" cy="410.2" r="3.55"/><circle cx="1684.9" cy="400.6" r="3.55"/><circle cx="1661.1" cy="407.8" r="3.55"/><circle cx="1647.6" cy="414.1" r="3.55"/><circle cx="1680.2" cy="417.3" r="3.55"/><circle cx="1625.4" cy="358.6" r="3.55"/><circle cx="1684.1" cy="340.3" r="3.55"/><circle cx="1663.5" cy="341.9" r="3.55"/><circle cx="1626.2" cy="336.3" r="3.55"/><circle cx="1682.5" cy="333.2" r="3.55"/><circle cx="1663.5" cy="332.4" r="3.55"/><circle cx="1623.8" cy="341.8" r="3.55"/><circle cx="1648.1" cy="361.3" r="3.55"/><circle cx="1631.9" cy="341.8" r="3.55"/><circle cx="1637.8" cy="363.8" r="3.55"/><circle cx="1632.4" cy="363.2" r="3.55"/><circle cx="1665.4" cy="342.6" r="3.55"/><circle cx="1657.3" cy="353.2" r="3.55"/><circle cx="1649.4" cy="371.9" r="3.55"/><circle cx="1629.0" cy="338.7" r="3.55"/><circle cx="1683.1" cy="351.7" r="3.55"/><circle cx="1635.7" cy="349.2" r="3.55"/><circle cx="1646.4" cy="370.5" r="3.55"/><circle cx="1636.5" cy="345.4" r="3.55"/><circle cx="1660.4" cy="356.6" r="3.55"/><circle cx="1684.0" cy="366.5" r="3.55"/><circle cx="1645.8" cy="344.9" r="3.55"/><circle cx="1676.5" cy="371.6" r="3.55"/><circle cx="1624.9" cy="363.0" r="3.55"/><circle cx="1678.6" cy="360.1" r="3.55"/><circle cx="1637.0" cy="365.1" r="3.55"/><circle cx="1669.7" cy="344.6" r="3.55"/><circle cx="1664.0" cy="345.5" r="3.55"/><circle cx="1625.7" cy="349.4" r="3.55"/><circle cx="1644.4" cy="351.5" r="3.55"/><circle cx="1664.4" cy="366.4" r="3.55"/><circle cx="1684.5" cy="371.2" r="3.55"/><circle cx="1686.6" cy="364.9" r="3.55"/><circle cx="1642.6" cy="344.0" r="3.55"/><circle cx="1662.9" cy="356.6" r="3.55"/><circle cx="1666.2" cy="341.2" r="3.55"/><circle cx="1635.3" cy="369.3" r="3.55"/><circle cx="1661.5" cy="361.6" r="3.55"/><circle cx="1629.1" cy="351.6" r="3.55"/><circle cx="1681.2" cy="360.1" r="3.55"/><circle cx="1686.5" cy="344.7" r="3.55"/><circle cx="1652.1" cy="365.2" r="3.55"/><circle cx="1651.5" cy="364.8" r="3.55"/><circle cx="1658.9" cy="342.0" r="3.55"/><circle cx="1629.3" cy="371.4" r="3.55"/><circle cx="1630.6" cy="344.6" r="3.55"/><circle cx="1644.5" cy="362.3" r="3.55"/><circle cx="1677.7" cy="354.2" r="3.55"/><circle cx="1654.9" cy="364.8" r="3.55"/><circle cx="1640.8" cy="350.7" r="3.55"/><circle cx="1662.2" cy="359.6" r="3.55"/><circle cx="1625.4" cy="341.8" r="3.55"/><circle cx="1631.8" cy="362.7" r="3.55"/><circle cx="1667.3" cy="371.1" r="3.55"/><circle cx="1672.1" cy="346.7" r="3.55"/><circle cx="1672.0" cy="371.5" r="3.55"/><circle cx="1645.3" cy="338.4" r="3.55"/><circle cx="1647.0" cy="347.6" r="3.55"/><circle cx="1634.3" cy="339.5" r="3.55"/><circle cx="1631.0" cy="367.4" r="3.55"/><circle cx="1626.2" cy="358.9" r="3.55"/><circle cx="1628.0" cy="377.8" r="3.55"/><circle cx="1642.4" cy="409.4" r="3.55"/><circle cx="1654.8" cy="401.1" r="3.55"/><circle cx="1629.4" cy="391.4" r="3.55"/><circle cx="1677.0" cy="392.0" r="3.55"/><circle cx="1683.5" cy="408.6" r="3.55"/><circle cx="1646.7" cy="368.0" r="3.55"/><circle cx="1671.3" cy="373.8" r="3.55"/><circle cx="1623.6" cy="401.6" r="3.55"/><circle cx="1676.9" cy="406.5" r="3.55"/><circle cx="1684.0" cy="377.3" r="3.55"/><circle cx="1628.2" cy="373.6" r="3.55"/><circle cx="1685.6" cy="373.1" r="3.55"/><circle cx="1633.2" cy="368.9" r="3.55"/><circle cx="1626.2" cy="369.8" r="3.55"/><circle cx="1645.6" cy="375.5" r="3.55"/><circle cx="1642.8" cy="410.7" r="3.55"/><circle cx="1633.7" cy="405.5" r="3.55"/><circle cx="1670.3" cy="394.2" r="3.55"/><circle cx="1659.8" cy="403.4" r="3.55"/><circle cx="1660.6" cy="378.5" r="3.55"/><circle cx="1644.1" cy="379.2" r="3.55"/><circle cx="1648.6" cy="413.4" r="3.55"/><circle cx="1650.3" cy="371.2" r="3.55"/><circle cx="1653.5" cy="405.4" r="3.55"/><circle cx="1651.5" cy="400.3" r="3.55"/><circle cx="1628.8" cy="370.9" r="3.55"/><circle cx="1665.4" cy="370.2" r="3.55"/><circle cx="1642.3" cy="385.7" r="3.55"/><circle cx="1635.4" cy="369.7" r="3.55"/><circle cx="1623.4" cy="411.8" r="3.55"/><circle cx="1667.1" cy="411.8" r="3.55"/><circle cx="1654.5" cy="411.9" r="3.55"/><circle cx="1678.2" cy="396.4" r="3.55"/><circle cx="1656.6" cy="391.4" r="3.55"/><circle cx="1637.4" cy="385.3" r="3.55"/><circle cx="1669.3" cy="377.0" r="3.55"/><circle cx="1677.4" cy="391.5" r="3.55"/><circle cx="1661.7" cy="405.8" r="3.55"/><circle cx="1664.4" cy="374.3" r="3.55"/><circle cx="1638.9" cy="368.0" r="3.55"/><circle cx="1624.8" cy="411.8" r="3.55"/><circle cx="1661.0" cy="412.6" r="3.55"/><circle cx="1673.0" cy="382.5" r="3.55"/><circle cx="1684.9" cy="410.4" r="3.55"/><circle cx="1652.2" cy="371.8" r="3.55"/><circle cx="1643.4" cy="375.6" r="3.55"/><circle cx="1646.4" cy="371.8" r="3.55"/><circle cx="1668.6" cy="413.1" r="3.55"/><circle cx="1636.5" cy="403.9" r="3.55"/><circle cx="1660.4" cy="390.2" r="3.55"/><circle cx="1681.1" cy="385.4" r="3.55"/><circle cx="1675.5" cy="369.6" r="3.55"/><circle cx="1684.8" cy="376.4" r="3.55"/><circle cx="1623.2" cy="408.5" r="3.55"/><circle cx="1669.2" cy="399.0" r="3.55"/><circle cx="1672.0" cy="385.4" r="3.55"/><circle cx="1630.3" cy="382.6" r="3.55"/><circle cx="1684.0" cy="413.1" r="3.55"/><circle cx="1637.7" cy="388.3" r="3.55"/><circle cx="1651.8" cy="409.6" r="3.55"/><circle cx="1623.4" cy="406.1" r="3.55"/><circle cx="1639.2" cy="393.3" r="3.55"/><circle cx="1631.3" cy="371.9" r="3.55"/><circle cx="1679.5" cy="391.1" r="3.55"/><circle cx="1685.2" cy="407.8" r="3.55"/><circle cx="1671.2" cy="371.4" r="3.55"/><circle cx="1660.7" cy="413.6" r="3.55"/><circle cx="1655.2" cy="371.0" r="3.55"/><circle cx="1634.8" cy="413.4" r="3.55"/><circle cx="1685.5" cy="379.4" r="3.55"/><circle cx="1643.4" cy="400.9" r="3.55"/><circle cx="1655.5" cy="376.5" r="3.55"/><circle cx="1686.0" cy="396.6" r="3.55"/><circle cx="1646.4" cy="369.0" r="3.55"/><circle cx="1655.7" cy="402.6" r="3.55"/><circle cx="1634.4" cy="372.0" r="3.55"/><circle cx="1669.3" cy="410.3" r="3.55"/><circle cx="1647.1" cy="389.8" r="3.55"/><circle cx="1663.7" cy="391.9" r="3.55"/><circle cx="1631.2" cy="380.6" r="3.55"/><circle cx="1636.2" cy="377.1" r="3.55"/><circle cx="1628.6" cy="386.0" r="3.55"/><circle cx="1637.0" cy="407.0" r="3.55"/><circle cx="1643.6" cy="412.3" r="3.55"/><circle cx="1674.9" cy="380.4" r="3.55"/><circle cx="1632.9" cy="394.3" r="3.55"/><circle cx="1653.3" cy="392.6" r="3.55"/><circle cx="1630.9" cy="392.4" r="3.55"/><circle cx="1671.6" cy="388.5" r="3.55"/><circle cx="1639.3" cy="410.4" r="3.55"/><circle cx="1641.9" cy="413.8" r="3.55"/><circle cx="1667.1" cy="368.1" r="3.55"/><circle cx="1651.6" cy="374.9" r="3.55"/><circle cx="1673.3" cy="387.4" r="3.55"/><circle cx="1628.5" cy="411.8" r="3.55"/><circle cx="1674.2" cy="396.0" r="3.55"/><circle cx="1659.3" cy="371.4" r="3.55"/><circle cx="1685.9" cy="381.9" r="3.55"/><circle cx="1656.5" cy="390.5" r="3.55"/><circle cx="1653.2" cy="368.8" r="3.55"/><circle cx="1680.2" cy="390.7" r="3.55"/><circle cx="1648.2" cy="407.6" r="3.55"/><circle cx="1678.0" cy="401.1" r="3.55"/><circle cx="1681.1" cy="384.1" r="3.55"/><circle cx="1629.7" cy="384.0" r="3.55"/><circle cx="1661.5" cy="404.2" r="3.55"/><circle cx="1670.0" cy="397.0" r="3.55"/><circle cx="1661.5" cy="398.6" r="3.55"/><circle cx="1659.8" cy="368.7" r="3.55"/><circle cx="1658.1" cy="410.0" r="3.55"/><circle cx="1670.8" cy="414.6" r="3.55"/><circle cx="1641.3" cy="418.6" r="3.55"/><circle cx="1659.3" cy="409.9" r="3.55"/><circle cx="1671.3" cy="417.2" r="3.55"/><circle cx="1640.5" cy="394.7" r="3.55"/><circle cx="1668.9" cy="403.4" r="3.55"/><circle cx="1671.0" cy="394.6" r="3.55"/><circle cx="1684.1" cy="380.5" r="3.55"/><circle cx="1669.2" cy="395.0" r="3.55"/><circle cx="1624.6" cy="407.0" r="3.55"/><circle cx="1626.3" cy="389.4" r="3.55"/><circle cx="1643.8" cy="386.3" r="3.55"/><circle cx="1633.5" cy="382.9" r="3.55"/><circle cx="1677.1" cy="383.3" r="3.55"/><circle cx="1633.3" cy="383.1" r="3.55"/><circle cx="1681.2" cy="401.8" r="3.55"/><circle cx="1675.6" cy="418.9" r="3.55"/><circle cx="1654.7" cy="395.8" r="3.55"/><circle cx="1647.9" cy="390.6" r="3.55"/><circle cx="1661.1" cy="418.7" r="3.55"/><circle cx="1655.2" cy="410.3" r="3.55"/><circle cx="1679.9" cy="413.2" r="3.55"/><circle cx="1665.9" cy="401.9" r="3.55"/><circle cx="1629.3" cy="395.1" r="3.55"/><circle cx="1677.6" cy="397.7" r="3.55"/><circle cx="1666.6" cy="390.4" r="3.55"/><circle cx="1660.3" cy="388.8" r="3.55"/><circle cx="1673.3" cy="412.5" r="3.55"/><circle cx="1624.2" cy="406.6" r="3.55"/><circle cx="1629.1" cy="418.0" r="3.55"/><circle cx="1634.2" cy="385.2" r="3.55"/><circle cx="1680.1" cy="404.6" r="3.55"/><circle cx="1623.7" cy="398.6" r="3.55"/><circle cx="1676.1" cy="386.6" r="3.55"/><circle cx="1659.7" cy="419.6" r="3.55"/><circle cx="1672.5" cy="415.3" r="3.55"/><circle cx="1663.9" cy="422.7" r="3.55"/><circle cx="1677.3" cy="414.2" r="3.55"/><circle cx="1663.9" cy="419.4" r="3.55"/><circle cx="1656.2" cy="423.6" r="3.55"/><circle cx="1657.5" cy="417.3" r="3.55"/><circle cx="1679.1" cy="419.6" r="3.55"/><circle cx="1645.7" cy="415.7" r="3.55"/><circle cx="1655.8" cy="412.6" r="3.55"/><circle cx="1661.6" cy="420.8" r="3.55"/><circle cx="1652.2" cy="422.2" r="3.55"/><circle cx="1830.7" cy="177.7" r="3.55"/><circle cx="1828.9" cy="184.9" r="3.55"/><circle cx="1882.2" cy="177.1" r="3.55"/><circle cx="1868.1" cy="191.9" r="3.55"/><circle cx="1841.6" cy="196.1" r="3.55"/><circle cx="1844.0" cy="199.1" r="3.55"/><circle cx="1857.3" cy="210.7" r="3.55"/><circle cx="1855.2" cy="224.0" r="3.55"/><circle cx="1866.8" cy="226.0" r="3.55"/><circle cx="1886.0" cy="228.1" r="3.55"/><circle cx="1855.6" cy="231.7" r="3.55"/><circle cx="1858.7" cy="230.3" r="3.55"/><circle cx="1861.8" cy="236.6" r="3.55"/><circle cx="1842.6" cy="239.0" r="3.55"/><circle cx="1873.7" cy="239.0" r="3.55"/><circle cx="1881.1" cy="236.2" r="3.55"/><circle cx="1884.6" cy="239.4" r="3.55"/><circle cx="1885.5" cy="241.8" r="3.55"/><circle cx="1881.1" cy="244.8" r="3.55"/><circle cx="1827.7" cy="250.4" r="3.55"/><circle cx="1827.7" cy="252.2" r="3.55"/><circle cx="1848.6" cy="248.5" r="3.55"/><circle cx="1843.0" cy="254.6" r="3.55"/><circle cx="1886.0" cy="256.0" r="3.55"/><circle cx="1851.7" cy="261.7" r="3.55"/><circle cx="1856.6" cy="270.8" r="3.55"/><circle cx="1854.2" cy="277.1" r="3.55"/><circle cx="1831.9" cy="272.9" r="3.55"/><circle cx="1829.4" cy="279.2" r="3.55"/><circle cx="1863.2" cy="280.5" r="3.55"/><circle cx="1882.5" cy="274.6" r="3.55"/><circle cx="1882.5" cy="287.9" r="3.55"/><circle cx="1849.6" cy="290.4" r="3.55"/><circle cx="1836.1" cy="294.9" r="3.55"/><circle cx="1855.6" cy="301.6" r="3.55"/><circle cx="1844.7" cy="315.1" r="3.55"/><circle cx="1836.1" cy="325.6" r="3.55"/><circle cx="1831.9" cy="332.9" r="3.55"/><circle cx="1865.4" cy="322.5" r="3.55"/><circle cx="1872.0" cy="322.5" r="3.55"/><circle cx="1868.5" cy="327.7" r="3.55"/><circle cx="1867.4" cy="333.3" r="3.55"/><circle cx="1832.1" cy="332.8" r="3.55"/><circle cx="1867.5" cy="333.6" r="3.55"/><circle cx="1836.5" cy="342.7" r="3.55"/><circle cx="1847.6" cy="339.5" r="3.55"/><circle cx="1852.4" cy="343.5" r="3.55"/><circle cx="1858.7" cy="343.1" r="3.55"/><circle cx="1868.3" cy="341.1" r="3.55"/><circle cx="1881.0" cy="341.5" r="3.55"/><circle cx="1836.5" cy="351.8" r="3.55"/><circle cx="1843.3" cy="353.8" r="3.55"/><circle cx="1850.0" cy="349.8" r="3.55"/><circle cx="1856.3" cy="349.8" r="3.55"/><circle cx="1864.7" cy="346.7" r="3.55"/><circle cx="1884.9" cy="350.6" r="3.55"/><circle cx="1883.3" cy="353.0" r="3.55"/><circle cx="1826.6" cy="359.4" r="3.55"/><circle cx="1831.7" cy="363.3" r="3.55"/><circle cx="1838.1" cy="364.9" r="3.55"/><circle cx="1842.1" cy="369.7" r="3.55"/><circle cx="1827.0" cy="372.1" r="3.55"/><circle cx="1854.0" cy="364.1" r="3.55"/><circle cx="1859.5" cy="363.3" r="3.55"/><circle cx="1862.7" cy="357.4" r="3.55"/><circle cx="1871.0" cy="355.4" r="3.55"/><circle cx="1865.9" cy="361.0" r="3.55"/><circle cx="1878.6" cy="363.3" r="3.55"/><circle cx="1871.4" cy="365.7" r="3.55"/><circle cx="1870.6" cy="368.9" r="3.55"/><circle cx="1876.2" cy="372.1" r="3.55"/><circle cx="1885.7" cy="370.9" r="3.55"/><circle cx="1857.1" cy="373.7" r="3.55"/><circle cx="1879.4" cy="375.6" r="3.55"/><circle cx="1827.8" cy="377.6" r="3.55"/><circle cx="1833.3" cy="377.6" r="3.55"/><circle cx="1842.9" cy="377.6" r="3.55"/><circle cx="1850.8" cy="377.6" r="3.55"/><circle cx="1861.9" cy="377.6" r="3.55"/><circle cx="1869.0" cy="377.6" r="3.55"/><circle cx="1827.8" cy="384.8" r="3.55"/><circle cx="1833.3" cy="385.6" r="3.55"/><circle cx="1839.7" cy="385.6" r="3.55"/><circle cx="1844.4" cy="387.1" r="3.55"/><circle cx="1850.8" cy="386.3" r="3.55"/><circle cx="1855.6" cy="380.8" r="3.55"/><circle cx="1863.5" cy="381.6" r="3.55"/><circle cx="1869.8" cy="384.0" r="3.55"/><circle cx="1885.7" cy="384.8" r="3.55"/><circle cx="1839.7" cy="391.9" r="3.55"/><circle cx="1847.6" cy="393.5" r="3.55"/><circle cx="1854.8" cy="393.5" r="3.55"/><circle cx="1868.3" cy="391.9" r="3.55"/><circle cx="1881.7" cy="391.9" r="3.55"/><circle cx="1827.0" cy="395.5" r="3.55"/><circle cx="1832.5" cy="402.2" r="3.55"/><circle cx="1841.3" cy="401.4" r="3.55"/><circle cx="1849.2" cy="403.0" r="3.55"/><circle cx="1855.6" cy="399.0" r="3.55"/><circle cx="1863.5" cy="401.4" r="3.55"/><circle cx="1869.0" cy="398.3" r="3.55"/><circle cx="1877.8" cy="399.8" r="3.55"/><circle cx="1885.7" cy="403.8" r="3.55"/><circle cx="1830.2" cy="408.6" r="3.55"/><circle cx="1831.0" cy="411.0" r="3.55"/><circle cx="1843.7" cy="407.0" r="3.55"/><circle cx="1841.3" cy="411.7" r="3.55"/><circle cx="1850.8" cy="412.9" r="3.55"/><circle cx="1859.5" cy="409.4" r="3.55"/><circle cx="1862.7" cy="406.2" r="3.55"/><circle cx="1869.0" cy="410.2" r="3.55"/><circle cx="1871.4" cy="404.6" r="3.55"/><circle cx="1879.4" cy="414.1" r="3.55"/><circle cx="1837.3" cy="418.1" r="3.55"/><circle cx="1861.1" cy="420.5" r="3.55"/><circle cx="1860.3" cy="414.9" r="3.55"/><circle cx="1875.4" cy="409.4" r="3.55"/><circle cx="1882.5" cy="399.8" r="3.55"/><circle cx="1874.6" cy="411.0" r="3.55"/><circle cx="1858.7" cy="395.5" r="3.55"/><circle cx="1876.9" cy="406.5" r="3.55"/><circle cx="1879.2" cy="387.8" r="3.55"/><circle cx="1883.0" cy="389.8" r="3.55"/><circle cx="1845.8" cy="378.3" r="3.55"/><circle cx="1857.7" cy="380.4" r="3.55"/><circle cx="1843.9" cy="396.4" r="3.55"/><circle cx="1873.0" cy="401.3" r="3.55"/><circle cx="1833.0" cy="377.1" r="3.55"/><circle cx="1842.8" cy="394.3" r="3.55"/><circle cx="1876.7" cy="403.0" r="3.55"/><circle cx="1882.2" cy="395.6" r="3.55"/><circle cx="1864.9" cy="385.2" r="3.55"/><circle cx="1846.2" cy="382.2" r="3.55"/><circle cx="1859.0" cy="396.3" r="3.55"/><circle cx="1861.2" cy="388.7" r="3.55"/><circle cx="1852.6" cy="383.7" r="3.55"/><circle cx="1875.3" cy="395.3" r="3.55"/><circle cx="1871.4" cy="403.4" r="3.55"/><circle cx="1844.3" cy="379.1" r="3.55"/><circle cx="1844.4" cy="406.8" r="3.55"/><circle cx="1873.9" cy="389.2" r="3.55"/><circle cx="1873.0" cy="387.0" r="3.55"/><circle cx="1878.2" cy="378.2" r="3.55"/><circle cx="1871.0" cy="409.3" r="3.55"/></g>
<line x1="1534.4" y1="159.2" x2="1534.4" y2="437.5" stroke="#000" stroke-width="1.1"/>
<line x1="1533.9" y1="437.5" x2="1976" y2="437.5" stroke="#000" stroke-width="1.1"/>
<line x1="1534.4" y1="161.8" x2="1542.9" y2="161.8" stroke="#000" stroke-width="1.1"/>
<text x="1527.6" y="170.0" font-size="23" text-anchor="end" fill="#4D4D4D">0.9</text>
<line x1="1534.4" y1="235.6" x2="1542.9" y2="235.6" stroke="#000" stroke-width="1.1"/>
<text x="1527.6" y="243.8" font-size="23" text-anchor="end" fill="#4D4D4D">0.7</text>
<line x1="1534.4" y1="309.4" x2="1542.9" y2="309.4" stroke="#000" stroke-width="1.1"/>
<text x="1527.6" y="317.6" font-size="23" text-anchor="end" fill="#4D4D4D">0.5</text>
<line x1="1534.4" y1="383.2" x2="1542.9" y2="383.2" stroke="#000" stroke-width="1.1"/>
<text x="1527.6" y="391.4" font-size="23" text-anchor="end" fill="#4D4D4D">0.3</text>
<line x1="1654.7" y1="437.5" x2="1654.7" y2="429.0" stroke="#000" stroke-width="1.1"/>
<text x="1654.7" y="459.7" font-size="23" text-anchor="middle" fill="#4D4D4D">Ill</text>
<line x1="1856.2" y1="437.5" x2="1856.2" y2="429.0" stroke="#000" stroke-width="1.1"/>
<text x="1856.2" y="459.7" font-size="23" text-anchor="middle" fill="#4D4D4D">Not−Ill</text>
<text transform="translate(1483.3 298.4) rotate(-90)" font-size="29.1" text-anchor="middle" fill="#000">Distance to centroid</text>
<text x="120" y="527.4" font-size="30.5" fill="#000">D15 Ill vs D15 Not−Ill</text>
<text x="337.6" y="563.2" font-size="24.5" text-anchor="middle" fill="#1A1A1A">7 to 12 months (FDR p = 0.781)</text>
<g><rect x="186.6" y="629.6" width="10.8" height="10.8" fill="#377EB8" fill-opacity="0.5" stroke="#000" stroke-opacity="0.6" stroke-width="0.8"/><rect x="209.1" y="619.6" width="10.8" height="10.8" fill="#377EB8" fill-opacity="0.5" stroke="#000" stroke-opacity="0.6" stroke-width="0.8"/><rect x="217.1" y="659.6" width="10.8" height="10.8" fill="#377EB8" fill-opacity="0.5" stroke="#000" stroke-opacity="0.6" stroke-width="0.8"/><rect x="250.8" y="629.1" width="10.8" height="10.8" fill="#377EB8" fill-opacity="0.5" stroke="#000" stroke-opacity="0.6" stroke-width="0.8"/><rect x="282.1" y="592.1" width="10.8" height="10.8" fill="#377EB8" fill-opacity="0.5" stroke="#000" stroke-opacity="0.6" stroke-width="0.8"/><rect x="284.6" y="603.9" width="10.8" height="10.8" fill="#377EB8" fill-opacity="0.5" stroke="#000" stroke-opacity="0.6" stroke-width="0.8"/><rect x="299.1" y="629.1" width="10.8" height="10.8" fill="#377EB8" fill-opacity="0.5" stroke="#000" stroke-opacity="0.6" stroke-width="0.8"/><rect x="369.6" y="594.6" width="10.8" height="10.8" fill="#377EB8" fill-opacity="0.5" stroke="#000" stroke-opacity="0.6" stroke-width="0.8"/><rect x="385.4" y="627.6" width="10.8" height="10.8" fill="#377EB8" fill-opacity="0.5" stroke="#000" stroke-opacity="0.6" stroke-width="0.8"/><rect x="430.4" y="610.9" width="10.8" height="10.8" fill="#377EB8" fill-opacity="0.5" stroke="#000" stroke-opacity="0.6" stroke-width="0.8"/><rect x="458.4" y="612.6" width="10.8" height="10.8" fill="#377EB8" fill-opacity="0.5" stroke="#000" stroke-opacity="0.6" stroke-width="0.8"/><rect x="357.9" y="686.4" width="10.8" height="10.8" fill="#377EB8" fill-opacity="0.5" stroke="#000" stroke-opacity="0.6" stroke-width="0.8"/><rect x="517.9" y="697.9" width="10.8" height="10.8" fill="#377EB8" fill-opacity="0.5" stroke="#000" stroke-opacity="0.6" stroke-width="0.8"/><rect x="490.9" y="717.1" width="10.8" height="10.8" fill="#377EB8" fill-opacity="0.5" stroke="#000" stroke-opacity="0.6" stroke-width="0.8"/><rect x="530.9" y="647.6" width="10.8" height="10.8" fill="#377EB8" fill-opacity="0.5" stroke="#000" stroke-opacity="0.6" stroke-width="0.8"/><rect x="517.1" y="656.4" width="10.8" height="10.8" fill="#377EB8" fill-opacity="0.5" stroke="#000" stroke-opacity="0.6" stroke-width="0.8"/><rect x="509.6" y="665.4" width="10.8" height="10.8" fill="#377EB8" fill-opacity="0.5" stroke="#000" stroke-opacity="0.6" stroke-width="0.8"/><rect x="211.3" y="607.9" width="10.8" height="10.8" fill="#E41A1C" fill-opacity="0.5" stroke="#000" stroke-opacity="0.6" stroke-width="0.8"/><rect x="226.6" y="607.6" width="10.8" height="10.8" fill="#E41A1C" fill-opacity="0.5" stroke="#000" stroke-opacity="0.6" stroke-width="0.8"/><rect x="230.8" y="599.6" width="10.8" height="10.8" fill="#E41A1C" fill-opacity="0.5" stroke="#000" stroke-opacity="0.6" stroke-width="0.8"/><rect x="239.6" y="600.4" width="10.8" height="10.8" fill="#E41A1C" fill-opacity="0.5" stroke="#000" stroke-opacity="0.6" stroke-width="0.8"/><rect x="190.8" y="650.4" width="10.8" height="10.8" fill="#E41A1C" fill-opacity="0.5" stroke="#000" stroke-opacity="0.6" stroke-width="0.8"/><rect x="184.6" y="657.1" width="10.8" height="10.8" fill="#E41A1C" fill-opacity="0.5" stroke="#000" stroke-opacity="0.6" stroke-width="0.8"/><rect x="173.3" y="663.9" width="10.8" height="10.8" fill="#E41A1C" fill-opacity="0.5" stroke="#000" stroke-opacity="0.6" stroke-width="0.8"/><rect x="188.3" y="672.9" width="10.8" height="10.8" fill="#E41A1C" fill-opacity="0.5" stroke="#000" stroke-opacity="0.6" stroke-width="0.8"/><rect x="244.6" y="663.4" width="10.8" height="10.8" fill="#E41A1C" fill-opacity="0.5" stroke="#000" stroke-opacity="0.6" stroke-width="0.8"/><rect x="239.1" y="702.9" width="10.8" height="10.8" fill="#E41A1C" fill-opacity="0.5" stroke="#000" stroke-opacity="0.6" stroke-width="0.8"/><rect x="271.6" y="643.4" width="10.8" height="10.8" fill="#E41A1C" fill-opacity="0.5" stroke="#000" stroke-opacity="0.6" stroke-width="0.8"/><rect x="281.4" y="656.6" width="10.8" height="10.8" fill="#E41A1C" fill-opacity="0.5" stroke="#000" stroke-opacity="0.6" stroke-width="0.8"/><rect x="285.4" y="611.6" width="10.8" height="10.8" fill="#E41A1C" fill-opacity="0.5" stroke="#000" stroke-opacity="0.6" stroke-width="0.8"/><rect x="289.1" y="622.1" width="10.8" height="10.8" fill="#E41A1C" fill-opacity="0.5" stroke="#000" stroke-opacity="0.6" stroke-width="0.8"/><rect x="313.9" y="601.4" width="10.8" height="10.8" fill="#E41A1C" fill-opacity="0.5" stroke="#000" stroke-opacity="0.6" stroke-width="0.8"/><rect x="321.4" y="600.9" width="10.8" height="10.8" fill="#E41A1C" fill-opacity="0.5" stroke="#000" stroke-opacity="0.6" stroke-width="0.8"/><rect x="319.6" y="638.4" width="10.8" height="10.8" fill="#E41A1C" fill-opacity="0.5" stroke="#000" stroke-opacity="0.6" stroke-width="0.8"/><rect x="320.9" y="643.9" width="10.8" height="10.8" fill="#E41A1C" fill-opacity="0.5" stroke="#000" stroke-opacity="0.6" stroke-width="0.8"/><rect x="307.6" y="659.1" width="10.8" height="10.8" fill="#E41A1C" fill-opacity="0.5" stroke="#000" stroke-opacity="0.6" stroke-width="0.8"/><rect x="342.6" y="633.9" width="10.8" height="10.8" fill="#E41A1C" fill-opacity="0.5" stroke="#000" stroke-opacity="0.6" stroke-width="0.8"/><rect x="355.9" y="588.4" width="10.8" height="10.8" fill="#E41A1C" fill-opacity="0.5" stroke="#000" stroke-opacity="0.6" stroke-width="0.8"/><rect x="370.9" y="587.9" width="10.8" height="10.8" fill="#E41A1C" fill-opacity="0.5" stroke="#000" stroke-opacity="0.6" stroke-width="0.8"/><rect x="382.9" y="581.6" width="10.8" height="10.8" fill="#E41A1C" fill-opacity="0.5" stroke="#000" stroke-opacity="0.6" stroke-width="0.8"/><rect x="397.1" y="589.6" width="10.8" height="10.8" fill="#E41A1C" fill-opacity="0.5" stroke="#000" stroke-opacity="0.6" stroke-width="0.8"/><rect x="363.9" y="614.6" width="10.8" height="10.8" fill="#E41A1C" fill-opacity="0.5" stroke="#000" stroke-opacity="0.6" stroke-width="0.8"/><rect x="356.4" y="655.4" width="10.8" height="10.8" fill="#E41A1C" fill-opacity="0.5" stroke="#000" stroke-opacity="0.6" stroke-width="0.8"/><rect x="340.1" y="698.4" width="10.8" height="10.8" fill="#E41A1C" fill-opacity="0.5" stroke="#000" stroke-opacity="0.6" stroke-width="0.8"/><rect x="409.6" y="643.9" width="10.8" height="10.8" fill="#E41A1C" fill-opacity="0.5" stroke="#000" stroke-opacity="0.6" stroke-width="0.8"/><rect x="425.1" y="611.6" width="10.8" height="10.8" fill="#E41A1C" fill-opacity="0.5" stroke="#000" stroke-opacity="0.6" stroke-width="0.8"/><rect x="443.9" y="625.9" width="10.8" height="10.8" fill="#E41A1C" fill-opacity="0.5" stroke="#000" stroke-opacity="0.6" stroke-width="0.8"/><rect x="471.4" y="585.4" width="10.8" height="10.8" fill="#E41A1C" fill-opacity="0.5" stroke="#000" stroke-opacity="0.6" stroke-width="0.8"/><rect x="425.9" y="683.4" width="10.8" height="10.8" fill="#E41A1C" fill-opacity="0.5" stroke="#000" stroke-opacity="0.6" stroke-width="0.8"/><rect x="475.4" y="685.9" width="10.8" height="10.8" fill="#E41A1C" fill-opacity="0.5" stroke="#000" stroke-opacity="0.6" stroke-width="0.8"/><rect x="483.4" y="710.9" width="10.8" height="10.8" fill="#E41A1C" fill-opacity="0.5" stroke="#000" stroke-opacity="0.6" stroke-width="0.8"/><rect x="498.9" y="712.9" width="10.8" height="10.8" fill="#E41A1C" fill-opacity="0.5" stroke="#000" stroke-opacity="0.6" stroke-width="0.8"/><rect x="467.1" y="722.6" width="10.8" height="10.8" fill="#E41A1C" fill-opacity="0.5" stroke="#000" stroke-opacity="0.6" stroke-width="0.8"/><rect x="502.1" y="736.6" width="10.8" height="10.8" fill="#E41A1C" fill-opacity="0.5" stroke="#000" stroke-opacity="0.6" stroke-width="0.8"/><rect x="506.4" y="673.9" width="10.8" height="10.8" fill="#E41A1C" fill-opacity="0.5" stroke="#000" stroke-opacity="0.6" stroke-width="0.8"/><rect x="514.6" y="668.9" width="10.8" height="10.8" fill="#E41A1C" fill-opacity="0.5" stroke="#000" stroke-opacity="0.6" stroke-width="0.8"/><rect x="511.4" y="655.4" width="10.8" height="10.8" fill="#E41A1C" fill-opacity="0.5" stroke="#000" stroke-opacity="0.6" stroke-width="0.8"/><rect x="525.9" y="658.4" width="10.8" height="10.8" fill="#E41A1C" fill-opacity="0.5" stroke="#000" stroke-opacity="0.6" stroke-width="0.8"/><rect x="430.9" y="779.6" width="10.8" height="10.8" fill="#E41A1C" fill-opacity="0.5" stroke="#000" stroke-opacity="0.6" stroke-width="0.8"/><rect x="378.4" y="787.6" width="10.8" height="10.8" fill="#E41A1C" fill-opacity="0.5" stroke="#000" stroke-opacity="0.6" stroke-width="0.8"/></g>
<line x1="119.4" y1="849.5" x2="555.9" y2="849.5" stroke="#000" stroke-width="1.1"/>
<line x1="163.4" y1="849.5" x2="163.4" y2="841.0" stroke="#000" stroke-width="1.1"/>
<text x="163.4" y="871.7" font-size="23" text-anchor="middle" fill="#4D4D4D">−0.2</text>
<line x1="245.8" y1="849.5" x2="245.8" y2="841.0" stroke="#000" stroke-width="1.1"/>
<text x="245.8" y="871.7" font-size="23" text-anchor="middle" fill="#4D4D4D">0.0</text>
<line x1="328.2" y1="849.5" x2="328.2" y2="841.0" stroke="#000" stroke-width="1.1"/>
<text x="328.2" y="871.7" font-size="23" text-anchor="middle" fill="#4D4D4D">0.2</text>
<line x1="410.5" y1="849.5" x2="410.5" y2="841.0" stroke="#000" stroke-width="1.1"/>
<text x="410.5" y="871.7" font-size="23" text-anchor="middle" fill="#4D4D4D">0.4</text>
<line x1="492.9" y1="849.5" x2="492.9" y2="841.0" stroke="#000" stroke-width="1.1"/>
<text x="492.9" y="871.7" font-size="23" text-anchor="middle" fill="#4D4D4D">0.6</text>
<text x="783.1" y="563.2" font-size="24.5" text-anchor="middle" fill="#1A1A1A">1 to 2 years (FDR p = 0.084)</text>
<g><circle cx="708.0" cy="585.8" r="5.9" fill="#377EB8" fill-opacity="0.5" stroke="#000" stroke-opacity="0.6" stroke-width="0.8"/><circle cx="672.5" cy="599.2" r="5.9" fill="#377EB8" fill-opacity="0.5" stroke="#000" stroke-opacity="0.6" stroke-width="0.8"/><circle cx="657.5" cy="612.0" r="5.9" fill="#377EB8" fill-opacity="0.5" stroke="#000" stroke-opacity="0.6" stroke-width="0.8"/><circle cx="712.5" cy="613.0" r="5.9" fill="#377EB8" fill-opacity="0.5" stroke="#000" stroke-opacity="0.6" stroke-width="0.8"/><circle cx="618.8" cy="638.0" r="5.9" fill="#377EB8" fill-opacity="0.5" stroke="#000" stroke-opacity="0.6" stroke-width="0.8"/><circle cx="646.2" cy="641.2" r="5.9" fill="#377EB8" fill-opacity="0.5" stroke="#000" stroke-opacity="0.6" stroke-width="0.8"/><circle cx="733.0" cy="658.2" r="5.9" fill="#377EB8" fill-opacity="0.5" stroke="#000" stroke-opacity="0.6" stroke-width="0.8"/><circle cx="713.2" cy="659.2" r="5.9" fill="#377EB8" fill-opacity="0.5" stroke="#000" stroke-opacity="0.6" stroke-width="0.8"/><circle cx="688.8" cy="698.8" r="5.9" fill="#377EB8" fill-opacity="0.5" stroke="#000" stroke-opacity="0.6" stroke-width="0.8"/><circle cx="703.8" cy="718.2" r="5.9" fill="#377EB8" fill-opacity="0.5" stroke="#000" stroke-opacity="0.6" stroke-width="0.8"/><circle cx="661.2" cy="718.8" r="5.9" fill="#377EB8" fill-opacity="0.5" stroke="#000" stroke-opacity="0.6" stroke-width="0.8"/><circle cx="692.0" cy="729.2" r="5.9" fill="#377EB8" fill-opacity="0.5" stroke="#000" stroke-opacity="0.6" stroke-width="0.8"/><circle cx="682.5" cy="731.2" r="5.9" fill="#377EB8" fill-opacity="0.5" stroke="#000" stroke-opacity="0.6" stroke-width="0.8"/><circle cx="661.2" cy="732.0" r="5.9" fill="#377EB8" fill-opacity="0.5" stroke="#000" stroke-opacity="0.6" stroke-width="0.8"/><circle cx="861.8" cy="600.0" r="5.9" fill="#377EB8" fill-opacity="0.5" stroke="#000" stroke-opacity="0.6" stroke-width="0.8"/><circle cx="861.2" cy="747.5" r="5.9" fill="#377EB8" fill-opacity="0.5" stroke="#000" stroke-opacity="0.6" stroke-width="0.8"/><circle cx="622.5" cy="665.0" r="5.9" fill="#377EB8" fill-opacity="0.5" stroke="#000" stroke-opacity="0.6" stroke-width="0.8"/><circle cx="627.5" cy="685.0" r="5.9" fill="#377EB8" fill-opacity="0.5" stroke="#000" stroke-opacity="0.6" stroke-width="0.8"/><circle cx="630.7" cy="663.3" r="5.9" fill="#377EB8" fill-opacity="0.5" stroke="#000" stroke-opacity="0.6" stroke-width="0.8"/><circle cx="651.5" cy="699.0" r="5.9" fill="#377EB8" fill-opacity="0.5" stroke="#000" stroke-opacity="0.6" stroke-width="0.8"/><circle cx="609.1" cy="707.3" r="5.9" fill="#377EB8" fill-opacity="0.5" stroke="#000" stroke-opacity="0.6" stroke-width="0.8"/><circle cx="633.2" cy="709.8" r="5.9" fill="#377EB8" fill-opacity="0.5" stroke="#000" stroke-opacity="0.6" stroke-width="0.8"/><circle cx="695.8" cy="584.2" r="5.9" fill="#E41A1C" fill-opacity="0.5" stroke="#000" stroke-opacity="0.6" stroke-width="0.8"/><circle cx="691.2" cy="598.0" r="5.9" fill="#E41A1C" fill-opacity="0.5" stroke="#000" stroke-opacity="0.6" stroke-width="0.8"/><circle cx="680.0" cy="601.2" r="5.9" fill="#E41A1C" fill-opacity="0.5" stroke="#000" stroke-opacity="0.6" stroke-width="0.8"/><circle cx="674.5" cy="608.0" r="5.9" fill="#E41A1C" fill-opacity="0.5" stroke="#000" stroke-opacity="0.6" stroke-width="0.8"/><circle cx="661.8" cy="610.8" r="5.9" fill="#E41A1C" fill-opacity="0.5" stroke="#000" stroke-opacity="0.6" stroke-width="0.8"/><circle cx="642.0" cy="620.0" r="5.9" fill="#E41A1C" fill-opacity="0.5" stroke="#000" stroke-opacity="0.6" stroke-width="0.8"/><circle cx="663.2" cy="627.0" r="5.9" fill="#E41A1C" fill-opacity="0.5" stroke="#000" stroke-opacity="0.6" stroke-width="0.8"/><circle cx="692.0" cy="613.8" r="5.9" fill="#E41A1C" fill-opacity="0.5" stroke="#000" stroke-opacity="0.6" stroke-width="0.8"/><circle cx="695.0" cy="628.0" r="5.9" fill="#E41A1C" fill-opacity="0.5" stroke="#000" stroke-opacity="0.6" stroke-width="0.8"/><circle cx="693.2" cy="639.2" r="5.9" fill="#E41A1C" fill-opacity="0.5" stroke="#000" stroke-opacity="0.6" stroke-width="0.8"/><circle cx="704.2" cy="640.5" r="5.9" fill="#E41A1C" fill-opacity="0.5" stroke="#000" stroke-opacity="0.6" stroke-width="0.8"/><circle cx="711.2" cy="637.0" r="5.9" fill="#E41A1C" fill-opacity="0.5" stroke="#000" stroke-opacity="0.6" stroke-width="0.8"/><circle cx="722.5" cy="645.0" r="5.9" fill="#E41A1C" fill-opacity="0.5" stroke="#000" stroke-opacity="0.6" stroke-width="0.8"/><circle cx="736.2" cy="648.8" r="5.9" fill="#E41A1C" fill-opacity="0.5" stroke="#000" stroke-opacity="0.6" stroke-width="0.8"/><circle cx="731.8" cy="600.8" r="5.9" fill="#E41A1C" fill-opacity="0.5" stroke="#000" stroke-opacity="0.6" stroke-width="0.8"/><circle cx="760.8" cy="628.8" r="5.9" fill="#E41A1C" fill-opacity="0.5" stroke="#000" stroke-opacity="0.6" stroke-width="0.8"/><circle cx="759.5" cy="642.5" r="5.9" fill="#E41A1C" fill-opacity="0.5" stroke="#000" stroke-opacity="0.6" stroke-width="0.8"/><circle cx="790.8" cy="645.8" r="5.9" fill="#E41A1C" fill-opacity="0.5" stroke="#000" stroke-opacity="0.6" stroke-width="0.8"/><circle cx="802.5" cy="630.8" r="5.9" fill="#E41A1C" fill-opacity="0.5" stroke="#000" stroke-opacity="0.6" stroke-width="0.8"/><circle cx="818.2" cy="609.5" r="5.9" fill="#E41A1C" fill-opacity="0.5" stroke="#000" stroke-opacity="0.6" stroke-width="0.8"/><circle cx="802.0" cy="591.8" r="5.9" fill="#E41A1C" fill-opacity="0.5" stroke="#000" stroke-opacity="0.6" stroke-width="0.8"/><circle cx="897.5" cy="615.5" r="5.9" fill="#E41A1C" fill-opacity="0.5" stroke="#000" stroke-opacity="0.6" stroke-width="0.8"/><circle cx="918.8" cy="623.8" r="5.9" fill="#E41A1C" fill-opacity="0.5" stroke="#000" stroke-opacity="0.6" stroke-width="0.8"/><circle cx="938.0" cy="607.5" r="5.9" fill="#E41A1C" fill-opacity="0.5" stroke="#000" stroke-opacity="0.6" stroke-width="0.8"/><circle cx="675.0" cy="633.8" r="5.9" fill="#E41A1C" fill-opacity="0.5" stroke="#000" stroke-opacity="0.6" stroke-width="0.8"/><circle cx="675.0" cy="648.8" r="5.9" fill="#E41A1C" fill-opacity="0.5" stroke="#000" stroke-opacity="0.6" stroke-width="0.8"/><circle cx="680.0" cy="659.2" r="5.9" fill="#E41A1C" fill-opacity="0.5" stroke="#000" stroke-opacity="0.6" stroke-width="0.8"/><circle cx="687.0" cy="653.0" r="5.9" fill="#E41A1C" fill-opacity="0.5" stroke="#000" stroke-opacity="0.6" stroke-width="0.8"/><circle cx="654.5" cy="655.8" r="5.9" fill="#E41A1C" fill-opacity="0.5" stroke="#000" stroke-opacity="0.6" stroke-width="0.8"/><circle cx="654.2" cy="668.8" r="5.9" fill="#E41A1C" fill-opacity="0.5" stroke="#000" stroke-opacity="0.6" stroke-width="0.8"/><circle cx="715.0" cy="659.2" r="5.9" fill="#E41A1C" fill-opacity="0.5" stroke="#000" stroke-opacity="0.6" stroke-width="0.8"/><circle cx="742.5" cy="662.5" r="5.9" fill="#E41A1C" fill-opacity="0.5" stroke="#000" stroke-opacity="0.6" stroke-width="0.8"/><circle cx="739.5" cy="671.2" r="5.9" fill="#E41A1C" fill-opacity="0.5" stroke="#000" stroke-opacity="0.6" stroke-width="0.8"/><circle cx="720.0" cy="680.5" r="5.9" fill="#E41A1C" fill-opacity="0.5" stroke="#000" stroke-opacity="0.6" stroke-width="0.8"/><circle cx="732.0" cy="680.8" r="5.9" fill="#E41A1C" fill-opacity="0.5" stroke="#000" stroke-opacity="0.6" stroke-width="0.8"/><circle cx="768.8" cy="683.8" r="5.9" fill="#E41A1C" fill-opacity="0.5" stroke="#000" stroke-opacity="0.6" stroke-width="0.8"/><circle cx="680.8" cy="682.0" r="5.9" fill="#E41A1C" fill-opacity="0.5" stroke="#000" stroke-opacity="0.6" stroke-width="0.8"/><circle cx="678.2" cy="691.8" r="5.9" fill="#E41A1C" fill-opacity="0.5" stroke="#000" stroke-opacity="0.6" stroke-width="0.8"/><circle cx="658.8" cy="691.8" r="5.9" fill="#E41A1C" fill-opacity="0.5" stroke="#000" stroke-opacity="0.6" stroke-width="0.8"/><circle cx="650.5" cy="686.8" r="5.9" fill="#E41A1C" fill-opacity="0.5" stroke="#000" stroke-opacity="0.6" stroke-width="0.8"/><circle cx="670.0" cy="698.2" r="5.9" fill="#E41A1C" fill-opacity="0.5" stroke="#000" stroke-opacity="0.6" stroke-width="0.8"/><circle cx="668.8" cy="713.0" r="5.9" fill="#E41A1C" fill-opacity="0.5" stroke="#000" stroke-opacity="0.6" stroke-width="0.8"/><circle cx="660.0" cy="709.2" r="5.9" fill="#E41A1C" fill-opacity="0.5" stroke="#000" stroke-opacity="0.6" stroke-width="0.8"/><circle cx="692.5" cy="717.5" r="5.9" fill="#E41A1C" fill-opacity="0.5" stroke="#000" stroke-opacity="0.6" stroke-width="0.8"/><circle cx="702.0" cy="712.5" r="5.9" fill="#E41A1C" fill-opacity="0.5" stroke="#000" stroke-opacity="0.6" stroke-width="0.8"/><circle cx="710.0" cy="733.8" r="5.9" fill="#E41A1C" fill-opacity="0.5" stroke="#000" stroke-opacity="0.6" stroke-width="0.8"/><circle cx="688.2" cy="743.8" r="5.9" fill="#E41A1C" fill-opacity="0.5" stroke="#000" stroke-opacity="0.6" stroke-width="0.8"/><circle cx="701.2" cy="747.0" r="5.9" fill="#E41A1C" fill-opacity="0.5" stroke="#000" stroke-opacity="0.6" stroke-width="0.8"/><circle cx="712.5" cy="748.8" r="5.9" fill="#E41A1C" fill-opacity="0.5" stroke="#000" stroke-opacity="0.6" stroke-width="0.8"/><circle cx="727.5" cy="750.5" r="5.9" fill="#E41A1C" fill-opacity="0.5" stroke="#000" stroke-opacity="0.6" stroke-width="0.8"/><circle cx="740.8" cy="747.0" r="5.9" fill="#E41A1C" fill-opacity="0.5" stroke="#000" stroke-opacity="0.6" stroke-width="0.8"/><circle cx="737.5" cy="718.2" r="5.9" fill="#E41A1C" fill-opacity="0.5" stroke="#000" stroke-opacity="0.6" stroke-width="0.8"/><circle cx="757.0" cy="718.2" r="5.9" fill="#E41A1C" fill-opacity="0.5" stroke="#000" stroke-opacity="0.6" stroke-width="0.8"/><circle cx="756.2" cy="795.5" r="5.9" fill="#E41A1C" fill-opacity="0.5" stroke="#000" stroke-opacity="0.6" stroke-width="0.8"/><circle cx="821.2" cy="772.0" r="5.9" fill="#E41A1C" fill-opacity="0.5" stroke="#000" stroke-opacity="0.6" stroke-width="0.8"/><circle cx="835.0" cy="805.0" r="5.9" fill="#E41A1C" fill-opacity="0.5" stroke="#000" stroke-opacity="0.6" stroke-width="0.8"/><circle cx="828.8" cy="821.8" r="5.9" fill="#E41A1C" fill-opacity="0.5" stroke="#000" stroke-opacity="0.6" stroke-width="0.8"/><circle cx="853.2" cy="820.5" r="5.9" fill="#E41A1C" fill-opacity="0.5" stroke="#000" stroke-opacity="0.6" stroke-width="0.8"/><circle cx="870.5" cy="817.5" r="5.9" fill="#E41A1C" fill-opacity="0.5" stroke="#000" stroke-opacity="0.6" stroke-width="0.8"/><circle cx="840.8" cy="707.5" r="5.9" fill="#E41A1C" fill-opacity="0.5" stroke="#000" stroke-opacity="0.6" stroke-width="0.8"/><circle cx="865.0" cy="686.8" r="5.9" fill="#E41A1C" fill-opacity="0.5" stroke="#000" stroke-opacity="0.6" stroke-width="0.8"/><circle cx="883.0" cy="684.2" r="5.9" fill="#E41A1C" fill-opacity="0.5" stroke="#000" stroke-opacity="0.6" stroke-width="0.8"/><circle cx="880.0" cy="695.0" r="5.9" fill="#E41A1C" fill-opacity="0.5" stroke="#000" stroke-opacity="0.6" stroke-width="0.8"/><circle cx="888.2" cy="705.8" r="5.9" fill="#E41A1C" fill-opacity="0.5" stroke="#000" stroke-opacity="0.6" stroke-width="0.8"/><circle cx="852.0" cy="747.5" r="5.9" fill="#E41A1C" fill-opacity="0.5" stroke="#000" stroke-opacity="0.6" stroke-width="0.8"/><circle cx="863.2" cy="760.5" r="5.9" fill="#E41A1C" fill-opacity="0.5" stroke="#000" stroke-opacity="0.6" stroke-width="0.8"/><circle cx="892.0" cy="763.2" r="5.9" fill="#E41A1C" fill-opacity="0.5" stroke="#000" stroke-opacity="0.6" stroke-width="0.8"/><circle cx="897.0" cy="787.5" r="5.9" fill="#E41A1C" fill-opacity="0.5" stroke="#000" stroke-opacity="0.6" stroke-width="0.8"/><circle cx="923.0" cy="747.5" r="5.9" fill="#E41A1C" fill-opacity="0.5" stroke="#000" stroke-opacity="0.6" stroke-width="0.8"/><circle cx="652.0" cy="755.0" r="5.9" fill="#E41A1C" fill-opacity="0.5" stroke="#000" stroke-opacity="0.6" stroke-width="0.8"/><circle cx="633.2" cy="738.8" r="5.9" fill="#E41A1C" fill-opacity="0.5" stroke="#000" stroke-opacity="0.6" stroke-width="0.8"/><circle cx="656.2" cy="728.8" r="5.9" fill="#E41A1C" fill-opacity="0.5" stroke="#000" stroke-opacity="0.6" stroke-width="0.8"/><circle cx="606.2" cy="643.8" r="5.9" fill="#E41A1C" fill-opacity="0.5" stroke="#000" stroke-opacity="0.6" stroke-width="0.8"/><circle cx="644.0" cy="634.2" r="5.9" fill="#E41A1C" fill-opacity="0.5" stroke="#000" stroke-opacity="0.6" stroke-width="0.8"/><circle cx="654.8" cy="637.5" r="5.9" fill="#E41A1C" fill-opacity="0.5" stroke="#000" stroke-opacity="0.6" stroke-width="0.8"/><circle cx="623.2" cy="645.8" r="5.9" fill="#E41A1C" fill-opacity="0.5" stroke="#000" stroke-opacity="0.6" stroke-width="0.8"/><circle cx="629.1" cy="646.6" r="5.9" fill="#E41A1C" fill-opacity="0.5" stroke="#000" stroke-opacity="0.6" stroke-width="0.8"/><circle cx="636.5" cy="648.3" r="5.9" fill="#E41A1C" fill-opacity="0.5" stroke="#000" stroke-opacity="0.6" stroke-width="0.8"/><circle cx="644.9" cy="646.6" r="5.9" fill="#E41A1C" fill-opacity="0.5" stroke="#000" stroke-opacity="0.6" stroke-width="0.8"/><circle cx="632.4" cy="654.9" r="5.9" fill="#E41A1C" fill-opacity="0.5" stroke="#000" stroke-opacity="0.6" stroke-width="0.8"/><circle cx="639.0" cy="659.1" r="5.9" fill="#E41A1C" fill-opacity="0.5" stroke="#000" stroke-opacity="0.6" stroke-width="0.8"/><circle cx="611.6" cy="664.9" r="5.9" fill="#E41A1C" fill-opacity="0.5" stroke="#000" stroke-opacity="0.6" stroke-width="0.8"/><circle cx="627.4" cy="673.2" r="5.9" fill="#E41A1C" fill-opacity="0.5" stroke="#000" stroke-opacity="0.6" stroke-width="0.8"/><circle cx="633.2" cy="670.7" r="5.9" fill="#E41A1C" fill-opacity="0.5" stroke="#000" stroke-opacity="0.6" stroke-width="0.8"/><circle cx="638.2" cy="669.9" r="5.9" fill="#E41A1C" fill-opacity="0.5" stroke="#000" stroke-opacity="0.6" stroke-width="0.8"/><circle cx="619.9" cy="675.7" r="5.9" fill="#E41A1C" fill-opacity="0.5" stroke="#000" stroke-opacity="0.6" stroke-width="0.8"/><circle cx="607.4" cy="682.4" r="5.9" fill="#E41A1C" fill-opacity="0.5" stroke="#000" stroke-opacity="0.6" stroke-width="0.8"/><circle cx="612.4" cy="681.5" r="5.9" fill="#E41A1C" fill-opacity="0.5" stroke="#000" stroke-opacity="0.6" stroke-width="0.8"/><circle cx="603.3" cy="687.4" r="5.9" fill="#E41A1C" fill-opacity="0.5" stroke="#000" stroke-opacity="0.6" stroke-width="0.8"/><circle cx="638.2" cy="689.9" r="5.9" fill="#E41A1C" fill-opacity="0.5" stroke="#000" stroke-opacity="0.6" stroke-width="0.8"/><circle cx="613.3" cy="693.2" r="5.9" fill="#E41A1C" fill-opacity="0.5" stroke="#000" stroke-opacity="0.6" stroke-width="0.8"/><circle cx="622.4" cy="694.0" r="5.9" fill="#E41A1C" fill-opacity="0.5" stroke="#000" stroke-opacity="0.6" stroke-width="0.8"/><circle cx="630.7" cy="697.3" r="5.9" fill="#E41A1C" fill-opacity="0.5" stroke="#000" stroke-opacity="0.6" stroke-width="0.8"/><circle cx="639.0" cy="699.0" r="5.9" fill="#E41A1C" fill-opacity="0.5" stroke="#000" stroke-opacity="0.6" stroke-width="0.8"/><circle cx="644.9" cy="694.0" r="5.9" fill="#E41A1C" fill-opacity="0.5" stroke="#000" stroke-opacity="0.6" stroke-width="0.8"/><circle cx="601.6" cy="697.3" r="5.9" fill="#E41A1C" fill-opacity="0.5" stroke="#000" stroke-opacity="0.6" stroke-width="0.8"/><circle cx="595.8" cy="704.8" r="5.9" fill="#E41A1C" fill-opacity="0.5" stroke="#000" stroke-opacity="0.6" stroke-width="0.8"/><circle cx="601.6" cy="709.0" r="5.9" fill="#E41A1C" fill-opacity="0.5" stroke="#000" stroke-opacity="0.6" stroke-width="0.8"/><circle cx="623.2" cy="707.3" r="5.9" fill="#E41A1C" fill-opacity="0.5" stroke="#000" stroke-opacity="0.6" stroke-width="0.8"/><circle cx="616.6" cy="706.5" r="5.9" fill="#E41A1C" fill-opacity="0.5" stroke="#000" stroke-opacity="0.6" stroke-width="0.8"/><circle cx="634.9" cy="707.3" r="5.9" fill="#E41A1C" fill-opacity="0.5" stroke="#000" stroke-opacity="0.6" stroke-width="0.8"/><circle cx="643.2" cy="709.8" r="5.9" fill="#E41A1C" fill-opacity="0.5" stroke="#000" stroke-opacity="0.6" stroke-width="0.8"/><circle cx="647.3" cy="713.1" r="5.9" fill="#E41A1C" fill-opacity="0.5" stroke="#000" stroke-opacity="0.6" stroke-width="0.8"/><circle cx="612.4" cy="721.4" r="5.9" fill="#E41A1C" fill-opacity="0.5" stroke="#000" stroke-opacity="0.6" stroke-width="0.8"/><circle cx="622.4" cy="716.5" r="5.9" fill="#E41A1C" fill-opacity="0.5" stroke="#000" stroke-opacity="0.6" stroke-width="0.8"/><circle cx="628.2" cy="724.8" r="5.9" fill="#E41A1C" fill-opacity="0.5" stroke="#000" stroke-opacity="0.6" stroke-width="0.8"/><circle cx="634.9" cy="725.6" r="5.9" fill="#E41A1C" fill-opacity="0.5" stroke="#000" stroke-opacity="0.6" stroke-width="0.8"/><circle cx="636.5" cy="717.3" r="5.9" fill="#E41A1C" fill-opacity="0.5" stroke="#000" stroke-opacity="0.6" stroke-width="0.8"/><circle cx="623.7" cy="693.3" r="5.9" fill="#E41A1C" fill-opacity="0.5" stroke="#000" stroke-opacity="0.6" stroke-width="0.8"/><circle cx="630.8" cy="709.8" r="5.9" fill="#E41A1C" fill-opacity="0.5" stroke="#000" stroke-opacity="0.6" stroke-width="0.8"/><circle cx="629.9" cy="698.8" r="5.9" fill="#E41A1C" fill-opacity="0.5" stroke="#000" stroke-opacity="0.6" stroke-width="0.8"/><circle cx="636.3" cy="705.8" r="5.9" fill="#E41A1C" fill-opacity="0.5" stroke="#000" stroke-opacity="0.6" stroke-width="0.8"/><circle cx="638.1" cy="708.8" r="5.9" fill="#E41A1C" fill-opacity="0.5" stroke="#000" stroke-opacity="0.6" stroke-width="0.8"/><circle cx="640.2" cy="700.8" r="5.9" fill="#E41A1C" fill-opacity="0.5" stroke="#000" stroke-opacity="0.6" stroke-width="0.8"/><circle cx="615.6" cy="690.4" r="5.9" fill="#E41A1C" fill-opacity="0.5" stroke="#000" stroke-opacity="0.6" stroke-width="0.8"/><circle cx="636.0" cy="691.0" r="5.9" fill="#E41A1C" fill-opacity="0.5" stroke="#000" stroke-opacity="0.6" stroke-width="0.8"/><circle cx="633.6" cy="707.3" r="5.9" fill="#E41A1C" fill-opacity="0.5" stroke="#000" stroke-opacity="0.6" stroke-width="0.8"/><circle cx="640.3" cy="692.8" r="5.9" fill="#E41A1C" fill-opacity="0.5" stroke="#000" stroke-opacity="0.6" stroke-width="0.8"/><circle cx="636.1" cy="711.4" r="5.9" fill="#E41A1C" fill-opacity="0.5" stroke="#000" stroke-opacity="0.6" stroke-width="0.8"/><circle cx="614.5" cy="709.1" r="5.9" fill="#E41A1C" fill-opacity="0.5" stroke="#000" stroke-opacity="0.6" stroke-width="0.8"/><circle cx="611.9" cy="696.4" r="5.9" fill="#E41A1C" fill-opacity="0.5" stroke="#000" stroke-opacity="0.6" stroke-width="0.8"/><circle cx="632.3" cy="706.9" r="5.9" fill="#E41A1C" fill-opacity="0.5" stroke="#000" stroke-opacity="0.6" stroke-width="0.8"/><circle cx="640.5" cy="695.9" r="5.9" fill="#E41A1C" fill-opacity="0.5" stroke="#000" stroke-opacity="0.6" stroke-width="0.8"/><circle cx="615.3" cy="709.0" r="5.9" fill="#E41A1C" fill-opacity="0.5" stroke="#000" stroke-opacity="0.6" stroke-width="0.8"/><circle cx="624.7" cy="708.9" r="5.9" fill="#E41A1C" fill-opacity="0.5" stroke="#000" stroke-opacity="0.6" stroke-width="0.8"/><circle cx="627.8" cy="699.2" r="5.9" fill="#E41A1C" fill-opacity="0.5" stroke="#000" stroke-opacity="0.6" stroke-width="0.8"/><circle cx="626.5" cy="711.2" r="5.9" fill="#E41A1C" fill-opacity="0.5" stroke="#000" stroke-opacity="0.6" stroke-width="0.8"/><circle cx="625.3" cy="711.8" r="5.9" fill="#E41A1C" fill-opacity="0.5" stroke="#000" stroke-opacity="0.6" stroke-width="0.8"/><circle cx="629.4" cy="716.7" r="5.9" fill="#E41A1C" fill-opacity="0.5" stroke="#000" stroke-opacity="0.6" stroke-width="0.8"/><circle cx="633.6" cy="696.6" r="5.9" fill="#E41A1C" fill-opacity="0.5" stroke="#000" stroke-opacity="0.6" stroke-width="0.8"/></g>
<line x1="564.9" y1="849.5" x2="1001.4" y2="849.5" stroke="#000" stroke-width="1.1"/>
<line x1="608.5" y1="849.5" x2="608.5" y2="841.0" stroke="#000" stroke-width="1.1"/>
<text x="608.5" y="871.7" font-size="23" text-anchor="middle" fill="#4D4D4D">−0.2</text>
<line x1="690.9" y1="849.5" x2="690.9" y2="841.0" stroke="#000" stroke-width="1.1"/>
<text x="690.9" y="871.7" font-size="23" text-anchor="middle" fill="#4D4D4D">0.0</text>
<line x1="773.3" y1="849.5" x2="773.3" y2="841.0" stroke="#000" stroke-width="1.1"/>
<text x="773.3" y="871.7" font-size="23" text-anchor="middle" fill="#4D4D4D">0.2</text>
<line x1="855.6" y1="849.5" x2="855.6" y2="841.0" stroke="#000" stroke-width="1.1"/>
<text x="855.6" y="871.7" font-size="23" text-anchor="middle" fill="#4D4D4D">0.4</text>
<line x1="938.0" y1="849.5" x2="938.0" y2="841.0" stroke="#000" stroke-width="1.1"/>
<text x="938.0" y="871.7" font-size="23" text-anchor="middle" fill="#4D4D4D">0.6</text>
<text x="1228.7" y="563.2" font-size="24.5" text-anchor="middle" fill="#1A1A1A">plus 2 years (FDR p = 0.494)</text>
<g><path d="M1053.1 691.5l7.6 12.4h-15.2z" fill="#377EB8" fill-opacity="0.5" stroke="#000" stroke-opacity="0.6" stroke-width="0.8"/><path d="M1044.5 718.6l7.6 12.4h-15.2z" fill="#377EB8" fill-opacity="0.5" stroke="#000" stroke-opacity="0.6" stroke-width="0.8"/><path d="M1051.8 695.7l7.6 12.4h-15.2z" fill="#377EB8" fill-opacity="0.5" stroke="#000" stroke-opacity="0.6" stroke-width="0.8"/><path d="M1085.1 702.3l7.6 12.4h-15.2z" fill="#377EB8" fill-opacity="0.5" stroke="#000" stroke-opacity="0.6" stroke-width="0.8"/><path d="M1089.0 679.4l7.6 12.4h-15.2z" fill="#377EB8" fill-opacity="0.5" stroke="#000" stroke-opacity="0.6" stroke-width="0.8"/><path d="M1030.5 670.7l7.6 12.4h-15.2z" fill="#377EB8" fill-opacity="0.5" stroke="#000" stroke-opacity="0.6" stroke-width="0.8"/><path d="M1077.7 718.0l7.6 12.4h-15.2z" fill="#377EB8" fill-opacity="0.5" stroke="#000" stroke-opacity="0.6" stroke-width="0.8"/><path d="M1046.2 701.1l7.6 12.4h-15.2z" fill="#377EB8" fill-opacity="0.5" stroke="#000" stroke-opacity="0.6" stroke-width="0.8"/><path d="M1066.1 715.6l7.6 12.4h-15.2z" fill="#377EB8" fill-opacity="0.5" stroke="#000" stroke-opacity="0.6" stroke-width="0.8"/><path d="M1047.8 713.4l7.6 12.4h-15.2z" fill="#377EB8" fill-opacity="0.5" stroke="#000" stroke-opacity="0.6" stroke-width="0.8"/><path d="M1073.5 720.0l7.6 12.4h-15.2z" fill="#377EB8" fill-opacity="0.5" stroke="#000" stroke-opacity="0.6" stroke-width="0.8"/><path d="M1076.9 725.9l7.6 12.4h-15.2z" fill="#377EB8" fill-opacity="0.5" stroke="#000" stroke-opacity="0.6" stroke-width="0.8"/><path d="M1114.2 718.4l7.6 12.4h-15.2z" fill="#377EB8" fill-opacity="0.5" stroke="#000" stroke-opacity="0.6" stroke-width="0.8"/><path d="M1071.1 665.9l7.6 12.4h-15.2z" fill="#377EB8" fill-opacity="0.5" stroke="#000" stroke-opacity="0.6" stroke-width="0.8"/><path d="M1059.2 651.3l7.6 12.4h-15.2z" fill="#377EB8" fill-opacity="0.5" stroke="#000" stroke-opacity="0.6" stroke-width="0.8"/><path d="M1073.2 652.5l7.6 12.4h-15.2z" fill="#377EB8" fill-opacity="0.5" stroke="#000" stroke-opacity="0.6" stroke-width="0.8"/><path d="M1078.8 655.8l7.6 12.4h-15.2z" fill="#377EB8" fill-opacity="0.5" stroke="#000" stroke-opacity="0.6" stroke-width="0.8"/><path d="M1137.0 669.3l7.6 12.4h-15.2z" fill="#377EB8" fill-opacity="0.5" stroke="#000" stroke-opacity="0.6" stroke-width="0.8"/><path d="M1121.2 680.8l7.6 12.4h-15.2z" fill="#377EB8" fill-opacity="0.5" stroke="#000" stroke-opacity="0.6" stroke-width="0.8"/><path d="M1135.8 679.5l7.6 12.4h-15.2z" fill="#377EB8" fill-opacity="0.5" stroke="#000" stroke-opacity="0.6" stroke-width="0.8"/><path d="M1127.5 690.8l7.6 12.4h-15.2z" fill="#377EB8" fill-opacity="0.5" stroke="#000" stroke-opacity="0.6" stroke-width="0.8"/><path d="M1175.0 701.3l7.6 12.4h-15.2z" fill="#377EB8" fill-opacity="0.5" stroke="#000" stroke-opacity="0.6" stroke-width="0.8"/><path d="M1318.0 658.8l7.6 12.4h-15.2z" fill="#377EB8" fill-opacity="0.5" stroke="#000" stroke-opacity="0.6" stroke-width="0.8"/><path d="M1316.2 681.3l7.6 12.4h-15.2z" fill="#377EB8" fill-opacity="0.5" stroke="#000" stroke-opacity="0.6" stroke-width="0.8"/><path d="M1241.2 752.5l7.6 12.4h-15.2z" fill="#377EB8" fill-opacity="0.5" stroke="#000" stroke-opacity="0.6" stroke-width="0.8"/><path d="M1161.2 758.3l7.6 12.4h-15.2z" fill="#377EB8" fill-opacity="0.5" stroke="#000" stroke-opacity="0.6" stroke-width="0.8"/><path d="M1132.0 770.8l7.6 12.4h-15.2z" fill="#377EB8" fill-opacity="0.5" stroke="#000" stroke-opacity="0.6" stroke-width="0.8"/><path d="M1308.0 775.8l7.6 12.4h-15.2z" fill="#377EB8" fill-opacity="0.5" stroke="#000" stroke-opacity="0.6" stroke-width="0.8"/><path d="M1220.0 787.5l7.6 12.4h-15.2z" fill="#377EB8" fill-opacity="0.5" stroke="#000" stroke-opacity="0.6" stroke-width="0.8"/><path d="M1229.5 796.3l7.6 12.4h-15.2z" fill="#377EB8" fill-opacity="0.5" stroke="#000" stroke-opacity="0.6" stroke-width="0.8"/><path d="M1286.8 805.0l7.6 12.4h-15.2z" fill="#377EB8" fill-opacity="0.5" stroke="#000" stroke-opacity="0.6" stroke-width="0.8"/><path d="M1298.0 821.8l7.6 12.4h-15.2z" fill="#377EB8" fill-opacity="0.5" stroke="#000" stroke-opacity="0.6" stroke-width="0.8"/><path d="M1093.8 749.5l7.6 12.4h-15.2z" fill="#377EB8" fill-opacity="0.5" stroke="#000" stroke-opacity="0.6" stroke-width="0.8"/><path d="M1136.2 738.3l7.6 12.4h-15.2z" fill="#377EB8" fill-opacity="0.5" stroke="#000" stroke-opacity="0.6" stroke-width="0.8"/><path d="M1130.0 733.8l7.6 12.4h-15.2z" fill="#377EB8" fill-opacity="0.5" stroke="#000" stroke-opacity="0.6" stroke-width="0.8"/><path d="M1122.5 726.3l7.6 12.4h-15.2z" fill="#377EB8" fill-opacity="0.5" stroke="#000" stroke-opacity="0.6" stroke-width="0.8"/><path d="M1100.0 683.8l7.6 12.4h-15.2z" fill="#377EB8" fill-opacity="0.5" stroke="#000" stroke-opacity="0.6" stroke-width="0.8"/><path d="M1098.8 701.3l7.6 12.4h-15.2z" fill="#377EB8" fill-opacity="0.5" stroke="#000" stroke-opacity="0.6" stroke-width="0.8"/><path d="M1084.2 668.8l7.6 12.4h-15.2z" fill="#377EB8" fill-opacity="0.5" stroke="#000" stroke-opacity="0.6" stroke-width="0.8"/><path d="M1105.8 626.8l7.6 12.4h-15.2z" fill="#E41A1C" fill-opacity="0.5" stroke="#000" stroke-opacity="0.6" stroke-width="0.8"/><path d="M1306.8 617.5l7.6 12.4h-15.2z" fill="#E41A1C" fill-opacity="0.5" stroke="#000" stroke-opacity="0.6" stroke-width="0.8"/><path d="M1091.2 648.3l7.6 12.4h-15.2z" fill="#E41A1C" fill-opacity="0.5" stroke="#000" stroke-opacity="0.6" stroke-width="0.8"/><path d="M1156.2 648.8l7.6 12.4h-15.2z" fill="#E41A1C" fill-opacity="0.5" stroke="#000" stroke-opacity="0.6" stroke-width="0.8"/><path d="M1115.8 667.5l7.6 12.4h-15.2z" fill="#E41A1C" fill-opacity="0.5" stroke="#000" stroke-opacity="0.6" stroke-width="0.8"/><path d="M1171.2 693.8l7.6 12.4h-15.2z" fill="#E41A1C" fill-opacity="0.5" stroke="#000" stroke-opacity="0.6" stroke-width="0.8"/><path d="M1227.5 695.0l7.6 12.4h-15.2z" fill="#E41A1C" fill-opacity="0.5" stroke="#000" stroke-opacity="0.6" stroke-width="0.8"/><path d="M1233.2 705.0l7.6 12.4h-15.2z" fill="#E41A1C" fill-opacity="0.5" stroke="#000" stroke-opacity="0.6" stroke-width="0.8"/><path d="M1109.2 705.0l7.6 12.4h-15.2z" fill="#E41A1C" fill-opacity="0.5" stroke="#000" stroke-opacity="0.6" stroke-width="0.8"/><path d="M1159.2 745.0l7.6 12.4h-15.2z" fill="#E41A1C" fill-opacity="0.5" stroke="#000" stroke-opacity="0.6" stroke-width="0.8"/><path d="M1097.0 745.8l7.6 12.4h-15.2z" fill="#E41A1C" fill-opacity="0.5" stroke="#000" stroke-opacity="0.6" stroke-width="0.8"/><path d="M1193.8 790.0l7.6 12.4h-15.2z" fill="#E41A1C" fill-opacity="0.5" stroke="#000" stroke-opacity="0.6" stroke-width="0.8"/><path d="M1230.0 795.0l7.6 12.4h-15.2z" fill="#E41A1C" fill-opacity="0.5" stroke="#000" stroke-opacity="0.6" stroke-width="0.8"/><path d="M1335.0 784.3l7.6 12.4h-15.2z" fill="#E41A1C" fill-opacity="0.5" stroke="#000" stroke-opacity="0.6" stroke-width="0.8"/><path d="M1235.0 818.3l7.6 12.4h-15.2z" fill="#E41A1C" fill-opacity="0.5" stroke="#000" stroke-opacity="0.6" stroke-width="0.8"/><path d="M1249.5 821.3l7.6 12.4h-15.2z" fill="#E41A1C" fill-opacity="0.5" stroke="#000" stroke-opacity="0.6" stroke-width="0.8"/><path d="M1268.8 826.3l7.6 12.4h-15.2z" fill="#E41A1C" fill-opacity="0.5" stroke="#000" stroke-opacity="0.6" stroke-width="0.8"/><path d="M1285.0 830.0l7.6 12.4h-15.2z" fill="#E41A1C" fill-opacity="0.5" stroke="#000" stroke-opacity="0.6" stroke-width="0.8"/><path d="M1224.5 828.8l7.6 12.4h-15.2z" fill="#E41A1C" fill-opacity="0.5" stroke="#000" stroke-opacity="0.6" stroke-width="0.8"/><path d="M1318.0 671.3l7.6 12.4h-15.2z" fill="#E41A1C" fill-opacity="0.5" stroke="#000" stroke-opacity="0.6" stroke-width="0.8"/><path d="M1036.2 651.3l7.6 12.4h-15.2z" fill="#E41A1C" fill-opacity="0.5" stroke="#000" stroke-opacity="0.6" stroke-width="0.8"/><path d="M1030.0 658.3l7.6 12.4h-15.2z" fill="#E41A1C" fill-opacity="0.5" stroke="#000" stroke-opacity="0.6" stroke-width="0.8"/><path d="M1057.5 662.5l7.6 12.4h-15.2z" fill="#E41A1C" fill-opacity="0.5" stroke="#000" stroke-opacity="0.6" stroke-width="0.8"/><path d="M1123.8 728.8l7.6 12.4h-15.2z" fill="#E41A1C" fill-opacity="0.5" stroke="#000" stroke-opacity="0.6" stroke-width="0.8"/><path d="M1103.7 689.9l7.6 12.4h-15.2z" fill="#E41A1C" fill-opacity="0.5" stroke="#000" stroke-opacity="0.6" stroke-width="0.8"/><path d="M1046.7 678.2l7.6 12.4h-15.2z" fill="#E41A1C" fill-opacity="0.5" stroke="#000" stroke-opacity="0.6" stroke-width="0.8"/><path d="M1034.8 663.3l7.6 12.4h-15.2z" fill="#E41A1C" fill-opacity="0.5" stroke="#000" stroke-opacity="0.6" stroke-width="0.8"/><path d="M1051.7 672.1l7.6 12.4h-15.2z" fill="#E41A1C" fill-opacity="0.5" stroke="#000" stroke-opacity="0.6" stroke-width="0.8"/><path d="M1117.5 725.2l7.6 12.4h-15.2z" fill="#E41A1C" fill-opacity="0.5" stroke="#000" stroke-opacity="0.6" stroke-width="0.8"/><path d="M1121.5 729.4l7.6 12.4h-15.2z" fill="#E41A1C" fill-opacity="0.5" stroke="#000" stroke-opacity="0.6" stroke-width="0.8"/><path d="M1088.0 705.8l7.6 12.4h-15.2z" fill="#E41A1C" fill-opacity="0.5" stroke="#000" stroke-opacity="0.6" stroke-width="0.8"/><path d="M1042.4 693.0l7.6 12.4h-15.2z" fill="#E41A1C" fill-opacity="0.5" stroke="#000" stroke-opacity="0.6" stroke-width="0.8"/><path d="M1083.2 664.1l7.6 12.4h-15.2z" fill="#E41A1C" fill-opacity="0.5" stroke="#000" stroke-opacity="0.6" stroke-width="0.8"/><path d="M1037.2 664.5l7.6 12.4h-15.2z" fill="#E41A1C" fill-opacity="0.5" stroke="#000" stroke-opacity="0.6" stroke-width="0.8"/><path d="M1100.7 717.9l7.6 12.4h-15.2z" fill="#E41A1C" fill-opacity="0.5" stroke="#000" stroke-opacity="0.6" stroke-width="0.8"/><path d="M1096.4 685.1l7.6 12.4h-15.2z" fill="#E41A1C" fill-opacity="0.5" stroke="#000" stroke-opacity="0.6" stroke-width="0.8"/><path d="M1096.3 693.8l7.6 12.4h-15.2z" fill="#E41A1C" fill-opacity="0.5" stroke="#000" stroke-opacity="0.6" stroke-width="0.8"/><path d="M1075.5 663.4l7.6 12.4h-15.2z" fill="#E41A1C" fill-opacity="0.5" stroke="#000" stroke-opacity="0.6" stroke-width="0.8"/><path d="M1040.4 664.1l7.6 12.4h-15.2z" fill="#E41A1C" fill-opacity="0.5" stroke="#000" stroke-opacity="0.6" stroke-width="0.8"/><path d="M1041.0 699.7l7.6 12.4h-15.2z" fill="#E41A1C" fill-opacity="0.5" stroke="#000" stroke-opacity="0.6" stroke-width="0.8"/><path d="M1059.7 696.0l7.6 12.4h-15.2z" fill="#E41A1C" fill-opacity="0.5" stroke="#000" stroke-opacity="0.6" stroke-width="0.8"/><path d="M1072.6 695.4l7.6 12.4h-15.2z" fill="#E41A1C" fill-opacity="0.5" stroke="#000" stroke-opacity="0.6" stroke-width="0.8"/><path d="M1105.7 715.1l7.6 12.4h-15.2z" fill="#E41A1C" fill-opacity="0.5" stroke="#000" stroke-opacity="0.6" stroke-width="0.8"/><path d="M1117.1 718.5l7.6 12.4h-15.2z" fill="#E41A1C" fill-opacity="0.5" stroke="#000" stroke-opacity="0.6" stroke-width="0.8"/><path d="M1075.1 729.7l7.6 12.4h-15.2z" fill="#E41A1C" fill-opacity="0.5" stroke="#000" stroke-opacity="0.6" stroke-width="0.8"/><path d="M1099.6 721.0l7.6 12.4h-15.2z" fill="#E41A1C" fill-opacity="0.5" stroke="#000" stroke-opacity="0.6" stroke-width="0.8"/><path d="M1106.6 725.3l7.6 12.4h-15.2z" fill="#E41A1C" fill-opacity="0.5" stroke="#000" stroke-opacity="0.6" stroke-width="0.8"/><path d="M1083.1 705.9l7.6 12.4h-15.2z" fill="#E41A1C" fill-opacity="0.5" stroke="#000" stroke-opacity="0.6" stroke-width="0.8"/><path d="M1035.5 705.2l7.6 12.4h-15.2z" fill="#E41A1C" fill-opacity="0.5" stroke="#000" stroke-opacity="0.6" stroke-width="0.8"/><path d="M1042.9 710.4l7.6 12.4h-15.2z" fill="#E41A1C" fill-opacity="0.5" stroke="#000" stroke-opacity="0.6" stroke-width="0.8"/><path d="M1105.1 700.6l7.6 12.4h-15.2z" fill="#E41A1C" fill-opacity="0.5" stroke="#000" stroke-opacity="0.6" stroke-width="0.8"/><path d="M1080.0 705.8l7.6 12.4h-15.2z" fill="#E41A1C" fill-opacity="0.5" stroke="#000" stroke-opacity="0.6" stroke-width="0.8"/><path d="M1043.3 687.8l7.6 12.4h-15.2z" fill="#E41A1C" fill-opacity="0.5" stroke="#000" stroke-opacity="0.6" stroke-width="0.8"/><path d="M1032.4 695.3l7.6 12.4h-15.2z" fill="#E41A1C" fill-opacity="0.5" stroke="#000" stroke-opacity="0.6" stroke-width="0.8"/><path d="M1061.5 666.5l7.6 12.4h-15.2z" fill="#E41A1C" fill-opacity="0.5" stroke="#000" stroke-opacity="0.6" stroke-width="0.8"/><path d="M1054.0 719.6l7.6 12.4h-15.2z" fill="#E41A1C" fill-opacity="0.5" stroke="#000" stroke-opacity="0.6" stroke-width="0.8"/><path d="M1055.0 713.1l7.6 12.4h-15.2z" fill="#E41A1C" fill-opacity="0.5" stroke="#000" stroke-opacity="0.6" stroke-width="0.8"/><path d="M1120.6 720.8l7.6 12.4h-15.2z" fill="#E41A1C" fill-opacity="0.5" stroke="#000" stroke-opacity="0.6" stroke-width="0.8"/><path d="M1047.7 695.4l7.6 12.4h-15.2z" fill="#E41A1C" fill-opacity="0.5" stroke="#000" stroke-opacity="0.6" stroke-width="0.8"/><path d="M1075.1 720.3l7.6 12.4h-15.2z" fill="#E41A1C" fill-opacity="0.5" stroke="#000" stroke-opacity="0.6" stroke-width="0.8"/><path d="M1064.7 710.4l7.6 12.4h-15.2z" fill="#E41A1C" fill-opacity="0.5" stroke="#000" stroke-opacity="0.6" stroke-width="0.8"/><path d="M1095.9 699.9l7.6 12.4h-15.2z" fill="#E41A1C" fill-opacity="0.5" stroke="#000" stroke-opacity="0.6" stroke-width="0.8"/><path d="M1082.7 711.3l7.6 12.4h-15.2z" fill="#E41A1C" fill-opacity="0.5" stroke="#000" stroke-opacity="0.6" stroke-width="0.8"/><path d="M1083.5 685.7l7.6 12.4h-15.2z" fill="#E41A1C" fill-opacity="0.5" stroke="#000" stroke-opacity="0.6" stroke-width="0.8"/><path d="M1058.4 695.6l7.6 12.4h-15.2z" fill="#E41A1C" fill-opacity="0.5" stroke="#000" stroke-opacity="0.6" stroke-width="0.8"/><path d="M1049.9 678.9l7.6 12.4h-15.2z" fill="#E41A1C" fill-opacity="0.5" stroke="#000" stroke-opacity="0.6" stroke-width="0.8"/><path d="M1068.0 706.9l7.6 12.4h-15.2z" fill="#E41A1C" fill-opacity="0.5" stroke="#000" stroke-opacity="0.6" stroke-width="0.8"/><path d="M1055.7 707.6l7.6 12.4h-15.2z" fill="#E41A1C" fill-opacity="0.5" stroke="#000" stroke-opacity="0.6" stroke-width="0.8"/><path d="M1053.1 676.3l7.6 12.4h-15.2z" fill="#E41A1C" fill-opacity="0.5" stroke="#000" stroke-opacity="0.6" stroke-width="0.8"/><path d="M1079.0 694.0l7.6 12.4h-15.2z" fill="#E41A1C" fill-opacity="0.5" stroke="#000" stroke-opacity="0.6" stroke-width="0.8"/><path d="M1063.6 684.9l7.6 12.4h-15.2z" fill="#E41A1C" fill-opacity="0.5" stroke="#000" stroke-opacity="0.6" stroke-width="0.8"/><path d="M1085.5 713.0l7.6 12.4h-15.2z" fill="#E41A1C" fill-opacity="0.5" stroke="#000" stroke-opacity="0.6" stroke-width="0.8"/><path d="M1064.1 716.7l7.6 12.4h-15.2z" fill="#E41A1C" fill-opacity="0.5" stroke="#000" stroke-opacity="0.6" stroke-width="0.8"/><path d="M1050.0 690.2l7.6 12.4h-15.2z" fill="#E41A1C" fill-opacity="0.5" stroke="#000" stroke-opacity="0.6" stroke-width="0.8"/><path d="M1078.7 716.4l7.6 12.4h-15.2z" fill="#E41A1C" fill-opacity="0.5" stroke="#000" stroke-opacity="0.6" stroke-width="0.8"/><path d="M1038.4 697.6l7.6 12.4h-15.2z" fill="#E41A1C" fill-opacity="0.5" stroke="#000" stroke-opacity="0.6" stroke-width="0.8"/><path d="M1060.8 689.3l7.6 12.4h-15.2z" fill="#E41A1C" fill-opacity="0.5" stroke="#000" stroke-opacity="0.6" stroke-width="0.8"/><path d="M1050.3 692.4l7.6 12.4h-15.2z" fill="#E41A1C" fill-opacity="0.5" stroke="#000" stroke-opacity="0.6" stroke-width="0.8"/><path d="M1047.9 700.7l7.6 12.4h-15.2z" fill="#E41A1C" fill-opacity="0.5" stroke="#000" stroke-opacity="0.6" stroke-width="0.8"/><path d="M1076.7 707.5l7.6 12.4h-15.2z" fill="#E41A1C" fill-opacity="0.5" stroke="#000" stroke-opacity="0.6" stroke-width="0.8"/><path d="M1065.8 700.1l7.6 12.4h-15.2z" fill="#E41A1C" fill-opacity="0.5" stroke="#000" stroke-opacity="0.6" stroke-width="0.8"/><path d="M1048.0 687.9l7.6 12.4h-15.2z" fill="#E41A1C" fill-opacity="0.5" stroke="#000" stroke-opacity="0.6" stroke-width="0.8"/><path d="M1083.1 694.6l7.6 12.4h-15.2z" fill="#E41A1C" fill-opacity="0.5" stroke="#000" stroke-opacity="0.6" stroke-width="0.8"/><path d="M1060.3 675.6l7.6 12.4h-15.2z" fill="#E41A1C" fill-opacity="0.5" stroke="#000" stroke-opacity="0.6" stroke-width="0.8"/><path d="M1043.2 707.1l7.6 12.4h-15.2z" fill="#E41A1C" fill-opacity="0.5" stroke="#000" stroke-opacity="0.6" stroke-width="0.8"/><path d="M1049.9 696.6l7.6 12.4h-15.2z" fill="#E41A1C" fill-opacity="0.5" stroke="#000" stroke-opacity="0.6" stroke-width="0.8"/><path d="M1050.4 688.4l7.6 12.4h-15.2z" fill="#E41A1C" fill-opacity="0.5" stroke="#000" stroke-opacity="0.6" stroke-width="0.8"/><path d="M1075.6 698.1l7.6 12.4h-15.2z" fill="#E41A1C" fill-opacity="0.5" stroke="#000" stroke-opacity="0.6" stroke-width="0.8"/><path d="M1049.9 717.3l7.6 12.4h-15.2z" fill="#E41A1C" fill-opacity="0.5" stroke="#000" stroke-opacity="0.6" stroke-width="0.8"/><path d="M1071.5 678.7l7.6 12.4h-15.2z" fill="#E41A1C" fill-opacity="0.5" stroke="#000" stroke-opacity="0.6" stroke-width="0.8"/><path d="M1055.9 693.9l7.6 12.4h-15.2z" fill="#E41A1C" fill-opacity="0.5" stroke="#000" stroke-opacity="0.6" stroke-width="0.8"/><path d="M1051.0 702.3l7.6 12.4h-15.2z" fill="#E41A1C" fill-opacity="0.5" stroke="#000" stroke-opacity="0.6" stroke-width="0.8"/><path d="M1082.0 700.9l7.6 12.4h-15.2z" fill="#E41A1C" fill-opacity="0.5" stroke="#000" stroke-opacity="0.6" stroke-width="0.8"/><path d="M1059.4 685.6l7.6 12.4h-15.2z" fill="#E41A1C" fill-opacity="0.5" stroke="#000" stroke-opacity="0.6" stroke-width="0.8"/><path d="M1080.1 685.5l7.6 12.4h-15.2z" fill="#E41A1C" fill-opacity="0.5" stroke="#000" stroke-opacity="0.6" stroke-width="0.8"/><path d="M1075.1 724.0l7.6 12.4h-15.2z" fill="#E41A1C" fill-opacity="0.5" stroke="#000" stroke-opacity="0.6" stroke-width="0.8"/><path d="M1095.0 708.2l7.6 12.4h-15.2z" fill="#E41A1C" fill-opacity="0.5" stroke="#000" stroke-opacity="0.6" stroke-width="0.8"/><path d="M1073.7 680.0l7.6 12.4h-15.2z" fill="#E41A1C" fill-opacity="0.5" stroke="#000" stroke-opacity="0.6" stroke-width="0.8"/><path d="M1087.9 721.4l7.6 12.4h-15.2z" fill="#E41A1C" fill-opacity="0.5" stroke="#000" stroke-opacity="0.6" stroke-width="0.8"/><path d="M1057.5 674.7l7.6 12.4h-15.2z" fill="#E41A1C" fill-opacity="0.5" stroke="#000" stroke-opacity="0.6" stroke-width="0.8"/><path d="M1069.6 695.0l7.6 12.4h-15.2z" fill="#E41A1C" fill-opacity="0.5" stroke="#000" stroke-opacity="0.6" stroke-width="0.8"/><path d="M1090.2 712.7l7.6 12.4h-15.2z" fill="#E41A1C" fill-opacity="0.5" stroke="#000" stroke-opacity="0.6" stroke-width="0.8"/><path d="M1063.0 700.6l7.6 12.4h-15.2z" fill="#E41A1C" fill-opacity="0.5" stroke="#000" stroke-opacity="0.6" stroke-width="0.8"/><path d="M1066.2 707.7l7.6 12.4h-15.2z" fill="#E41A1C" fill-opacity="0.5" stroke="#000" stroke-opacity="0.6" stroke-width="0.8"/><path d="M1076.6 707.6l7.6 12.4h-15.2z" fill="#E41A1C" fill-opacity="0.5" stroke="#000" stroke-opacity="0.6" stroke-width="0.8"/><path d="M1049.2 715.5l7.6 12.4h-15.2z" fill="#E41A1C" fill-opacity="0.5" stroke="#000" stroke-opacity="0.6" stroke-width="0.8"/><path d="M1038.5 685.7l7.6 12.4h-15.2z" fill="#E41A1C" fill-opacity="0.5" stroke="#000" stroke-opacity="0.6" stroke-width="0.8"/><path d="M1071.1 672.7l7.6 12.4h-15.2z" fill="#E41A1C" fill-opacity="0.5" stroke="#000" stroke-opacity="0.6" stroke-width="0.8"/><path d="M1074.2 689.0l7.6 12.4h-15.2z" fill="#E41A1C" fill-opacity="0.5" stroke="#000" stroke-opacity="0.6" stroke-width="0.8"/></g>
<line x1="1010.4" y1="849.5" x2="1446.9" y2="849.5" stroke="#000" stroke-width="1.1"/>
<line x1="1054.2" y1="849.5" x2="1054.2" y2="841.0" stroke="#000" stroke-width="1.1"/>
<text x="1054.2" y="871.7" font-size="23" text-anchor="middle" fill="#4D4D4D">−0.2</text>
<line x1="1136.6" y1="849.5" x2="1136.6" y2="841.0" stroke="#000" stroke-width="1.1"/>
<text x="1136.6" y="871.7" font-size="23" text-anchor="middle" fill="#4D4D4D">0.0</text>
<line x1="1219.0" y1="849.5" x2="1219.0" y2="841.0" stroke="#000" stroke-width="1.1"/>
<text x="1219.0" y="871.7" font-size="23" text-anchor="middle" fill="#4D4D4D">0.2</text>
<line x1="1301.3" y1="849.5" x2="1301.3" y2="841.0" stroke="#000" stroke-width="1.1"/>
<text x="1301.3" y="871.7" font-size="23" text-anchor="middle" fill="#4D4D4D">0.4</text>
<line x1="1383.7" y1="849.5" x2="1383.7" y2="841.0" stroke="#000" stroke-width="1.1"/>
<text x="1383.7" y="871.7" font-size="23" text-anchor="middle" fill="#4D4D4D">0.6</text>
<line x1="119.9" y1="572.5" x2="119.9" y2="849.5" stroke="#000" stroke-width="1.1"/>
<line x1="119.9" y1="629.9" x2="128.4" y2="629.9" stroke="#000" stroke-width="1.1"/>
<text x="112.8" y="638.1" font-size="23" text-anchor="end" fill="#4D4D4D">0.2</text>
<line x1="119.9" y1="691.8" x2="128.4" y2="691.8" stroke="#000" stroke-width="1.1"/>
<text x="112.8" y="700.0" font-size="23" text-anchor="end" fill="#4D4D4D">0.0</text>
<line x1="119.9" y1="753.7" x2="128.4" y2="753.7" stroke="#000" stroke-width="1.1"/>
<text x="112.8" y="761.9" font-size="23" text-anchor="end" fill="#4D4D4D">−0.2</text>
<line x1="119.9" y1="815.6" x2="128.4" y2="815.6" stroke="#000" stroke-width="1.1"/>
<text x="112.8" y="823.8" font-size="23" text-anchor="end" fill="#4D4D4D">−0.4</text>
<text x="783.2" y="905.5" font-size="29.1" text-anchor="middle" fill="#000">PCoA1 (30.5%)</text>
<text transform="translate(55.3 711.0) rotate(-90)" font-size="29.1" text-anchor="middle" fill="#000">PCoA2 (13.2%)</text>
<text x="1755.1" y="523.3" font-size="26" text-anchor="middle" fill="#000">Kruskal–Wallis FDR p = 0.583</text>
<line x1="1654.8" y1="650.1" x2="1654.8" y2="835.2" stroke="#333" stroke-width="1.6"/>
<rect x="1579.6" y="745.1" width="150.7" height="64.7" fill="#E8474A" stroke="#333" stroke-width="1.6"/>
<line x1="1579.6" y1="790.1" x2="1730.3" y2="790.1" stroke="#333" stroke-width="3.2"/>
<line x1="1855.6" y1="666.7" x2="1855.6" y2="837.4" stroke="#333" stroke-width="1.6"/>
<rect x="1780.7" y="753.3" width="151.1" height="59.7" fill="#5E97C7" stroke="#333" stroke-width="1.6"/>
<line x1="1780.7" y1="792.0" x2="1931.8" y2="792.0" stroke="#333" stroke-width="3.2"/>
<g fill="#000" fill-opacity="0.6" stroke="#000" stroke-opacity="0.5" stroke-width="0.9"><circle cx="1665.3" cy="584.4" r="3.55"/><circle cx="1673.1" cy="592.1" r="3.55"/><circle cx="1624.9" cy="598.3" r="3.55"/><circle cx="1640.5" cy="593.2" r="3.55"/><circle cx="1641.9" cy="599.7" r="3.55"/><circle cx="1655.9" cy="599.5" r="3.55"/><circle cx="1654.1" cy="603.7" r="3.55"/><circle cx="1626.6" cy="607.4" r="3.55"/><circle cx="1625.4" cy="610.6" r="3.55"/><circle cx="1633.5" cy="613.7" r="3.55"/><circle cx="1639.6" cy="612.7" r="3.55"/><circle cx="1676.9" cy="603.7" r="3.55"/><circle cx="1677.6" cy="609.2" r="3.55"/><circle cx="1673.4" cy="614.1" r="3.55"/><circle cx="1682.9" cy="612.7" r="3.55"/><circle cx="1653.8" cy="619.3" r="3.55"/><circle cx="1662.2" cy="619.7" r="3.55"/><circle cx="1634.0" cy="629.5" r="3.55"/><circle cx="1658.7" cy="629.2" r="3.55"/><circle cx="1673.7" cy="638.6" r="3.55"/><circle cx="1646.1" cy="646.7" r="3.55"/><circle cx="1647.1" cy="650.9" r="3.55"/><circle cx="1672.7" cy="645.6" r="3.55"/><circle cx="1678.7" cy="646.3" r="3.55"/><circle cx="1674.5" cy="649.8" r="3.55"/><circle cx="1655.9" cy="653.7" r="3.55"/><circle cx="1628.9" cy="659.6" r="3.55"/><circle cx="1625.2" cy="664.0" r="3.55"/><circle cx="1627.5" cy="670.5" r="3.55"/><circle cx="1627.3" cy="677.3" r="3.55"/><circle cx="1643.3" cy="660.0" r="3.55"/><circle cx="1648.9" cy="659.6" r="3.55"/><circle cx="1647.5" cy="662.4" r="3.55"/><circle cx="1651.7" cy="665.6" r="3.55"/><circle cx="1648.2" cy="670.0" r="3.55"/><circle cx="1650.3" cy="674.5" r="3.55"/><circle cx="1656.6" cy="675.3" r="3.55"/><circle cx="1655.9" cy="680.8" r="3.55"/><circle cx="1660.1" cy="659.6" r="3.55"/><circle cx="1667.1" cy="662.4" r="3.55"/><circle cx="1668.1" cy="666.5" r="3.55"/><circle cx="1676.9" cy="661.9" r="3.55"/><circle cx="1681.8" cy="657.2" r="3.55"/><circle cx="1680.4" cy="670.3" r="3.55"/><circle cx="1625.9" cy="691.0" r="3.55"/><circle cx="1641.6" cy="699.4" r="3.55"/><circle cx="1649.9" cy="698.4" r="3.55"/><circle cx="1663.6" cy="688.9" r="3.55"/><circle cx="1668.5" cy="691.7" r="3.55"/><circle cx="1664.3" cy="697.0" r="3.55"/><circle cx="1676.2" cy="688.6" r="3.55"/><circle cx="1630.7" cy="707.1" r="3.55"/><circle cx="1629.6" cy="715.7" r="3.55"/><circle cx="1637.5" cy="718.5" r="3.55"/><circle cx="1639.8" cy="723.1" r="3.55"/><circle cx="1660.8" cy="710.6" r="3.55"/><circle cx="1659.8" cy="719.9" r="3.55"/><circle cx="1653.8" cy="724.5" r="3.55"/><circle cx="1651.4" cy="732.2" r="3.55"/><circle cx="1670.9" cy="722.4" r="3.55"/><circle cx="1680.4" cy="730.4" r="3.55"/><circle cx="1683.2" cy="729.7" r="3.55"/><circle cx="1632.4" cy="738.1" r="3.55"/><circle cx="1672.7" cy="740.6" r="3.55"/><circle cx="1637.7" cy="744.8" r="3.55"/><circle cx="1654.5" cy="746.2" r="3.55"/><circle cx="1638.1" cy="744.0" r="3.55"/><circle cx="1655.6" cy="746.3" r="3.55"/><circle cx="1663.5" cy="747.1" r="3.55"/><circle cx="1680.2" cy="748.7" r="3.55"/><circle cx="1629.4" cy="750.7" r="3.55"/><circle cx="1638.1" cy="754.3" r="3.55"/><circle cx="1629.4" cy="757.1" r="3.55"/><circle cx="1634.1" cy="761.4" r="3.55"/><circle cx="1641.3" cy="759.8" r="3.55"/><circle cx="1644.4" cy="764.6" r="3.55"/><circle cx="1639.7" cy="769.4" r="3.55"/><circle cx="1626.2" cy="771.0" r="3.55"/><circle cx="1630.2" cy="773.3" r="3.55"/><circle cx="1654.0" cy="759.0" r="3.55"/><circle cx="1661.1" cy="756.7" r="3.55"/><circle cx="1655.6" cy="765.4" r="3.55"/><circle cx="1649.2" cy="771.0" r="3.55"/><circle cx="1669.0" cy="766.2" r="3.55"/><circle cx="1676.2" cy="757.5" r="3.55"/><circle cx="1684.1" cy="755.9" r="3.55"/><circle cx="1675.4" cy="753.5" r="3.55"/><circle cx="1681.7" cy="762.2" r="3.55"/><circle cx="1671.4" cy="771.7" r="3.55"/><circle cx="1677.0" cy="770.2" r="3.55"/><circle cx="1680.2" cy="773.3" r="3.55"/><circle cx="1675.4" cy="776.5" r="3.55"/><circle cx="1657.1" cy="778.1" r="3.55"/><circle cx="1664.3" cy="778.1" r="3.55"/><circle cx="1673.0" cy="783.7" r="3.55"/><circle cx="1684.1" cy="784.4" r="3.55"/><circle cx="1633.3" cy="781.3" r="3.55"/><circle cx="1642.9" cy="779.7" r="3.55"/><circle cx="1647.6" cy="782.1" r="3.55"/><circle cx="1625.4" cy="786.0" r="3.55"/><circle cx="1654.8" cy="786.8" r="3.55"/><circle cx="1630.2" cy="832.1" r="3.55"/><circle cx="1641.3" cy="833.7" r="3.55"/><circle cx="1647.6" cy="830.5" r="3.55"/><circle cx="1673.8" cy="835.2" r="3.55"/><circle cx="1680.2" cy="832.1" r="3.55"/><circle cx="1684.1" cy="819.4" r="3.55"/><circle cx="1682.5" cy="824.9" r="3.55"/><circle cx="1655.6" cy="829.7" r="3.55"/><circle cx="1654.6" cy="808.5" r="3.55"/><circle cx="1674.8" cy="798.1" r="3.55"/><circle cx="1643.5" cy="814.5" r="3.55"/><circle cx="1654.1" cy="799.8" r="3.55"/><circle cx="1649.0" cy="798.5" r="3.55"/><circle cx="1633.7" cy="811.8" r="3.55"/><circle cx="1680.2" cy="814.3" r="3.55"/><circle cx="1663.6" cy="798.9" r="3.55"/><circle cx="1650.7" cy="790.3" r="3.55"/><circle cx="1669.6" cy="797.0" r="3.55"/><circle cx="1641.7" cy="827.2" r="3.55"/><circle cx="1644.8" cy="827.1" r="3.55"/><circle cx="1662.5" cy="817.5" r="3.55"/><circle cx="1663.2" cy="791.9" r="3.55"/><circle cx="1668.6" cy="795.4" r="3.55"/><circle cx="1649.1" cy="789.7" r="3.55"/><circle cx="1626.7" cy="800.2" r="3.55"/><circle cx="1623.9" cy="800.9" r="3.55"/><circle cx="1677.4" cy="827.9" r="3.55"/><circle cx="1650.1" cy="788.7" r="3.55"/><circle cx="1645.2" cy="786.8" r="3.55"/><circle cx="1636.9" cy="811.3" r="3.55"/><circle cx="1662.5" cy="785.4" r="3.55"/><circle cx="1654.2" cy="802.6" r="3.55"/><circle cx="1648.5" cy="789.9" r="3.55"/><circle cx="1648.2" cy="788.5" r="3.55"/><circle cx="1666.9" cy="812.6" r="3.55"/><circle cx="1663.2" cy="801.9" r="3.55"/><circle cx="1684.2" cy="800.2" r="3.55"/><circle cx="1636.0" cy="800.4" r="3.55"/><circle cx="1681.4" cy="790.9" r="3.55"/><circle cx="1671.9" cy="825.3" r="3.55"/><circle cx="1677.5" cy="804.5" r="3.55"/><circle cx="1651.8" cy="822.3" r="3.55"/><circle cx="1668.5" cy="819.5" r="3.55"/><circle cx="1634.4" cy="810.8" r="3.55"/><circle cx="1670.2" cy="794.5" r="3.55"/><circle cx="1636.3" cy="821.0" r="3.55"/><circle cx="1659.4" cy="802.0" r="3.55"/><circle cx="1654.1" cy="795.3" r="3.55"/><circle cx="1638.9" cy="788.7" r="3.55"/><circle cx="1648.7" cy="790.5" r="3.55"/><circle cx="1680.4" cy="826.1" r="3.55"/><circle cx="1660.8" cy="788.0" r="3.55"/><circle cx="1661.3" cy="790.8" r="3.55"/><circle cx="1646.8" cy="789.6" r="3.55"/><circle cx="1654.8" cy="787.3" r="3.55"/><circle cx="1640.9" cy="794.3" r="3.55"/><circle cx="1652.8" cy="824.9" r="3.55"/><circle cx="1660.0" cy="818.4" r="3.55"/><circle cx="1669.4" cy="807.4" r="3.55"/><circle cx="1627.3" cy="786.6" r="3.55"/><circle cx="1631.6" cy="806.7" r="3.55"/><circle cx="1644.7" cy="824.9" r="3.55"/><circle cx="1635.8" cy="789.8" r="3.55"/><circle cx="1664.0" cy="810.7" r="3.55"/><circle cx="1626.4" cy="799.1" r="3.55"/><circle cx="1651.4" cy="820.2" r="3.55"/><circle cx="1672.9" cy="822.4" r="3.55"/><circle cx="1657.3" cy="825.3" r="3.55"/><circle cx="1653.1" cy="796.7" r="3.55"/><circle cx="1632.0" cy="820.6" r="3.55"/><circle cx="1664.6" cy="811.1" r="3.55"/><circle cx="1685.6" cy="811.8" r="3.55"/><circle cx="1642.9" cy="814.6" r="3.55"/><circle cx="1682.3" cy="791.9" r="3.55"/><circle cx="1683.4" cy="802.3" r="3.55"/><circle cx="1630.3" cy="806.4" r="3.55"/><circle cx="1673.0" cy="805.6" r="3.55"/><circle cx="1640.2" cy="817.8" r="3.55"/><circle cx="1629.5" cy="813.5" r="3.55"/><circle cx="1646.2" cy="811.0" r="3.55"/><circle cx="1655.4" cy="796.3" r="3.55"/><circle cx="1636.1" cy="820.1" r="3.55"/><circle cx="1652.2" cy="796.5" r="3.55"/><circle cx="1660.9" cy="817.8" r="3.55"/><circle cx="1628.7" cy="804.2" r="3.55"/><circle cx="1632.7" cy="817.8" r="3.55"/><circle cx="1625.9" cy="820.6" r="3.55"/><circle cx="1658.8" cy="806.7" r="3.55"/><circle cx="1657.4" cy="796.3" r="3.55"/><circle cx="1651.9" cy="791.5" r="3.55"/><circle cx="1645.8" cy="810.2" r="3.55"/><circle cx="1662.1" cy="798.3" r="3.55"/><circle cx="1662.4" cy="818.5" r="3.55"/><circle cx="1672.6" cy="784.1" r="3.55"/><circle cx="1655.0" cy="791.5" r="3.55"/><circle cx="1675.4" cy="809.6" r="3.55"/><circle cx="1651.3" cy="810.8" r="3.55"/><circle cx="1655.7" cy="793.1" r="3.55"/><circle cx="1681.5" cy="786.5" r="3.55"/><circle cx="1625.3" cy="796.9" r="3.55"/><circle cx="1632.1" cy="800.4" r="3.55"/><circle cx="1662.4" cy="801.2" r="3.55"/><circle cx="1685.1" cy="798.4" r="3.55"/><circle cx="1683.1" cy="827.1" r="3.55"/><circle cx="1658.1" cy="819.5" r="3.55"/><circle cx="1627.8" cy="825.1" r="3.55"/><circle cx="1651.3" cy="798.9" r="3.55"/><circle cx="1682.0" cy="801.7" r="3.55"/><circle cx="1628.7" cy="785.2" r="3.55"/><circle cx="1674.1" cy="791.9" r="3.55"/><circle cx="1663.7" cy="787.8" r="3.55"/><circle cx="1675.1" cy="826.6" r="3.55"/><circle cx="1646.6" cy="819.0" r="3.55"/><circle cx="1680.5" cy="794.3" r="3.55"/><circle cx="1653.3" cy="827.9" r="3.55"/><circle cx="1683.9" cy="808.8" r="3.55"/><circle cx="1658.1" cy="784.9" r="3.55"/><circle cx="1676.1" cy="825.6" r="3.55"/><circle cx="1659.1" cy="794.2" r="3.55"/><circle cx="1631.1" cy="811.9" r="3.55"/><circle cx="1667.4" cy="810.3" r="3.55"/><circle cx="1676.8" cy="785.6" r="3.55"/><circle cx="1623.4" cy="788.5" r="3.55"/><circle cx="1642.9" cy="786.2" r="3.55"/><circle cx="1638.5" cy="793.1" r="3.55"/><circle cx="1675.0" cy="807.2" r="3.55"/><circle cx="1635.8" cy="806.3" r="3.55"/><circle cx="1632.9" cy="827.5" r="3.55"/><circle cx="1628.8" cy="794.5" r="3.55"/><circle cx="1659.6" cy="823.3" r="3.55"/><circle cx="1665.0" cy="790.0" r="3.55"/><circle cx="1662.0" cy="816.5" r="3.55"/><circle cx="1682.7" cy="812.1" r="3.55"/><circle cx="1639.0" cy="820.4" r="3.55"/><circle cx="1667.7" cy="823.2" r="3.55"/><circle cx="1635.9" cy="820.8" r="3.55"/><circle cx="1653.7" cy="793.7" r="3.55"/><circle cx="1639.3" cy="788.4" r="3.55"/><circle cx="1680.4" cy="790.3" r="3.55"/><circle cx="1663.5" cy="795.1" r="3.55"/><circle cx="1639.0" cy="799.5" r="3.55"/><circle cx="1677.2" cy="786.9" r="3.55"/><circle cx="1648.0" cy="798.4" r="3.55"/><circle cx="1654.1" cy="811.4" r="3.55"/><circle cx="1678.4" cy="812.0" r="3.55"/><circle cx="1677.6" cy="822.8" r="3.55"/><circle cx="1675.1" cy="785.1" r="3.55"/><circle cx="1627.1" cy="807.0" r="3.55"/><circle cx="1681.7" cy="751.9" r="3.55"/><circle cx="1684.2" cy="754.5" r="3.55"/><circle cx="1653.9" cy="780.9" r="3.55"/><circle cx="1647.3" cy="765.3" r="3.55"/><circle cx="1635.7" cy="783.4" r="3.55"/><circle cx="1685.1" cy="751.9" r="3.55"/><circle cx="1633.4" cy="763.9" r="3.55"/><circle cx="1657.1" cy="776.0" r="3.55"/><circle cx="1646.6" cy="768.6" r="3.55"/><circle cx="1635.6" cy="753.5" r="3.55"/><circle cx="1630.7" cy="766.8" r="3.55"/><circle cx="1659.8" cy="769.7" r="3.55"/><circle cx="1652.9" cy="828.6" r="3.55"/><circle cx="1678.9" cy="830.4" r="3.55"/><circle cx="1632.9" cy="832.7" r="3.55"/><circle cx="1632.2" cy="827.8" r="3.55"/><circle cx="1632.1" cy="831.7" r="3.55"/><circle cx="1675.2" cy="831.5" r="3.55"/><circle cx="1640.5" cy="833.6" r="3.55"/><circle cx="1676.8" cy="829.0" r="3.55"/><circle cx="1874.1" cy="592.1" r="3.55"/><circle cx="1874.1" cy="592.5" r="3.55"/><circle cx="1857.3" cy="596.0" r="3.55"/><circle cx="1877.6" cy="602.5" r="3.55"/><circle cx="1834.5" cy="604.6" r="3.55"/><circle cx="1851.4" cy="613.7" r="3.55"/><circle cx="1857.3" cy="614.1" r="3.55"/><circle cx="1863.9" cy="613.4" r="3.55"/><circle cx="1869.9" cy="633.0" r="3.55"/><circle cx="1857.6" cy="654.7" r="3.55"/><circle cx="1841.0" cy="661.9" r="3.55"/><circle cx="1868.1" cy="660.7" r="3.55"/><circle cx="1875.2" cy="665.8" r="3.55"/><circle cx="1850.3" cy="668.9" r="3.55"/><circle cx="1862.9" cy="673.8" r="3.55"/><circle cx="1873.7" cy="673.3" r="3.55"/><circle cx="1884.3" cy="674.7" r="3.55"/><circle cx="1879.0" cy="680.8" r="3.55"/><circle cx="1838.0" cy="697.7" r="3.55"/><circle cx="1872.0" cy="693.5" r="3.55"/><circle cx="1878.3" cy="700.5" r="3.55"/><circle cx="1831.9" cy="712.4" r="3.55"/><circle cx="1878.0" cy="716.9" r="3.55"/><circle cx="1832.1" cy="730.1" r="3.55"/><circle cx="1838.7" cy="728.3" r="3.55"/><circle cx="1882.0" cy="741.3" r="3.55"/><circle cx="1876.6" cy="746.6" r="3.55"/><circle cx="1827.5" cy="746.9" r="3.55"/><circle cx="1854.5" cy="747.9" r="3.55"/><circle cx="1855.6" cy="750.4" r="3.55"/><circle cx="1827.4" cy="747.4" r="3.55"/><circle cx="1855.6" cy="748.2" r="3.55"/><circle cx="1855.6" cy="751.0" r="3.55"/><circle cx="1877.0" cy="746.6" r="3.55"/><circle cx="1832.1" cy="754.1" r="3.55"/><circle cx="1870.6" cy="752.9" r="3.55"/><circle cx="1877.4" cy="756.5" r="3.55"/><circle cx="1862.3" cy="756.9" r="3.55"/><circle cx="1859.5" cy="762.1" r="3.55"/><circle cx="1865.9" cy="763.3" r="3.55"/><circle cx="1869.8" cy="766.8" r="3.55"/><circle cx="1884.9" cy="763.3" r="3.55"/><circle cx="1833.7" cy="765.6" r="3.55"/><circle cx="1828.6" cy="771.2" r="3.55"/><circle cx="1826.2" cy="773.2" r="3.55"/><circle cx="1848.4" cy="772.0" r="3.55"/><circle cx="1849.2" cy="774.4" r="3.55"/><circle cx="1854.0" cy="769.6" r="3.55"/><circle cx="1858.7" cy="767.6" r="3.55"/><circle cx="1861.9" cy="773.6" r="3.55"/><circle cx="1856.7" cy="777.1" r="3.55"/><circle cx="1877.0" cy="774.0" r="3.55"/><circle cx="1869.4" cy="780.3" r="3.55"/><circle cx="1876.2" cy="779.9" r="3.55"/><circle cx="1829.0" cy="783.9" r="3.55"/><circle cx="1834.1" cy="784.3" r="3.55"/><circle cx="1845.6" cy="785.5" r="3.55"/><circle cx="1852.4" cy="783.9" r="3.55"/><circle cx="1854.8" cy="788.7" r="3.55"/><circle cx="1847.6" cy="788.7" r="3.55"/><circle cx="1862.3" cy="783.9" r="3.55"/><circle cx="1876.2" cy="786.3" r="3.55"/><circle cx="1882.5" cy="788.7" r="3.55"/><circle cx="1886.5" cy="787.9" r="3.55"/><circle cx="1829.8" cy="790.2" r="3.55"/><circle cx="1852.4" cy="791.0" r="3.55"/><circle cx="1833.3" cy="797.4" r="3.55"/><circle cx="1846.0" cy="797.0" r="3.55"/><circle cx="1857.9" cy="798.2" r="3.55"/><circle cx="1864.3" cy="797.0" r="3.55"/><circle cx="1874.6" cy="797.8" r="3.55"/><circle cx="1877.0" cy="801.3" r="3.55"/><circle cx="1884.1" cy="797.4" r="3.55"/><circle cx="1886.5" cy="795.8" r="3.55"/><circle cx="1826.2" cy="803.7" r="3.55"/><circle cx="1831.7" cy="802.1" r="3.55"/><circle cx="1837.3" cy="802.9" r="3.55"/><circle cx="1851.6" cy="802.1" r="3.55"/><circle cx="1846.0" cy="806.9" r="3.55"/><circle cx="1839.7" cy="808.5" r="3.55"/><circle cx="1850.8" cy="810.9" r="3.55"/><circle cx="1828.6" cy="812.5" r="3.55"/><circle cx="1833.3" cy="813.3" r="3.55"/><circle cx="1865.1" cy="809.3" r="3.55"/><circle cx="1868.3" cy="808.5" r="3.55"/><circle cx="1876.2" cy="809.3" r="3.55"/><circle cx="1881.7" cy="810.1" r="3.55"/><circle cx="1827.0" cy="814.8" r="3.55"/><circle cx="1843.7" cy="814.8" r="3.55"/><circle cx="1860.3" cy="814.8" r="3.55"/><circle cx="1868.3" cy="814.0" r="3.55"/><circle cx="1874.6" cy="816.4" r="3.55"/><circle cx="1882.5" cy="814.0" r="3.55"/><circle cx="1829.4" cy="820.4" r="3.55"/><circle cx="1837.3" cy="822.0" r="3.55"/><circle cx="1851.6" cy="820.8" r="3.55"/><circle cx="1865.9" cy="821.2" r="3.55"/><circle cx="1884.9" cy="821.2" r="3.55"/><circle cx="1833.3" cy="826.0" r="3.55"/><circle cx="1832.5" cy="830.7" r="3.55"/><circle cx="1841.3" cy="829.9" r="3.55"/><circle cx="1850.0" cy="828.3" r="3.55"/><circle cx="1862.7" cy="826.0" r="3.55"/><circle cx="1863.5" cy="829.1" r="3.55"/><circle cx="1868.3" cy="827.5" r="3.55"/><circle cx="1878.6" cy="827.9" r="3.55"/><circle cx="1886.1" cy="828.7" r="3.55"/><circle cx="1873.0" cy="833.9" r="3.55"/><circle cx="1863.5" cy="837.1" r="3.55"/><circle cx="1882.5" cy="824.4" r="3.55"/></g>
<line x1="1534.2" y1="572.5" x2="1534.2" y2="849.5" stroke="#000" stroke-width="1.1"/>
<line x1="1533.7" y1="849.5" x2="1976" y2="849.5" stroke="#000" stroke-width="1.1"/>
<line x1="1534.2" y1="616.0" x2="1542.7" y2="616.0" stroke="#000" stroke-width="1.1"/>
<text x="1527.4" y="624.2" font-size="23" text-anchor="end" fill="#4D4D4D">0.8</text>
<line x1="1534.2" y1="689.0" x2="1542.7" y2="689.0" stroke="#000" stroke-width="1.1"/>
<text x="1527.4" y="697.2" font-size="23" text-anchor="end" fill="#4D4D4D">0.6</text>
<line x1="1534.2" y1="761.9" x2="1542.7" y2="761.9" stroke="#000" stroke-width="1.1"/>
<text x="1527.4" y="770.1" font-size="23" text-anchor="end" fill="#4D4D4D">0.4</text>
<line x1="1534.2" y1="834.9" x2="1542.7" y2="834.9" stroke="#000" stroke-width="1.1"/>
<text x="1527.4" y="843.1" font-size="23" text-anchor="end" fill="#4D4D4D">0.2</text>
<line x1="1654.8" y1="849.5" x2="1654.8" y2="841.0" stroke="#000" stroke-width="1.1"/>
<text x="1654.8" y="871.7" font-size="23" text-anchor="middle" fill="#4D4D4D">Ill</text>
<line x1="1855.6" y1="849.5" x2="1855.6" y2="841.0" stroke="#000" stroke-width="1.1"/>
<text x="1855.6" y="871.7" font-size="23" text-anchor="middle" fill="#4D4D4D">Not−Ill</text>
<text transform="translate(1483.4 711.0) rotate(-90)" font-size="29.1" text-anchor="middle" fill="#000">Distance to centroid</text>
<text x="120" y="940.0" font-size="30.5" fill="#000">D85 Ill vs D85 Not−Ill</text>
<text x="335.8" y="975.9" font-size="24.5" text-anchor="middle" fill="#1A1A1A">7 to 12 months (FDR p = 0.781)</text>
<g><rect x="255.3" y="1022.1" width="10.8" height="10.8" fill="#377EB8" fill-opacity="0.5" stroke="#000" stroke-opacity="0.6" stroke-width="0.8"/><rect x="226.6" y="1029.6" width="10.8" height="10.8" fill="#377EB8" fill-opacity="0.5" stroke="#000" stroke-opacity="0.6" stroke-width="0.8"/><rect x="172.8" y="1056.6" width="10.8" height="10.8" fill="#377EB8" fill-opacity="0.5" stroke="#000" stroke-opacity="0.6" stroke-width="0.8"/><rect x="159.6" y="1077.6" width="10.8" height="10.8" fill="#377EB8" fill-opacity="0.5" stroke="#000" stroke-opacity="0.6" stroke-width="0.8"/><rect x="175.8" y="1072.6" width="10.8" height="10.8" fill="#377EB8" fill-opacity="0.5" stroke="#000" stroke-opacity="0.6" stroke-width="0.8"/><rect x="306.6" y="1077.6" width="10.8" height="10.8" fill="#377EB8" fill-opacity="0.5" stroke="#000" stroke-opacity="0.6" stroke-width="0.8"/><rect x="268.4" y="1093.3" width="10.8" height="10.8" fill="#377EB8" fill-opacity="0.5" stroke="#000" stroke-opacity="0.6" stroke-width="0.8"/><rect x="299.1" y="1098.3" width="10.8" height="10.8" fill="#377EB8" fill-opacity="0.5" stroke="#000" stroke-opacity="0.6" stroke-width="0.8"/><rect x="224.6" y="1121.3" width="10.8" height="10.8" fill="#377EB8" fill-opacity="0.5" stroke="#000" stroke-opacity="0.6" stroke-width="0.8"/><rect x="185.3" y="1134.6" width="10.8" height="10.8" fill="#377EB8" fill-opacity="0.5" stroke="#000" stroke-opacity="0.6" stroke-width="0.8"/><rect x="248.8" y="1140.3" width="10.8" height="10.8" fill="#377EB8" fill-opacity="0.5" stroke="#000" stroke-opacity="0.6" stroke-width="0.8"/><rect x="434.1" y="1090.8" width="10.8" height="10.8" fill="#377EB8" fill-opacity="0.5" stroke="#000" stroke-opacity="0.6" stroke-width="0.8"/><rect x="499.6" y="1082.1" width="10.8" height="10.8" fill="#377EB8" fill-opacity="0.5" stroke="#000" stroke-opacity="0.6" stroke-width="0.8"/><rect x="504.6" y="1085.3" width="10.8" height="10.8" fill="#377EB8" fill-opacity="0.5" stroke="#000" stroke-opacity="0.6" stroke-width="0.8"/><rect x="257.6" y="990.9" width="10.8" height="10.8" fill="#E41A1C" fill-opacity="0.5" stroke="#000" stroke-opacity="0.6" stroke-width="0.8"/><rect x="258.4" y="1000.9" width="10.8" height="10.8" fill="#E41A1C" fill-opacity="0.5" stroke="#000" stroke-opacity="0.6" stroke-width="0.8"/><rect x="209.6" y="1012.9" width="10.8" height="10.8" fill="#E41A1C" fill-opacity="0.5" stroke="#000" stroke-opacity="0.6" stroke-width="0.8"/><rect x="201.3" y="1020.9" width="10.8" height="10.8" fill="#E41A1C" fill-opacity="0.5" stroke="#000" stroke-opacity="0.6" stroke-width="0.8"/><rect x="182.8" y="1022.1" width="10.8" height="10.8" fill="#E41A1C" fill-opacity="0.5" stroke="#000" stroke-opacity="0.6" stroke-width="0.8"/><rect x="185.3" y="1030.3" width="10.8" height="10.8" fill="#E41A1C" fill-opacity="0.5" stroke="#000" stroke-opacity="0.6" stroke-width="0.8"/><rect x="232.1" y="1013.9" width="10.8" height="10.8" fill="#E41A1C" fill-opacity="0.5" stroke="#000" stroke-opacity="0.6" stroke-width="0.8"/><rect x="235.1" y="1022.9" width="10.8" height="10.8" fill="#E41A1C" fill-opacity="0.5" stroke="#000" stroke-opacity="0.6" stroke-width="0.8"/><rect x="198.8" y="1040.3" width="10.8" height="10.8" fill="#E41A1C" fill-opacity="0.5" stroke="#000" stroke-opacity="0.6" stroke-width="0.8"/><rect x="297.9" y="1044.1" width="10.8" height="10.8" fill="#E41A1C" fill-opacity="0.5" stroke="#000" stroke-opacity="0.6" stroke-width="0.8"/><rect x="161.3" y="1061.6" width="10.8" height="10.8" fill="#E41A1C" fill-opacity="0.5" stroke="#000" stroke-opacity="0.6" stroke-width="0.8"/><rect x="190.1" y="1064.6" width="10.8" height="10.8" fill="#E41A1C" fill-opacity="0.5" stroke="#000" stroke-opacity="0.6" stroke-width="0.8"/><rect x="207.1" y="1074.6" width="10.8" height="10.8" fill="#E41A1C" fill-opacity="0.5" stroke="#000" stroke-opacity="0.6" stroke-width="0.8"/><rect x="253.8" y="1066.3" width="10.8" height="10.8" fill="#E41A1C" fill-opacity="0.5" stroke="#000" stroke-opacity="0.6" stroke-width="0.8"/><rect x="271.4" y="1068.3" width="10.8" height="10.8" fill="#E41A1C" fill-opacity="0.5" stroke="#000" stroke-opacity="0.6" stroke-width="0.8"/><rect x="334.1" y="1075.3" width="10.8" height="10.8" fill="#E41A1C" fill-opacity="0.5" stroke="#000" stroke-opacity="0.6" stroke-width="0.8"/><rect x="320.1" y="1084.6" width="10.8" height="10.8" fill="#E41A1C" fill-opacity="0.5" stroke="#000" stroke-opacity="0.6" stroke-width="0.8"/><rect x="326.6" y="1083.3" width="10.8" height="10.8" fill="#E41A1C" fill-opacity="0.5" stroke="#000" stroke-opacity="0.6" stroke-width="0.8"/><rect x="324.1" y="1092.8" width="10.8" height="10.8" fill="#E41A1C" fill-opacity="0.5" stroke="#000" stroke-opacity="0.6" stroke-width="0.8"/><rect x="355.4" y="1085.3" width="10.8" height="10.8" fill="#E41A1C" fill-opacity="0.5" stroke="#000" stroke-opacity="0.6" stroke-width="0.8"/><rect x="391.4" y="1084.1" width="10.8" height="10.8" fill="#E41A1C" fill-opacity="0.5" stroke="#000" stroke-opacity="0.6" stroke-width="0.8"/><rect x="402.6" y="1090.1" width="10.8" height="10.8" fill="#E41A1C" fill-opacity="0.5" stroke="#000" stroke-opacity="0.6" stroke-width="0.8"/><rect x="419.1" y="1086.6" width="10.8" height="10.8" fill="#E41A1C" fill-opacity="0.5" stroke="#000" stroke-opacity="0.6" stroke-width="0.8"/><rect x="443.4" y="1090.3" width="10.8" height="10.8" fill="#E41A1C" fill-opacity="0.5" stroke="#000" stroke-opacity="0.6" stroke-width="0.8"/><rect x="460.9" y="1082.1" width="10.8" height="10.8" fill="#E41A1C" fill-opacity="0.5" stroke="#000" stroke-opacity="0.6" stroke-width="0.8"/><rect x="480.9" y="1088.3" width="10.8" height="10.8" fill="#E41A1C" fill-opacity="0.5" stroke="#000" stroke-opacity="0.6" stroke-width="0.8"/><rect x="482.6" y="1084.1" width="10.8" height="10.8" fill="#E41A1C" fill-opacity="0.5" stroke="#000" stroke-opacity="0.6" stroke-width="0.8"/><rect x="495.9" y="1085.8" width="10.8" height="10.8" fill="#E41A1C" fill-opacity="0.5" stroke="#000" stroke-opacity="0.6" stroke-width="0.8"/><rect x="527.9" y="1082.1" width="10.8" height="10.8" fill="#E41A1C" fill-opacity="0.5" stroke="#000" stroke-opacity="0.6" stroke-width="0.8"/><rect x="240.1" y="1091.6" width="10.8" height="10.8" fill="#E41A1C" fill-opacity="0.5" stroke="#000" stroke-opacity="0.6" stroke-width="0.8"/><rect x="190.8" y="1103.8" width="10.8" height="10.8" fill="#E41A1C" fill-opacity="0.5" stroke="#000" stroke-opacity="0.6" stroke-width="0.8"/><rect x="212.8" y="1109.6" width="10.8" height="10.8" fill="#E41A1C" fill-opacity="0.5" stroke="#000" stroke-opacity="0.6" stroke-width="0.8"/><rect x="200.8" y="1117.8" width="10.8" height="10.8" fill="#E41A1C" fill-opacity="0.5" stroke="#000" stroke-opacity="0.6" stroke-width="0.8"/><rect x="251.3" y="1110.3" width="10.8" height="10.8" fill="#E41A1C" fill-opacity="0.5" stroke="#000" stroke-opacity="0.6" stroke-width="0.8"/><rect x="302.6" y="1115.3" width="10.8" height="10.8" fill="#E41A1C" fill-opacity="0.5" stroke="#000" stroke-opacity="0.6" stroke-width="0.8"/><rect x="348.4" y="1115.3" width="10.8" height="10.8" fill="#E41A1C" fill-opacity="0.5" stroke="#000" stroke-opacity="0.6" stroke-width="0.8"/><rect x="385.4" y="1104.6" width="10.8" height="10.8" fill="#E41A1C" fill-opacity="0.5" stroke="#000" stroke-opacity="0.6" stroke-width="0.8"/><rect x="431.6" y="1107.8" width="10.8" height="10.8" fill="#E41A1C" fill-opacity="0.5" stroke="#000" stroke-opacity="0.6" stroke-width="0.8"/><rect x="441.6" y="1110.1" width="10.8" height="10.8" fill="#E41A1C" fill-opacity="0.5" stroke="#000" stroke-opacity="0.6" stroke-width="0.8"/><rect x="455.9" y="1102.1" width="10.8" height="10.8" fill="#E41A1C" fill-opacity="0.5" stroke="#000" stroke-opacity="0.6" stroke-width="0.8"/><rect x="281.6" y="1156.3" width="10.8" height="10.8" fill="#E41A1C" fill-opacity="0.5" stroke="#000" stroke-opacity="0.6" stroke-width="0.8"/><rect x="253.8" y="1166.6" width="10.8" height="10.8" fill="#E41A1C" fill-opacity="0.5" stroke="#000" stroke-opacity="0.6" stroke-width="0.8"/><rect x="192.1" y="1170.1" width="10.8" height="10.8" fill="#E41A1C" fill-opacity="0.5" stroke="#000" stroke-opacity="0.6" stroke-width="0.8"/><rect x="194.1" y="1191.3" width="10.8" height="10.8" fill="#E41A1C" fill-opacity="0.5" stroke="#000" stroke-opacity="0.6" stroke-width="0.8"/></g>
<line x1="119.4" y1="1262.5" x2="552.3" y2="1262.5" stroke="#000" stroke-width="1.1"/>
<line x1="145.9" y1="1262.5" x2="145.9" y2="1254.0" stroke="#000" stroke-width="1.1"/>
<text x="145.9" y="1284.7" font-size="23" text-anchor="middle" fill="#4D4D4D">−0.2</text>
<line x1="229.2" y1="1262.5" x2="229.2" y2="1254.0" stroke="#000" stroke-width="1.1"/>
<text x="229.2" y="1284.7" font-size="23" text-anchor="middle" fill="#4D4D4D">0.0</text>
<line x1="312.5" y1="1262.5" x2="312.5" y2="1254.0" stroke="#000" stroke-width="1.1"/>
<text x="312.5" y="1284.7" font-size="23" text-anchor="middle" fill="#4D4D4D">0.2</text>
<line x1="395.8" y1="1262.5" x2="395.8" y2="1254.0" stroke="#000" stroke-width="1.1"/>
<text x="395.8" y="1284.7" font-size="23" text-anchor="middle" fill="#4D4D4D">0.4</text>
<line x1="479.2" y1="1262.5" x2="479.2" y2="1254.0" stroke="#000" stroke-width="1.1"/>
<text x="479.2" y="1284.7" font-size="23" text-anchor="middle" fill="#4D4D4D">0.6</text>
<text x="778.0" y="975.9" font-size="24.5" text-anchor="middle" fill="#1A1A1A">1 to 2 years (FDR p = 0.049)</text>
<g><circle cx="667.5" cy="1015.5" r="5.9" fill="#377EB8" fill-opacity="0.5" stroke="#000" stroke-opacity="0.6" stroke-width="0.8"/><circle cx="605.0" cy="1040.5" r="5.9" fill="#377EB8" fill-opacity="0.5" stroke="#000" stroke-opacity="0.6" stroke-width="0.8"/><circle cx="648.8" cy="1036.2" r="5.9" fill="#377EB8" fill-opacity="0.5" stroke="#000" stroke-opacity="0.6" stroke-width="0.8"/><circle cx="602.5" cy="1070.8" r="5.9" fill="#377EB8" fill-opacity="0.5" stroke="#000" stroke-opacity="0.6" stroke-width="0.8"/><circle cx="612.0" cy="1070.8" r="5.9" fill="#377EB8" fill-opacity="0.5" stroke="#000" stroke-opacity="0.6" stroke-width="0.8"/><circle cx="667.5" cy="1066.2" r="5.9" fill="#377EB8" fill-opacity="0.5" stroke="#000" stroke-opacity="0.6" stroke-width="0.8"/><circle cx="646.2" cy="1067.5" r="5.9" fill="#377EB8" fill-opacity="0.5" stroke="#000" stroke-opacity="0.6" stroke-width="0.8"/><circle cx="722.5" cy="1072.5" r="5.9" fill="#377EB8" fill-opacity="0.5" stroke="#000" stroke-opacity="0.6" stroke-width="0.8"/><circle cx="600.0" cy="1101.2" r="5.9" fill="#377EB8" fill-opacity="0.5" stroke="#000" stroke-opacity="0.6" stroke-width="0.8"/><circle cx="608.8" cy="1107.5" r="5.9" fill="#377EB8" fill-opacity="0.5" stroke="#000" stroke-opacity="0.6" stroke-width="0.8"/><circle cx="630.0" cy="1098.8" r="5.9" fill="#377EB8" fill-opacity="0.5" stroke="#000" stroke-opacity="0.6" stroke-width="0.8"/><circle cx="597.5" cy="1118.8" r="5.9" fill="#377EB8" fill-opacity="0.5" stroke="#000" stroke-opacity="0.6" stroke-width="0.8"/><circle cx="622.5" cy="1120.0" r="5.9" fill="#377EB8" fill-opacity="0.5" stroke="#000" stroke-opacity="0.6" stroke-width="0.8"/><circle cx="607.5" cy="1125.0" r="5.9" fill="#377EB8" fill-opacity="0.5" stroke="#000" stroke-opacity="0.6" stroke-width="0.8"/><circle cx="636.2" cy="1124.5" r="5.9" fill="#377EB8" fill-opacity="0.5" stroke="#000" stroke-opacity="0.6" stroke-width="0.8"/><circle cx="649.5" cy="1132.5" r="5.9" fill="#377EB8" fill-opacity="0.5" stroke="#000" stroke-opacity="0.6" stroke-width="0.8"/><circle cx="595.8" cy="1141.2" r="5.9" fill="#377EB8" fill-opacity="0.5" stroke="#000" stroke-opacity="0.6" stroke-width="0.8"/><circle cx="641.2" cy="1142.5" r="5.9" fill="#377EB8" fill-opacity="0.5" stroke="#000" stroke-opacity="0.6" stroke-width="0.8"/><circle cx="600.0" cy="1157.0" r="5.9" fill="#377EB8" fill-opacity="0.5" stroke="#000" stroke-opacity="0.6" stroke-width="0.8"/><circle cx="588.8" cy="1162.0" r="5.9" fill="#377EB8" fill-opacity="0.5" stroke="#000" stroke-opacity="0.6" stroke-width="0.8"/><circle cx="642.5" cy="1159.5" r="5.9" fill="#377EB8" fill-opacity="0.5" stroke="#000" stroke-opacity="0.6" stroke-width="0.8"/><circle cx="701.2" cy="1123.8" r="5.9" fill="#377EB8" fill-opacity="0.5" stroke="#000" stroke-opacity="0.6" stroke-width="0.8"/><circle cx="733.8" cy="1130.5" r="5.9" fill="#377EB8" fill-opacity="0.5" stroke="#000" stroke-opacity="0.6" stroke-width="0.8"/><circle cx="724.2" cy="1101.2" r="5.9" fill="#377EB8" fill-opacity="0.5" stroke="#000" stroke-opacity="0.6" stroke-width="0.8"/><circle cx="777.5" cy="1105.5" r="5.9" fill="#377EB8" fill-opacity="0.5" stroke="#000" stroke-opacity="0.6" stroke-width="0.8"/><circle cx="893.0" cy="1100.5" r="5.9" fill="#377EB8" fill-opacity="0.5" stroke="#000" stroke-opacity="0.6" stroke-width="0.8"/><circle cx="661.2" cy="1173.8" r="5.9" fill="#377EB8" fill-opacity="0.5" stroke="#000" stroke-opacity="0.6" stroke-width="0.8"/><circle cx="672.5" cy="1183.2" r="5.9" fill="#377EB8" fill-opacity="0.5" stroke="#000" stroke-opacity="0.6" stroke-width="0.8"/><circle cx="703.8" cy="1168.2" r="5.9" fill="#377EB8" fill-opacity="0.5" stroke="#000" stroke-opacity="0.6" stroke-width="0.8"/><circle cx="725.0" cy="1166.8" r="5.9" fill="#377EB8" fill-opacity="0.5" stroke="#000" stroke-opacity="0.6" stroke-width="0.8"/><circle cx="625.0" cy="1181.2" r="5.9" fill="#377EB8" fill-opacity="0.5" stroke="#000" stroke-opacity="0.6" stroke-width="0.8"/><circle cx="628.0" cy="1214.2" r="5.9" fill="#377EB8" fill-opacity="0.5" stroke="#000" stroke-opacity="0.6" stroke-width="0.8"/><circle cx="785.0" cy="1206.2" r="5.9" fill="#377EB8" fill-opacity="0.5" stroke="#000" stroke-opacity="0.6" stroke-width="0.8"/><circle cx="665.0" cy="1237.5" r="5.9" fill="#377EB8" fill-opacity="0.5" stroke="#000" stroke-opacity="0.6" stroke-width="0.8"/><circle cx="632.5" cy="1019.5" r="5.9" fill="#E41A1C" fill-opacity="0.5" stroke="#000" stroke-opacity="0.6" stroke-width="0.8"/><circle cx="625.0" cy="1029.5" r="5.9" fill="#E41A1C" fill-opacity="0.5" stroke="#000" stroke-opacity="0.6" stroke-width="0.8"/><circle cx="627.5" cy="1030.0" r="5.9" fill="#E41A1C" fill-opacity="0.5" stroke="#000" stroke-opacity="0.6" stroke-width="0.8"/><circle cx="652.5" cy="1030.5" r="5.9" fill="#E41A1C" fill-opacity="0.5" stroke="#000" stroke-opacity="0.6" stroke-width="0.8"/><circle cx="666.2" cy="1030.5" r="5.9" fill="#E41A1C" fill-opacity="0.5" stroke="#000" stroke-opacity="0.6" stroke-width="0.8"/><circle cx="618.8" cy="1036.2" r="5.9" fill="#E41A1C" fill-opacity="0.5" stroke="#000" stroke-opacity="0.6" stroke-width="0.8"/><circle cx="603.8" cy="1045.0" r="5.9" fill="#E41A1C" fill-opacity="0.5" stroke="#000" stroke-opacity="0.6" stroke-width="0.8"/><circle cx="607.5" cy="1051.2" r="5.9" fill="#E41A1C" fill-opacity="0.5" stroke="#000" stroke-opacity="0.6" stroke-width="0.8"/><circle cx="618.0" cy="1047.5" r="5.9" fill="#E41A1C" fill-opacity="0.5" stroke="#000" stroke-opacity="0.6" stroke-width="0.8"/><circle cx="625.0" cy="1050.0" r="5.9" fill="#E41A1C" fill-opacity="0.5" stroke="#000" stroke-opacity="0.6" stroke-width="0.8"/><circle cx="632.5" cy="1049.2" r="5.9" fill="#E41A1C" fill-opacity="0.5" stroke="#000" stroke-opacity="0.6" stroke-width="0.8"/><circle cx="647.5" cy="1043.8" r="5.9" fill="#E41A1C" fill-opacity="0.5" stroke="#000" stroke-opacity="0.6" stroke-width="0.8"/><circle cx="651.2" cy="1047.5" r="5.9" fill="#E41A1C" fill-opacity="0.5" stroke="#000" stroke-opacity="0.6" stroke-width="0.8"/><circle cx="681.2" cy="1040.0" r="5.9" fill="#E41A1C" fill-opacity="0.5" stroke="#000" stroke-opacity="0.6" stroke-width="0.8"/><circle cx="692.5" cy="1040.5" r="5.9" fill="#E41A1C" fill-opacity="0.5" stroke="#000" stroke-opacity="0.6" stroke-width="0.8"/><circle cx="698.8" cy="1045.0" r="5.9" fill="#E41A1C" fill-opacity="0.5" stroke="#000" stroke-opacity="0.6" stroke-width="0.8"/><circle cx="700.0" cy="1047.5" r="5.9" fill="#E41A1C" fill-opacity="0.5" stroke="#000" stroke-opacity="0.6" stroke-width="0.8"/><circle cx="683.2" cy="1052.5" r="5.9" fill="#E41A1C" fill-opacity="0.5" stroke="#000" stroke-opacity="0.6" stroke-width="0.8"/><circle cx="688.8" cy="1059.2" r="5.9" fill="#E41A1C" fill-opacity="0.5" stroke="#000" stroke-opacity="0.6" stroke-width="0.8"/><circle cx="630.0" cy="1060.0" r="5.9" fill="#E41A1C" fill-opacity="0.5" stroke="#000" stroke-opacity="0.6" stroke-width="0.8"/><circle cx="642.5" cy="1058.2" r="5.9" fill="#E41A1C" fill-opacity="0.5" stroke="#000" stroke-opacity="0.6" stroke-width="0.8"/><circle cx="657.0" cy="1062.5" r="5.9" fill="#E41A1C" fill-opacity="0.5" stroke="#000" stroke-opacity="0.6" stroke-width="0.8"/><circle cx="671.2" cy="1067.0" r="5.9" fill="#E41A1C" fill-opacity="0.5" stroke="#000" stroke-opacity="0.6" stroke-width="0.8"/><circle cx="682.5" cy="1068.2" r="5.9" fill="#E41A1C" fill-opacity="0.5" stroke="#000" stroke-opacity="0.6" stroke-width="0.8"/><circle cx="605.0" cy="1065.0" r="5.9" fill="#E41A1C" fill-opacity="0.5" stroke="#000" stroke-opacity="0.6" stroke-width="0.8"/><circle cx="633.8" cy="1072.5" r="5.9" fill="#E41A1C" fill-opacity="0.5" stroke="#000" stroke-opacity="0.6" stroke-width="0.8"/><circle cx="638.8" cy="1078.8" r="5.9" fill="#E41A1C" fill-opacity="0.5" stroke="#000" stroke-opacity="0.6" stroke-width="0.8"/><circle cx="645.0" cy="1070.0" r="5.9" fill="#E41A1C" fill-opacity="0.5" stroke="#000" stroke-opacity="0.6" stroke-width="0.8"/><circle cx="650.0" cy="1073.0" r="5.9" fill="#E41A1C" fill-opacity="0.5" stroke="#000" stroke-opacity="0.6" stroke-width="0.8"/><circle cx="611.2" cy="1078.8" r="5.9" fill="#E41A1C" fill-opacity="0.5" stroke="#000" stroke-opacity="0.6" stroke-width="0.8"/><circle cx="672.5" cy="1081.2" r="5.9" fill="#E41A1C" fill-opacity="0.5" stroke="#000" stroke-opacity="0.6" stroke-width="0.8"/><circle cx="666.2" cy="1086.8" r="5.9" fill="#E41A1C" fill-opacity="0.5" stroke="#000" stroke-opacity="0.6" stroke-width="0.8"/><circle cx="659.2" cy="1091.2" r="5.9" fill="#E41A1C" fill-opacity="0.5" stroke="#000" stroke-opacity="0.6" stroke-width="0.8"/><circle cx="731.2" cy="1061.2" r="5.9" fill="#E41A1C" fill-opacity="0.5" stroke="#000" stroke-opacity="0.6" stroke-width="0.8"/><circle cx="788.8" cy="1068.2" r="5.9" fill="#E41A1C" fill-opacity="0.5" stroke="#000" stroke-opacity="0.6" stroke-width="0.8"/><circle cx="804.2" cy="1087.0" r="5.9" fill="#E41A1C" fill-opacity="0.5" stroke="#000" stroke-opacity="0.6" stroke-width="0.8"/><circle cx="730.8" cy="1091.2" r="5.9" fill="#E41A1C" fill-opacity="0.5" stroke="#000" stroke-opacity="0.6" stroke-width="0.8"/><circle cx="601.2" cy="1090.0" r="5.9" fill="#E41A1C" fill-opacity="0.5" stroke="#000" stroke-opacity="0.6" stroke-width="0.8"/><circle cx="585.0" cy="1093.8" r="5.9" fill="#E41A1C" fill-opacity="0.5" stroke="#000" stroke-opacity="0.6" stroke-width="0.8"/><circle cx="596.2" cy="1100.5" r="5.9" fill="#E41A1C" fill-opacity="0.5" stroke="#000" stroke-opacity="0.6" stroke-width="0.8"/><circle cx="590.0" cy="1107.5" r="5.9" fill="#E41A1C" fill-opacity="0.5" stroke="#000" stroke-opacity="0.6" stroke-width="0.8"/><circle cx="616.2" cy="1098.0" r="5.9" fill="#E41A1C" fill-opacity="0.5" stroke="#000" stroke-opacity="0.6" stroke-width="0.8"/><circle cx="621.2" cy="1103.0" r="5.9" fill="#E41A1C" fill-opacity="0.5" stroke="#000" stroke-opacity="0.6" stroke-width="0.8"/><circle cx="635.0" cy="1097.5" r="5.9" fill="#E41A1C" fill-opacity="0.5" stroke="#000" stroke-opacity="0.6" stroke-width="0.8"/><circle cx="637.5" cy="1098.8" r="5.9" fill="#E41A1C" fill-opacity="0.5" stroke="#000" stroke-opacity="0.6" stroke-width="0.8"/><circle cx="648.8" cy="1101.2" r="5.9" fill="#E41A1C" fill-opacity="0.5" stroke="#000" stroke-opacity="0.6" stroke-width="0.8"/><circle cx="653.8" cy="1105.8" r="5.9" fill="#E41A1C" fill-opacity="0.5" stroke="#000" stroke-opacity="0.6" stroke-width="0.8"/><circle cx="665.0" cy="1103.8" r="5.9" fill="#E41A1C" fill-opacity="0.5" stroke="#000" stroke-opacity="0.6" stroke-width="0.8"/><circle cx="677.5" cy="1107.5" r="5.9" fill="#E41A1C" fill-opacity="0.5" stroke="#000" stroke-opacity="0.6" stroke-width="0.8"/><circle cx="687.5" cy="1108.8" r="5.9" fill="#E41A1C" fill-opacity="0.5" stroke="#000" stroke-opacity="0.6" stroke-width="0.8"/><circle cx="587.0" cy="1118.0" r="5.9" fill="#E41A1C" fill-opacity="0.5" stroke="#000" stroke-opacity="0.6" stroke-width="0.8"/><circle cx="594.5" cy="1126.8" r="5.9" fill="#E41A1C" fill-opacity="0.5" stroke="#000" stroke-opacity="0.6" stroke-width="0.8"/><circle cx="606.2" cy="1113.2" r="5.9" fill="#E41A1C" fill-opacity="0.5" stroke="#000" stroke-opacity="0.6" stroke-width="0.8"/><circle cx="614.5" cy="1111.2" r="5.9" fill="#E41A1C" fill-opacity="0.5" stroke="#000" stroke-opacity="0.6" stroke-width="0.8"/><circle cx="632.5" cy="1113.8" r="5.9" fill="#E41A1C" fill-opacity="0.5" stroke="#000" stroke-opacity="0.6" stroke-width="0.8"/><circle cx="651.2" cy="1118.0" r="5.9" fill="#E41A1C" fill-opacity="0.5" stroke="#000" stroke-opacity="0.6" stroke-width="0.8"/><circle cx="665.0" cy="1111.8" r="5.9" fill="#E41A1C" fill-opacity="0.5" stroke="#000" stroke-opacity="0.6" stroke-width="0.8"/><circle cx="667.5" cy="1120.0" r="5.9" fill="#E41A1C" fill-opacity="0.5" stroke="#000" stroke-opacity="0.6" stroke-width="0.8"/><circle cx="673.2" cy="1125.0" r="5.9" fill="#E41A1C" fill-opacity="0.5" stroke="#000" stroke-opacity="0.6" stroke-width="0.8"/><circle cx="621.2" cy="1126.2" r="5.9" fill="#E41A1C" fill-opacity="0.5" stroke="#000" stroke-opacity="0.6" stroke-width="0.8"/><circle cx="632.5" cy="1134.5" r="5.9" fill="#E41A1C" fill-opacity="0.5" stroke="#000" stroke-opacity="0.6" stroke-width="0.8"/><circle cx="651.2" cy="1133.0" r="5.9" fill="#E41A1C" fill-opacity="0.5" stroke="#000" stroke-opacity="0.6" stroke-width="0.8"/><circle cx="660.0" cy="1132.5" r="5.9" fill="#E41A1C" fill-opacity="0.5" stroke="#000" stroke-opacity="0.6" stroke-width="0.8"/><circle cx="662.5" cy="1140.0" r="5.9" fill="#E41A1C" fill-opacity="0.5" stroke="#000" stroke-opacity="0.6" stroke-width="0.8"/><circle cx="658.0" cy="1145.0" r="5.9" fill="#E41A1C" fill-opacity="0.5" stroke="#000" stroke-opacity="0.6" stroke-width="0.8"/><circle cx="626.2" cy="1138.8" r="5.9" fill="#E41A1C" fill-opacity="0.5" stroke="#000" stroke-opacity="0.6" stroke-width="0.8"/><circle cx="607.5" cy="1140.0" r="5.9" fill="#E41A1C" fill-opacity="0.5" stroke="#000" stroke-opacity="0.6" stroke-width="0.8"/><circle cx="606.2" cy="1147.5" r="5.9" fill="#E41A1C" fill-opacity="0.5" stroke="#000" stroke-opacity="0.6" stroke-width="0.8"/><circle cx="615.0" cy="1146.2" r="5.9" fill="#E41A1C" fill-opacity="0.5" stroke="#000" stroke-opacity="0.6" stroke-width="0.8"/><circle cx="622.5" cy="1150.0" r="5.9" fill="#E41A1C" fill-opacity="0.5" stroke="#000" stroke-opacity="0.6" stroke-width="0.8"/><circle cx="625.0" cy="1155.0" r="5.9" fill="#E41A1C" fill-opacity="0.5" stroke="#000" stroke-opacity="0.6" stroke-width="0.8"/><circle cx="615.0" cy="1158.8" r="5.9" fill="#E41A1C" fill-opacity="0.5" stroke="#000" stroke-opacity="0.6" stroke-width="0.8"/><circle cx="630.0" cy="1162.5" r="5.9" fill="#E41A1C" fill-opacity="0.5" stroke="#000" stroke-opacity="0.6" stroke-width="0.8"/><circle cx="640.0" cy="1155.0" r="5.9" fill="#E41A1C" fill-opacity="0.5" stroke="#000" stroke-opacity="0.6" stroke-width="0.8"/><circle cx="670.0" cy="1154.5" r="5.9" fill="#E41A1C" fill-opacity="0.5" stroke="#000" stroke-opacity="0.6" stroke-width="0.8"/><circle cx="652.0" cy="1166.2" r="5.9" fill="#E41A1C" fill-opacity="0.5" stroke="#000" stroke-opacity="0.6" stroke-width="0.8"/><circle cx="643.8" cy="1172.5" r="5.9" fill="#E41A1C" fill-opacity="0.5" stroke="#000" stroke-opacity="0.6" stroke-width="0.8"/><circle cx="600.0" cy="1173.8" r="5.9" fill="#E41A1C" fill-opacity="0.5" stroke="#000" stroke-opacity="0.6" stroke-width="0.8"/><circle cx="617.5" cy="1173.8" r="5.9" fill="#E41A1C" fill-opacity="0.5" stroke="#000" stroke-opacity="0.6" stroke-width="0.8"/><circle cx="622.5" cy="1177.5" r="5.9" fill="#E41A1C" fill-opacity="0.5" stroke="#000" stroke-opacity="0.6" stroke-width="0.8"/><circle cx="620.0" cy="1185.0" r="5.9" fill="#E41A1C" fill-opacity="0.5" stroke="#000" stroke-opacity="0.6" stroke-width="0.8"/><circle cx="618.0" cy="1193.8" r="5.9" fill="#E41A1C" fill-opacity="0.5" stroke="#000" stroke-opacity="0.6" stroke-width="0.8"/><circle cx="714.5" cy="1107.5" r="5.9" fill="#E41A1C" fill-opacity="0.5" stroke="#000" stroke-opacity="0.6" stroke-width="0.8"/><circle cx="724.2" cy="1113.2" r="5.9" fill="#E41A1C" fill-opacity="0.5" stroke="#000" stroke-opacity="0.6" stroke-width="0.8"/><circle cx="735.0" cy="1116.2" r="5.9" fill="#E41A1C" fill-opacity="0.5" stroke="#000" stroke-opacity="0.6" stroke-width="0.8"/><circle cx="722.5" cy="1137.0" r="5.9" fill="#E41A1C" fill-opacity="0.5" stroke="#000" stroke-opacity="0.6" stroke-width="0.8"/><circle cx="729.5" cy="1135.8" r="5.9" fill="#E41A1C" fill-opacity="0.5" stroke="#000" stroke-opacity="0.6" stroke-width="0.8"/><circle cx="711.2" cy="1145.0" r="5.9" fill="#E41A1C" fill-opacity="0.5" stroke="#000" stroke-opacity="0.6" stroke-width="0.8"/><circle cx="712.5" cy="1147.5" r="5.9" fill="#E41A1C" fill-opacity="0.5" stroke="#000" stroke-opacity="0.6" stroke-width="0.8"/><circle cx="725.0" cy="1153.0" r="5.9" fill="#E41A1C" fill-opacity="0.5" stroke="#000" stroke-opacity="0.6" stroke-width="0.8"/><circle cx="793.8" cy="1107.5" r="5.9" fill="#E41A1C" fill-opacity="0.5" stroke="#000" stroke-opacity="0.6" stroke-width="0.8"/><circle cx="794.5" cy="1118.8" r="5.9" fill="#E41A1C" fill-opacity="0.5" stroke="#000" stroke-opacity="0.6" stroke-width="0.8"/><circle cx="798.8" cy="1122.5" r="5.9" fill="#E41A1C" fill-opacity="0.5" stroke="#000" stroke-opacity="0.6" stroke-width="0.8"/><circle cx="810.0" cy="1125.8" r="5.9" fill="#E41A1C" fill-opacity="0.5" stroke="#000" stroke-opacity="0.6" stroke-width="0.8"/><circle cx="818.2" cy="1120.5" r="5.9" fill="#E41A1C" fill-opacity="0.5" stroke="#000" stroke-opacity="0.6" stroke-width="0.8"/><circle cx="768.8" cy="1123.8" r="5.9" fill="#E41A1C" fill-opacity="0.5" stroke="#000" stroke-opacity="0.6" stroke-width="0.8"/><circle cx="774.2" cy="1124.2" r="5.9" fill="#E41A1C" fill-opacity="0.5" stroke="#000" stroke-opacity="0.6" stroke-width="0.8"/><circle cx="783.2" cy="1133.8" r="5.9" fill="#E41A1C" fill-opacity="0.5" stroke="#000" stroke-opacity="0.6" stroke-width="0.8"/><circle cx="855.0" cy="1099.5" r="5.9" fill="#E41A1C" fill-opacity="0.5" stroke="#000" stroke-opacity="0.6" stroke-width="0.8"/><circle cx="849.2" cy="1114.2" r="5.9" fill="#E41A1C" fill-opacity="0.5" stroke="#000" stroke-opacity="0.6" stroke-width="0.8"/><circle cx="851.8" cy="1121.2" r="5.9" fill="#E41A1C" fill-opacity="0.5" stroke="#000" stroke-opacity="0.6" stroke-width="0.8"/><circle cx="844.5" cy="1130.5" r="5.9" fill="#E41A1C" fill-opacity="0.5" stroke="#000" stroke-opacity="0.6" stroke-width="0.8"/><circle cx="860.0" cy="1130.0" r="5.9" fill="#E41A1C" fill-opacity="0.5" stroke="#000" stroke-opacity="0.6" stroke-width="0.8"/><circle cx="862.5" cy="1126.8" r="5.9" fill="#E41A1C" fill-opacity="0.5" stroke="#000" stroke-opacity="0.6" stroke-width="0.8"/><circle cx="868.8" cy="1128.0" r="5.9" fill="#E41A1C" fill-opacity="0.5" stroke="#000" stroke-opacity="0.6" stroke-width="0.8"/><circle cx="876.2" cy="1115.0" r="5.9" fill="#E41A1C" fill-opacity="0.5" stroke="#000" stroke-opacity="0.6" stroke-width="0.8"/><circle cx="879.5" cy="1109.2" r="5.9" fill="#E41A1C" fill-opacity="0.5" stroke="#000" stroke-opacity="0.6" stroke-width="0.8"/><circle cx="888.0" cy="1110.0" r="5.9" fill="#E41A1C" fill-opacity="0.5" stroke="#000" stroke-opacity="0.6" stroke-width="0.8"/><circle cx="875.0" cy="1127.5" r="5.9" fill="#E41A1C" fill-opacity="0.5" stroke="#000" stroke-opacity="0.6" stroke-width="0.8"/><circle cx="877.5" cy="1130.0" r="5.9" fill="#E41A1C" fill-opacity="0.5" stroke="#000" stroke-opacity="0.6" stroke-width="0.8"/><circle cx="902.5" cy="1121.2" r="5.9" fill="#E41A1C" fill-opacity="0.5" stroke="#000" stroke-opacity="0.6" stroke-width="0.8"/><circle cx="911.8" cy="1093.8" r="5.9" fill="#E41A1C" fill-opacity="0.5" stroke="#000" stroke-opacity="0.6" stroke-width="0.8"/><circle cx="923.0" cy="1118.0" r="5.9" fill="#E41A1C" fill-opacity="0.5" stroke="#000" stroke-opacity="0.6" stroke-width="0.8"/><circle cx="793.2" cy="1163.2" r="5.9" fill="#E41A1C" fill-opacity="0.5" stroke="#000" stroke-opacity="0.6" stroke-width="0.8"/><circle cx="746.2" cy="1171.8" r="5.9" fill="#E41A1C" fill-opacity="0.5" stroke="#000" stroke-opacity="0.6" stroke-width="0.8"/><circle cx="698.2" cy="1175.8" r="5.9" fill="#E41A1C" fill-opacity="0.5" stroke="#000" stroke-opacity="0.6" stroke-width="0.8"/><circle cx="683.8" cy="1177.5" r="5.9" fill="#E41A1C" fill-opacity="0.5" stroke="#000" stroke-opacity="0.6" stroke-width="0.8"/><circle cx="662.5" cy="1190.5" r="5.9" fill="#E41A1C" fill-opacity="0.5" stroke="#000" stroke-opacity="0.6" stroke-width="0.8"/><circle cx="683.8" cy="1190.5" r="5.9" fill="#E41A1C" fill-opacity="0.5" stroke="#000" stroke-opacity="0.6" stroke-width="0.8"/><circle cx="691.2" cy="1193.2" r="5.9" fill="#E41A1C" fill-opacity="0.5" stroke="#000" stroke-opacity="0.6" stroke-width="0.8"/><circle cx="761.2" cy="1189.5" r="5.9" fill="#E41A1C" fill-opacity="0.5" stroke="#000" stroke-opacity="0.6" stroke-width="0.8"/><circle cx="768.8" cy="1191.2" r="5.9" fill="#E41A1C" fill-opacity="0.5" stroke="#000" stroke-opacity="0.6" stroke-width="0.8"/><circle cx="650.0" cy="1201.2" r="5.9" fill="#E41A1C" fill-opacity="0.5" stroke="#000" stroke-opacity="0.6" stroke-width="0.8"/><circle cx="652.5" cy="1209.2" r="5.9" fill="#E41A1C" fill-opacity="0.5" stroke="#000" stroke-opacity="0.6" stroke-width="0.8"/><circle cx="675.0" cy="1204.5" r="5.9" fill="#E41A1C" fill-opacity="0.5" stroke="#000" stroke-opacity="0.6" stroke-width="0.8"/><circle cx="695.0" cy="1205.5" r="5.9" fill="#E41A1C" fill-opacity="0.5" stroke="#000" stroke-opacity="0.6" stroke-width="0.8"/><circle cx="733.2" cy="1214.2" r="5.9" fill="#E41A1C" fill-opacity="0.5" stroke="#000" stroke-opacity="0.6" stroke-width="0.8"/><circle cx="697.5" cy="1222.0" r="5.9" fill="#E41A1C" fill-opacity="0.5" stroke="#000" stroke-opacity="0.6" stroke-width="0.8"/><circle cx="672.0" cy="1240.5" r="5.9" fill="#E41A1C" fill-opacity="0.5" stroke="#000" stroke-opacity="0.6" stroke-width="0.8"/></g>
<line x1="561.3" y1="1262.5" x2="994.7" y2="1262.5" stroke="#000" stroke-width="1.1"/>
<line x1="588.2" y1="1262.5" x2="588.2" y2="1254.0" stroke="#000" stroke-width="1.1"/>
<text x="588.2" y="1284.7" font-size="23" text-anchor="middle" fill="#4D4D4D">−0.2</text>
<line x1="671.5" y1="1262.5" x2="671.5" y2="1254.0" stroke="#000" stroke-width="1.1"/>
<text x="671.5" y="1284.7" font-size="23" text-anchor="middle" fill="#4D4D4D">0.0</text>
<line x1="754.8" y1="1262.5" x2="754.8" y2="1254.0" stroke="#000" stroke-width="1.1"/>
<text x="754.8" y="1284.7" font-size="23" text-anchor="middle" fill="#4D4D4D">0.2</text>
<line x1="838.1" y1="1262.5" x2="838.1" y2="1254.0" stroke="#000" stroke-width="1.1"/>
<text x="838.1" y="1284.7" font-size="23" text-anchor="middle" fill="#4D4D4D">0.4</text>
<line x1="921.5" y1="1262.5" x2="921.5" y2="1254.0" stroke="#000" stroke-width="1.1"/>
<text x="921.5" y="1284.7" font-size="23" text-anchor="middle" fill="#4D4D4D">0.6</text>
<text x="1220.3" y="975.9" font-size="24.5" text-anchor="middle" fill="#1A1A1A">plus 2 years (FDR p = 0.606)</text>
<g><path d="M1042.4 1153.8l7.6 12.4h-15.2z" fill="#377EB8" fill-opacity="0.5" stroke="#000" stroke-opacity="0.6" stroke-width="0.8"/><path d="M1082.3 1192.2l7.6 12.4h-15.2z" fill="#377EB8" fill-opacity="0.5" stroke="#000" stroke-opacity="0.6" stroke-width="0.8"/><path d="M1057.9 1149.8l7.6 12.4h-15.2z" fill="#377EB8" fill-opacity="0.5" stroke="#000" stroke-opacity="0.6" stroke-width="0.8"/><path d="M1108.8 1175.1l7.6 12.4h-15.2z" fill="#377EB8" fill-opacity="0.5" stroke="#000" stroke-opacity="0.6" stroke-width="0.8"/><path d="M1056.7 1084.6l7.6 12.4h-15.2z" fill="#377EB8" fill-opacity="0.5" stroke="#000" stroke-opacity="0.6" stroke-width="0.8"/><path d="M1060.8 1178.4l7.6 12.4h-15.2z" fill="#377EB8" fill-opacity="0.5" stroke="#000" stroke-opacity="0.6" stroke-width="0.8"/><path d="M1048.0 1021.0l7.6 12.4h-15.2z" fill="#377EB8" fill-opacity="0.5" stroke="#000" stroke-opacity="0.6" stroke-width="0.8"/><path d="M1062.8 1047.0l7.6 12.4h-15.2z" fill="#377EB8" fill-opacity="0.5" stroke="#000" stroke-opacity="0.6" stroke-width="0.8"/><path d="M1068.0 1131.2l7.6 12.4h-15.2z" fill="#377EB8" fill-opacity="0.5" stroke="#000" stroke-opacity="0.6" stroke-width="0.8"/><path d="M1057.1 1180.9l7.6 12.4h-15.2z" fill="#377EB8" fill-opacity="0.5" stroke="#000" stroke-opacity="0.6" stroke-width="0.8"/><path d="M1113.2 1190.6l7.6 12.4h-15.2z" fill="#377EB8" fill-opacity="0.5" stroke="#000" stroke-opacity="0.6" stroke-width="0.8"/><path d="M1058.4 1129.3l7.6 12.4h-15.2z" fill="#377EB8" fill-opacity="0.5" stroke="#000" stroke-opacity="0.6" stroke-width="0.8"/><path d="M1038.0 1149.2l7.6 12.4h-15.2z" fill="#377EB8" fill-opacity="0.5" stroke="#000" stroke-opacity="0.6" stroke-width="0.8"/><path d="M1099.9 1177.0l7.6 12.4h-15.2z" fill="#377EB8" fill-opacity="0.5" stroke="#000" stroke-opacity="0.6" stroke-width="0.8"/><path d="M1042.6 1121.3l7.6 12.4h-15.2z" fill="#377EB8" fill-opacity="0.5" stroke="#000" stroke-opacity="0.6" stroke-width="0.8"/><path d="M1081.5 1124.6l7.6 12.4h-15.2z" fill="#377EB8" fill-opacity="0.5" stroke="#000" stroke-opacity="0.6" stroke-width="0.8"/><path d="M1125.5 1181.8l7.6 12.4h-15.2z" fill="#377EB8" fill-opacity="0.5" stroke="#000" stroke-opacity="0.6" stroke-width="0.8"/><path d="M1060.7 1032.5l7.6 12.4h-15.2z" fill="#377EB8" fill-opacity="0.5" stroke="#000" stroke-opacity="0.6" stroke-width="0.8"/><path d="M1044.2 1119.1l7.6 12.4h-15.2z" fill="#377EB8" fill-opacity="0.5" stroke="#000" stroke-opacity="0.6" stroke-width="0.8"/><path d="M1041.5 1140.6l7.6 12.4h-15.2z" fill="#377EB8" fill-opacity="0.5" stroke="#000" stroke-opacity="0.6" stroke-width="0.8"/><path d="M1110.5 1178.9l7.6 12.4h-15.2z" fill="#377EB8" fill-opacity="0.5" stroke="#000" stroke-opacity="0.6" stroke-width="0.8"/><path d="M1048.4 1174.7l7.6 12.4h-15.2z" fill="#377EB8" fill-opacity="0.5" stroke="#000" stroke-opacity="0.6" stroke-width="0.8"/><path d="M1037.9 1040.7l7.6 12.4h-15.2z" fill="#377EB8" fill-opacity="0.5" stroke="#000" stroke-opacity="0.6" stroke-width="0.8"/><path d="M1089.3 1181.3l7.6 12.4h-15.2z" fill="#377EB8" fill-opacity="0.5" stroke="#000" stroke-opacity="0.6" stroke-width="0.8"/><path d="M1065.3 1045.7l7.6 12.4h-15.2z" fill="#377EB8" fill-opacity="0.5" stroke="#000" stroke-opacity="0.6" stroke-width="0.8"/><path d="M1056.2 1009.3l7.6 12.4h-15.2z" fill="#377EB8" fill-opacity="0.5" stroke="#000" stroke-opacity="0.6" stroke-width="0.8"/><path d="M1096.2 1029.5l7.6 12.4h-15.2z" fill="#377EB8" fill-opacity="0.5" stroke="#000" stroke-opacity="0.6" stroke-width="0.8"/><path d="M1077.0 1033.3l7.6 12.4h-15.2z" fill="#377EB8" fill-opacity="0.5" stroke="#000" stroke-opacity="0.6" stroke-width="0.8"/><path d="M1096.2 1046.3l7.6 12.4h-15.2z" fill="#377EB8" fill-opacity="0.5" stroke="#000" stroke-opacity="0.6" stroke-width="0.8"/><path d="M1132.5 1054.3l7.6 12.4h-15.2z" fill="#377EB8" fill-opacity="0.5" stroke="#000" stroke-opacity="0.6" stroke-width="0.8"/><path d="M1088.2 1056.8l7.6 12.4h-15.2z" fill="#377EB8" fill-opacity="0.5" stroke="#000" stroke-opacity="0.6" stroke-width="0.8"/><path d="M1095.8 1068.8l7.6 12.4h-15.2z" fill="#377EB8" fill-opacity="0.5" stroke="#000" stroke-opacity="0.6" stroke-width="0.8"/><path d="M1079.2 1086.8l7.6 12.4h-15.2z" fill="#377EB8" fill-opacity="0.5" stroke="#000" stroke-opacity="0.6" stroke-width="0.8"/><path d="M1154.2 1105.8l7.6 12.4h-15.2z" fill="#377EB8" fill-opacity="0.5" stroke="#000" stroke-opacity="0.6" stroke-width="0.8"/><path d="M1279.2 1115.0l7.6 12.4h-15.2z" fill="#377EB8" fill-opacity="0.5" stroke="#000" stroke-opacity="0.6" stroke-width="0.8"/><path d="M1264.5 1128.8l7.6 12.4h-15.2z" fill="#377EB8" fill-opacity="0.5" stroke="#000" stroke-opacity="0.6" stroke-width="0.8"/><path d="M1320.0 1107.0l7.6 12.4h-15.2z" fill="#377EB8" fill-opacity="0.5" stroke="#000" stroke-opacity="0.6" stroke-width="0.8"/><path d="M1114.2 1172.0l7.6 12.4h-15.2z" fill="#377EB8" fill-opacity="0.5" stroke="#000" stroke-opacity="0.6" stroke-width="0.8"/><path d="M1146.2 1185.0l7.6 12.4h-15.2z" fill="#377EB8" fill-opacity="0.5" stroke="#000" stroke-opacity="0.6" stroke-width="0.8"/><path d="M1155.0 1216.3l7.6 12.4h-15.2z" fill="#377EB8" fill-opacity="0.5" stroke="#000" stroke-opacity="0.6" stroke-width="0.8"/><path d="M1088.0 1222.5l7.6 12.4h-15.2z" fill="#377EB8" fill-opacity="0.5" stroke="#000" stroke-opacity="0.6" stroke-width="0.8"/><path d="M1096.2 1210.0l7.6 12.4h-15.2z" fill="#377EB8" fill-opacity="0.5" stroke="#000" stroke-opacity="0.6" stroke-width="0.8"/><path d="M1098.8 1239.3l7.6 12.4h-15.2z" fill="#377EB8" fill-opacity="0.5" stroke="#000" stroke-opacity="0.6" stroke-width="0.8"/><path d="M1142.5 1241.8l7.6 12.4h-15.2z" fill="#377EB8" fill-opacity="0.5" stroke="#000" stroke-opacity="0.6" stroke-width="0.8"/><path d="M1208.0 1226.3l7.6 12.4h-15.2z" fill="#377EB8" fill-opacity="0.5" stroke="#000" stroke-opacity="0.6" stroke-width="0.8"/><path d="M1046.2 1194.3l7.6 12.4h-15.2z" fill="#377EB8" fill-opacity="0.5" stroke="#000" stroke-opacity="0.6" stroke-width="0.8"/><path d="M1043.8 1171.8l7.6 12.4h-15.2z" fill="#377EB8" fill-opacity="0.5" stroke="#000" stroke-opacity="0.6" stroke-width="0.8"/><path d="M1023.8 1091.3l7.6 12.4h-15.2z" fill="#377EB8" fill-opacity="0.5" stroke="#000" stroke-opacity="0.6" stroke-width="0.8"/><path d="M1114.5 1043.3l7.6 12.4h-15.2z" fill="#E41A1C" fill-opacity="0.5" stroke="#000" stroke-opacity="0.6" stroke-width="0.8"/><path d="M1122.0 1066.3l7.6 12.4h-15.2z" fill="#E41A1C" fill-opacity="0.5" stroke="#000" stroke-opacity="0.6" stroke-width="0.8"/><path d="M1110.5 1067.5l7.6 12.4h-15.2z" fill="#E41A1C" fill-opacity="0.5" stroke="#000" stroke-opacity="0.6" stroke-width="0.8"/><path d="M1107.5 1082.5l7.6 12.4h-15.2z" fill="#E41A1C" fill-opacity="0.5" stroke="#000" stroke-opacity="0.6" stroke-width="0.8"/><path d="M1106.8 1093.8l7.6 12.4h-15.2z" fill="#E41A1C" fill-opacity="0.5" stroke="#000" stroke-opacity="0.6" stroke-width="0.8"/><path d="M1115.0 1096.3l7.6 12.4h-15.2z" fill="#E41A1C" fill-opacity="0.5" stroke="#000" stroke-opacity="0.6" stroke-width="0.8"/><path d="M1122.5 1123.8l7.6 12.4h-15.2z" fill="#E41A1C" fill-opacity="0.5" stroke="#000" stroke-opacity="0.6" stroke-width="0.8"/><path d="M1110.0 1150.0l7.6 12.4h-15.2z" fill="#E41A1C" fill-opacity="0.5" stroke="#000" stroke-opacity="0.6" stroke-width="0.8"/><path d="M1097.0 1146.8l7.6 12.4h-15.2z" fill="#E41A1C" fill-opacity="0.5" stroke="#000" stroke-opacity="0.6" stroke-width="0.8"/><path d="M1336.2 1090.8l7.6 12.4h-15.2z" fill="#E41A1C" fill-opacity="0.5" stroke="#000" stroke-opacity="0.6" stroke-width="0.8"/><path d="M1300.5 1118.3l7.6 12.4h-15.2z" fill="#E41A1C" fill-opacity="0.5" stroke="#000" stroke-opacity="0.6" stroke-width="0.8"/><path d="M1316.2 1107.5l7.6 12.4h-15.2z" fill="#E41A1C" fill-opacity="0.5" stroke="#000" stroke-opacity="0.6" stroke-width="0.8"/><path d="M1250.0 1135.0l7.6 12.4h-15.2z" fill="#E41A1C" fill-opacity="0.5" stroke="#000" stroke-opacity="0.6" stroke-width="0.8"/><path d="M1324.5 1140.8l7.6 12.4h-15.2z" fill="#E41A1C" fill-opacity="0.5" stroke="#000" stroke-opacity="0.6" stroke-width="0.8"/><path d="M1322.5 1148.8l7.6 12.4h-15.2z" fill="#E41A1C" fill-opacity="0.5" stroke="#000" stroke-opacity="0.6" stroke-width="0.8"/><path d="M1245.0 1205.0l7.6 12.4h-15.2z" fill="#E41A1C" fill-opacity="0.5" stroke="#000" stroke-opacity="0.6" stroke-width="0.8"/><path d="M1148.0 1213.3l7.6 12.4h-15.2z" fill="#E41A1C" fill-opacity="0.5" stroke="#000" stroke-opacity="0.6" stroke-width="0.8"/><path d="M1140.0 1227.0l7.6 12.4h-15.2z" fill="#E41A1C" fill-opacity="0.5" stroke="#000" stroke-opacity="0.6" stroke-width="0.8"/><path d="M1142.5 1189.3l7.6 12.4h-15.2z" fill="#E41A1C" fill-opacity="0.5" stroke="#000" stroke-opacity="0.6" stroke-width="0.8"/><path d="M1125.0 1192.5l7.6 12.4h-15.2z" fill="#E41A1C" fill-opacity="0.5" stroke="#000" stroke-opacity="0.6" stroke-width="0.8"/><path d="M1027.5 1053.3l7.6 12.4h-15.2z" fill="#E41A1C" fill-opacity="0.5" stroke="#000" stroke-opacity="0.6" stroke-width="0.8"/><path d="M1025.0 1125.0l7.6 12.4h-15.2z" fill="#E41A1C" fill-opacity="0.5" stroke="#000" stroke-opacity="0.6" stroke-width="0.8"/><path d="M1068.8 1208.3l7.6 12.4h-15.2z" fill="#E41A1C" fill-opacity="0.5" stroke="#000" stroke-opacity="0.6" stroke-width="0.8"/><path d="M1073.8 1202.5l7.6 12.4h-15.2z" fill="#E41A1C" fill-opacity="0.5" stroke="#000" stroke-opacity="0.6" stroke-width="0.8"/><path d="M1052.5 1196.3l7.6 12.4h-15.2z" fill="#E41A1C" fill-opacity="0.5" stroke="#000" stroke-opacity="0.6" stroke-width="0.8"/><path d="M1066.3 1118.3l7.6 12.4h-15.2z" fill="#E41A1C" fill-opacity="0.5" stroke="#000" stroke-opacity="0.6" stroke-width="0.8"/><path d="M1082.4 1122.8l7.6 12.4h-15.2z" fill="#E41A1C" fill-opacity="0.5" stroke="#000" stroke-opacity="0.6" stroke-width="0.8"/><path d="M1110.8 1193.5l7.6 12.4h-15.2z" fill="#E41A1C" fill-opacity="0.5" stroke="#000" stroke-opacity="0.6" stroke-width="0.8"/><path d="M1095.8 1163.9l7.6 12.4h-15.2z" fill="#E41A1C" fill-opacity="0.5" stroke="#000" stroke-opacity="0.6" stroke-width="0.8"/><path d="M1115.2 1198.9l7.6 12.4h-15.2z" fill="#E41A1C" fill-opacity="0.5" stroke="#000" stroke-opacity="0.6" stroke-width="0.8"/><path d="M1084.1 1130.7l7.6 12.4h-15.2z" fill="#E41A1C" fill-opacity="0.5" stroke="#000" stroke-opacity="0.6" stroke-width="0.8"/><path d="M1036.3 1121.4l7.6 12.4h-15.2z" fill="#E41A1C" fill-opacity="0.5" stroke="#000" stroke-opacity="0.6" stroke-width="0.8"/><path d="M1065.2 1151.7l7.6 12.4h-15.2z" fill="#E41A1C" fill-opacity="0.5" stroke="#000" stroke-opacity="0.6" stroke-width="0.8"/><path d="M1095.9 1190.5l7.6 12.4h-15.2z" fill="#E41A1C" fill-opacity="0.5" stroke="#000" stroke-opacity="0.6" stroke-width="0.8"/><path d="M1059.4 1019.3l7.6 12.4h-15.2z" fill="#E41A1C" fill-opacity="0.5" stroke="#000" stroke-opacity="0.6" stroke-width="0.8"/><path d="M1042.7 1046.2l7.6 12.4h-15.2z" fill="#E41A1C" fill-opacity="0.5" stroke="#000" stroke-opacity="0.6" stroke-width="0.8"/><path d="M1043.7 1126.4l7.6 12.4h-15.2z" fill="#E41A1C" fill-opacity="0.5" stroke="#000" stroke-opacity="0.6" stroke-width="0.8"/><path d="M1122.8 1176.5l7.6 12.4h-15.2z" fill="#E41A1C" fill-opacity="0.5" stroke="#000" stroke-opacity="0.6" stroke-width="0.8"/><path d="M1023.5 1083.2l7.6 12.4h-15.2z" fill="#E41A1C" fill-opacity="0.5" stroke="#000" stroke-opacity="0.6" stroke-width="0.8"/><path d="M1088.2 1186.7l7.6 12.4h-15.2z" fill="#E41A1C" fill-opacity="0.5" stroke="#000" stroke-opacity="0.6" stroke-width="0.8"/><path d="M1055.3 1026.3l7.6 12.4h-15.2z" fill="#E41A1C" fill-opacity="0.5" stroke="#000" stroke-opacity="0.6" stroke-width="0.8"/><path d="M1051.8 1072.5l7.6 12.4h-15.2z" fill="#E41A1C" fill-opacity="0.5" stroke="#000" stroke-opacity="0.6" stroke-width="0.8"/><path d="M1033.3 1081.3l7.6 12.4h-15.2z" fill="#E41A1C" fill-opacity="0.5" stroke="#000" stroke-opacity="0.6" stroke-width="0.8"/><path d="M1082.9 1192.9l7.6 12.4h-15.2z" fill="#E41A1C" fill-opacity="0.5" stroke="#000" stroke-opacity="0.6" stroke-width="0.8"/><path d="M1112.1 1177.6l7.6 12.4h-15.2z" fill="#E41A1C" fill-opacity="0.5" stroke="#000" stroke-opacity="0.6" stroke-width="0.8"/><path d="M1076.5 1132.4l7.6 12.4h-15.2z" fill="#E41A1C" fill-opacity="0.5" stroke="#000" stroke-opacity="0.6" stroke-width="0.8"/><path d="M1071.0 1115.6l7.6 12.4h-15.2z" fill="#E41A1C" fill-opacity="0.5" stroke="#000" stroke-opacity="0.6" stroke-width="0.8"/><path d="M1053.6 1147.6l7.6 12.4h-15.2z" fill="#E41A1C" fill-opacity="0.5" stroke="#000" stroke-opacity="0.6" stroke-width="0.8"/><path d="M1111.0 1198.1l7.6 12.4h-15.2z" fill="#E41A1C" fill-opacity="0.5" stroke="#000" stroke-opacity="0.6" stroke-width="0.8"/><path d="M1064.9 1185.4l7.6 12.4h-15.2z" fill="#E41A1C" fill-opacity="0.5" stroke="#000" stroke-opacity="0.6" stroke-width="0.8"/><path d="M1087.0 1162.1l7.6 12.4h-15.2z" fill="#E41A1C" fill-opacity="0.5" stroke="#000" stroke-opacity="0.6" stroke-width="0.8"/><path d="M1038.0 1097.3l7.6 12.4h-15.2z" fill="#E41A1C" fill-opacity="0.5" stroke="#000" stroke-opacity="0.6" stroke-width="0.8"/><path d="M1038.7 1122.9l7.6 12.4h-15.2z" fill="#E41A1C" fill-opacity="0.5" stroke="#000" stroke-opacity="0.6" stroke-width="0.8"/><path d="M1107.0 1171.4l7.6 12.4h-15.2z" fill="#E41A1C" fill-opacity="0.5" stroke="#000" stroke-opacity="0.6" stroke-width="0.8"/><path d="M1054.2 1099.1l7.6 12.4h-15.2z" fill="#E41A1C" fill-opacity="0.5" stroke="#000" stroke-opacity="0.6" stroke-width="0.8"/><path d="M1040.9 1152.8l7.6 12.4h-15.2z" fill="#E41A1C" fill-opacity="0.5" stroke="#000" stroke-opacity="0.6" stroke-width="0.8"/><path d="M1056.4 1042.2l7.6 12.4h-15.2z" fill="#E41A1C" fill-opacity="0.5" stroke="#000" stroke-opacity="0.6" stroke-width="0.8"/><path d="M1061.8 1071.1l7.6 12.4h-15.2z" fill="#E41A1C" fill-opacity="0.5" stroke="#000" stroke-opacity="0.6" stroke-width="0.8"/><path d="M1058.3 1092.0l7.6 12.4h-15.2z" fill="#E41A1C" fill-opacity="0.5" stroke="#000" stroke-opacity="0.6" stroke-width="0.8"/><path d="M1047.3 1066.2l7.6 12.4h-15.2z" fill="#E41A1C" fill-opacity="0.5" stroke="#000" stroke-opacity="0.6" stroke-width="0.8"/><path d="M1054.5 1177.7l7.6 12.4h-15.2z" fill="#E41A1C" fill-opacity="0.5" stroke="#000" stroke-opacity="0.6" stroke-width="0.8"/><path d="M1071.5 1160.3l7.6 12.4h-15.2z" fill="#E41A1C" fill-opacity="0.5" stroke="#000" stroke-opacity="0.6" stroke-width="0.8"/><path d="M1068.5 1098.6l7.6 12.4h-15.2z" fill="#E41A1C" fill-opacity="0.5" stroke="#000" stroke-opacity="0.6" stroke-width="0.8"/><path d="M1064.0 1106.7l7.6 12.4h-15.2z" fill="#E41A1C" fill-opacity="0.5" stroke="#000" stroke-opacity="0.6" stroke-width="0.8"/><path d="M1048.3 1096.1l7.6 12.4h-15.2z" fill="#E41A1C" fill-opacity="0.5" stroke="#000" stroke-opacity="0.6" stroke-width="0.8"/><path d="M1027.8 1096.2l7.6 12.4h-15.2z" fill="#E41A1C" fill-opacity="0.5" stroke="#000" stroke-opacity="0.6" stroke-width="0.8"/><path d="M1030.5 1078.6l7.6 12.4h-15.2z" fill="#E41A1C" fill-opacity="0.5" stroke="#000" stroke-opacity="0.6" stroke-width="0.8"/><path d="M1030.0 1071.8l7.6 12.4h-15.2z" fill="#E41A1C" fill-opacity="0.5" stroke="#000" stroke-opacity="0.6" stroke-width="0.8"/><path d="M1047.8 1078.4l7.6 12.4h-15.2z" fill="#E41A1C" fill-opacity="0.5" stroke="#000" stroke-opacity="0.6" stroke-width="0.8"/><path d="M1050.9 1097.2l7.6 12.4h-15.2z" fill="#E41A1C" fill-opacity="0.5" stroke="#000" stroke-opacity="0.6" stroke-width="0.8"/><path d="M1063.8 1118.9l7.6 12.4h-15.2z" fill="#E41A1C" fill-opacity="0.5" stroke="#000" stroke-opacity="0.6" stroke-width="0.8"/><path d="M1057.6 1118.4l7.6 12.4h-15.2z" fill="#E41A1C" fill-opacity="0.5" stroke="#000" stroke-opacity="0.6" stroke-width="0.8"/><path d="M1056.8 1140.5l7.6 12.4h-15.2z" fill="#E41A1C" fill-opacity="0.5" stroke="#000" stroke-opacity="0.6" stroke-width="0.8"/><path d="M1036.1 1091.5l7.6 12.4h-15.2z" fill="#E41A1C" fill-opacity="0.5" stroke="#000" stroke-opacity="0.6" stroke-width="0.8"/><path d="M1032.3 1127.4l7.6 12.4h-15.2z" fill="#E41A1C" fill-opacity="0.5" stroke="#000" stroke-opacity="0.6" stroke-width="0.8"/><path d="M1027.4 1075.5l7.6 12.4h-15.2z" fill="#E41A1C" fill-opacity="0.5" stroke="#000" stroke-opacity="0.6" stroke-width="0.8"/><path d="M1063.3 1090.6l7.6 12.4h-15.2z" fill="#E41A1C" fill-opacity="0.5" stroke="#000" stroke-opacity="0.6" stroke-width="0.8"/><path d="M1023.3 1112.4l7.6 12.4h-15.2z" fill="#E41A1C" fill-opacity="0.5" stroke="#000" stroke-opacity="0.6" stroke-width="0.8"/><path d="M1031.2 1098.5l7.6 12.4h-15.2z" fill="#E41A1C" fill-opacity="0.5" stroke="#000" stroke-opacity="0.6" stroke-width="0.8"/><path d="M1037.5 1131.2l7.6 12.4h-15.2z" fill="#E41A1C" fill-opacity="0.5" stroke="#000" stroke-opacity="0.6" stroke-width="0.8"/><path d="M1045.2 1139.5l7.6 12.4h-15.2z" fill="#E41A1C" fill-opacity="0.5" stroke="#000" stroke-opacity="0.6" stroke-width="0.8"/><path d="M1053.8 1110.9l7.6 12.4h-15.2z" fill="#E41A1C" fill-opacity="0.5" stroke="#000" stroke-opacity="0.6" stroke-width="0.8"/><path d="M1052.0 1119.0l7.6 12.4h-15.2z" fill="#E41A1C" fill-opacity="0.5" stroke="#000" stroke-opacity="0.6" stroke-width="0.8"/><path d="M1064.1 1088.6l7.6 12.4h-15.2z" fill="#E41A1C" fill-opacity="0.5" stroke="#000" stroke-opacity="0.6" stroke-width="0.8"/><path d="M1050.4 1107.9l7.6 12.4h-15.2z" fill="#E41A1C" fill-opacity="0.5" stroke="#000" stroke-opacity="0.6" stroke-width="0.8"/><path d="M1036.5 1142.0l7.6 12.4h-15.2z" fill="#E41A1C" fill-opacity="0.5" stroke="#000" stroke-opacity="0.6" stroke-width="0.8"/><path d="M1041.7 1074.0l7.6 12.4h-15.2z" fill="#E41A1C" fill-opacity="0.5" stroke="#000" stroke-opacity="0.6" stroke-width="0.8"/><path d="M1043.0 1070.5l7.6 12.4h-15.2z" fill="#E41A1C" fill-opacity="0.5" stroke="#000" stroke-opacity="0.6" stroke-width="0.8"/><path d="M1041.4 1141.4l7.6 12.4h-15.2z" fill="#E41A1C" fill-opacity="0.5" stroke="#000" stroke-opacity="0.6" stroke-width="0.8"/><path d="M1054.4 1110.1l7.6 12.4h-15.2z" fill="#E41A1C" fill-opacity="0.5" stroke="#000" stroke-opacity="0.6" stroke-width="0.8"/><path d="M1028.8 1117.0l7.6 12.4h-15.2z" fill="#E41A1C" fill-opacity="0.5" stroke="#000" stroke-opacity="0.6" stroke-width="0.8"/><path d="M1055.0 1075.2l7.6 12.4h-15.2z" fill="#E41A1C" fill-opacity="0.5" stroke="#000" stroke-opacity="0.6" stroke-width="0.8"/><path d="M1025.1 1095.8l7.6 12.4h-15.2z" fill="#E41A1C" fill-opacity="0.5" stroke="#000" stroke-opacity="0.6" stroke-width="0.8"/><path d="M1041.9 1094.8l7.6 12.4h-15.2z" fill="#E41A1C" fill-opacity="0.5" stroke="#000" stroke-opacity="0.6" stroke-width="0.8"/><path d="M1046.5 1090.7l7.6 12.4h-15.2z" fill="#E41A1C" fill-opacity="0.5" stroke="#000" stroke-opacity="0.6" stroke-width="0.8"/><path d="M1053.1 1109.1l7.6 12.4h-15.2z" fill="#E41A1C" fill-opacity="0.5" stroke="#000" stroke-opacity="0.6" stroke-width="0.8"/><path d="M1047.4 1105.4l7.6 12.4h-15.2z" fill="#E41A1C" fill-opacity="0.5" stroke="#000" stroke-opacity="0.6" stroke-width="0.8"/><path d="M1037.6 1141.6l7.6 12.4h-15.2z" fill="#E41A1C" fill-opacity="0.5" stroke="#000" stroke-opacity="0.6" stroke-width="0.8"/><path d="M1071.0 1170.9l7.6 12.4h-15.2z" fill="#E41A1C" fill-opacity="0.5" stroke="#000" stroke-opacity="0.6" stroke-width="0.8"/><path d="M1118.1 1195.9l7.6 12.4h-15.2z" fill="#E41A1C" fill-opacity="0.5" stroke="#000" stroke-opacity="0.6" stroke-width="0.8"/><path d="M1049.0 1151.2l7.6 12.4h-15.2z" fill="#E41A1C" fill-opacity="0.5" stroke="#000" stroke-opacity="0.6" stroke-width="0.8"/><path d="M1085.9 1188.3l7.6 12.4h-15.2z" fill="#E41A1C" fill-opacity="0.5" stroke="#000" stroke-opacity="0.6" stroke-width="0.8"/><path d="M1086.8 1181.0l7.6 12.4h-15.2z" fill="#E41A1C" fill-opacity="0.5" stroke="#000" stroke-opacity="0.6" stroke-width="0.8"/><path d="M1060.8 1156.8l7.6 12.4h-15.2z" fill="#E41A1C" fill-opacity="0.5" stroke="#000" stroke-opacity="0.6" stroke-width="0.8"/><path d="M1053.7 1168.3l7.6 12.4h-15.2z" fill="#E41A1C" fill-opacity="0.5" stroke="#000" stroke-opacity="0.6" stroke-width="0.8"/><path d="M1093.6 1187.1l7.6 12.4h-15.2z" fill="#E41A1C" fill-opacity="0.5" stroke="#000" stroke-opacity="0.6" stroke-width="0.8"/><path d="M1067.8 1158.6l7.6 12.4h-15.2z" fill="#E41A1C" fill-opacity="0.5" stroke="#000" stroke-opacity="0.6" stroke-width="0.8"/><path d="M1127.6 1192.4l7.6 12.4h-15.2z" fill="#E41A1C" fill-opacity="0.5" stroke="#000" stroke-opacity="0.6" stroke-width="0.8"/><path d="M1094.7 1184.9l7.6 12.4h-15.2z" fill="#E41A1C" fill-opacity="0.5" stroke="#000" stroke-opacity="0.6" stroke-width="0.8"/><path d="M1102.9 1182.0l7.6 12.4h-15.2z" fill="#E41A1C" fill-opacity="0.5" stroke="#000" stroke-opacity="0.6" stroke-width="0.8"/><path d="M1061.5 1160.9l7.6 12.4h-15.2z" fill="#E41A1C" fill-opacity="0.5" stroke="#000" stroke-opacity="0.6" stroke-width="0.8"/><path d="M1104.7 1173.4l7.6 12.4h-15.2z" fill="#E41A1C" fill-opacity="0.5" stroke="#000" stroke-opacity="0.6" stroke-width="0.8"/><path d="M1082.6 1174.7l7.6 12.4h-15.2z" fill="#E41A1C" fill-opacity="0.5" stroke="#000" stroke-opacity="0.6" stroke-width="0.8"/><path d="M1126.3 1190.3l7.6 12.4h-15.2z" fill="#E41A1C" fill-opacity="0.5" stroke="#000" stroke-opacity="0.6" stroke-width="0.8"/><path d="M1100.6 1192.2l7.6 12.4h-15.2z" fill="#E41A1C" fill-opacity="0.5" stroke="#000" stroke-opacity="0.6" stroke-width="0.8"/><path d="M1072.5 1153.1l7.6 12.4h-15.2z" fill="#E41A1C" fill-opacity="0.5" stroke="#000" stroke-opacity="0.6" stroke-width="0.8"/><path d="M1074.7 1159.7l7.6 12.4h-15.2z" fill="#E41A1C" fill-opacity="0.5" stroke="#000" stroke-opacity="0.6" stroke-width="0.8"/><path d="M1102.2 1174.4l7.6 12.4h-15.2z" fill="#E41A1C" fill-opacity="0.5" stroke="#000" stroke-opacity="0.6" stroke-width="0.8"/><path d="M1101.6 1178.2l7.6 12.4h-15.2z" fill="#E41A1C" fill-opacity="0.5" stroke="#000" stroke-opacity="0.6" stroke-width="0.8"/><path d="M1058.2 1174.0l7.6 12.4h-15.2z" fill="#E41A1C" fill-opacity="0.5" stroke="#000" stroke-opacity="0.6" stroke-width="0.8"/><path d="M1080.5 1168.4l7.6 12.4h-15.2z" fill="#E41A1C" fill-opacity="0.5" stroke="#000" stroke-opacity="0.6" stroke-width="0.8"/><path d="M1068.1 1154.5l7.6 12.4h-15.2z" fill="#E41A1C" fill-opacity="0.5" stroke="#000" stroke-opacity="0.6" stroke-width="0.8"/><path d="M1121.7 1185.5l7.6 12.4h-15.2z" fill="#E41A1C" fill-opacity="0.5" stroke="#000" stroke-opacity="0.6" stroke-width="0.8"/><path d="M1115.1 1179.5l7.6 12.4h-15.2z" fill="#E41A1C" fill-opacity="0.5" stroke="#000" stroke-opacity="0.6" stroke-width="0.8"/><path d="M1070.1 1164.7l7.6 12.4h-15.2z" fill="#E41A1C" fill-opacity="0.5" stroke="#000" stroke-opacity="0.6" stroke-width="0.8"/><path d="M1093.9 1171.2l7.6 12.4h-15.2z" fill="#E41A1C" fill-opacity="0.5" stroke="#000" stroke-opacity="0.6" stroke-width="0.8"/><path d="M1101.7 1171.5l7.6 12.4h-15.2z" fill="#E41A1C" fill-opacity="0.5" stroke="#000" stroke-opacity="0.6" stroke-width="0.8"/><path d="M1099.4 1187.9l7.6 12.4h-15.2z" fill="#E41A1C" fill-opacity="0.5" stroke="#000" stroke-opacity="0.6" stroke-width="0.8"/><path d="M1067.4 1037.8l7.6 12.4h-15.2z" fill="#E41A1C" fill-opacity="0.5" stroke="#000" stroke-opacity="0.6" stroke-width="0.8"/><path d="M1058.4 1022.3l7.6 12.4h-15.2z" fill="#E41A1C" fill-opacity="0.5" stroke="#000" stroke-opacity="0.6" stroke-width="0.8"/><path d="M1051.0 1024.5l7.6 12.4h-15.2z" fill="#E41A1C" fill-opacity="0.5" stroke="#000" stroke-opacity="0.6" stroke-width="0.8"/><path d="M1060.9 1038.5l7.6 12.4h-15.2z" fill="#E41A1C" fill-opacity="0.5" stroke="#000" stroke-opacity="0.6" stroke-width="0.8"/><path d="M1048.2 1043.4l7.6 12.4h-15.2z" fill="#E41A1C" fill-opacity="0.5" stroke="#000" stroke-opacity="0.6" stroke-width="0.8"/><path d="M1053.8 1047.4l7.6 12.4h-15.2z" fill="#E41A1C" fill-opacity="0.5" stroke="#000" stroke-opacity="0.6" stroke-width="0.8"/><path d="M1054.7 1022.9l7.6 12.4h-15.2z" fill="#E41A1C" fill-opacity="0.5" stroke="#000" stroke-opacity="0.6" stroke-width="0.8"/><path d="M1062.7 1041.4l7.6 12.4h-15.2z" fill="#E41A1C" fill-opacity="0.5" stroke="#000" stroke-opacity="0.6" stroke-width="0.8"/><path d="M1061.8 1037.6l7.6 12.4h-15.2z" fill="#E41A1C" fill-opacity="0.5" stroke="#000" stroke-opacity="0.6" stroke-width="0.8"/><path d="M1047.0 1047.0l7.6 12.4h-15.2z" fill="#E41A1C" fill-opacity="0.5" stroke="#000" stroke-opacity="0.6" stroke-width="0.8"/><path d="M1064.8 1052.8l7.6 12.4h-15.2z" fill="#E41A1C" fill-opacity="0.5" stroke="#000" stroke-opacity="0.6" stroke-width="0.8"/><path d="M1054.1 1038.5l7.6 12.4h-15.2z" fill="#E41A1C" fill-opacity="0.5" stroke="#000" stroke-opacity="0.6" stroke-width="0.8"/></g>
<line x1="1004.0" y1="1262.5" x2="1436.6" y2="1262.5" stroke="#000" stroke-width="1.1"/>
<line x1="1030.4" y1="1262.5" x2="1030.4" y2="1254.0" stroke="#000" stroke-width="1.1"/>
<text x="1030.4" y="1284.7" font-size="23" text-anchor="middle" fill="#4D4D4D">−0.2</text>
<line x1="1113.7" y1="1262.5" x2="1113.7" y2="1254.0" stroke="#000" stroke-width="1.1"/>
<text x="1113.7" y="1284.7" font-size="23" text-anchor="middle" fill="#4D4D4D">0.0</text>
<line x1="1197.0" y1="1262.5" x2="1197.0" y2="1254.0" stroke="#000" stroke-width="1.1"/>
<text x="1197.0" y="1284.7" font-size="23" text-anchor="middle" fill="#4D4D4D">0.2</text>
<line x1="1280.3" y1="1262.5" x2="1280.3" y2="1254.0" stroke="#000" stroke-width="1.1"/>
<text x="1280.3" y="1284.7" font-size="23" text-anchor="middle" fill="#4D4D4D">0.4</text>
<line x1="1363.7" y1="1262.5" x2="1363.7" y2="1254.0" stroke="#000" stroke-width="1.1"/>
<text x="1363.7" y="1284.7" font-size="23" text-anchor="middle" fill="#4D4D4D">0.6</text>
<line x1="119.9" y1="984.8" x2="119.9" y2="1262.5" stroke="#000" stroke-width="1.1"/>
<line x1="119.9" y1="1009.5" x2="128.4" y2="1009.5" stroke="#000" stroke-width="1.1"/>
<text x="112.8" y="1017.7" font-size="23" text-anchor="end" fill="#4D4D4D">0.3</text>
<line x1="119.9" y1="1046.3" x2="128.4" y2="1046.3" stroke="#000" stroke-width="1.1"/>
<text x="112.8" y="1054.5" font-size="23" text-anchor="end" fill="#4D4D4D">0.2</text>
<line x1="119.9" y1="1083.1" x2="128.4" y2="1083.1" stroke="#000" stroke-width="1.1"/>
<text x="112.8" y="1091.3" font-size="23" text-anchor="end" fill="#4D4D4D">0.1</text>
<line x1="119.9" y1="1119.9" x2="128.4" y2="1119.9" stroke="#000" stroke-width="1.1"/>
<text x="112.8" y="1128.1" font-size="23" text-anchor="end" fill="#4D4D4D">0.0</text>
<line x1="119.9" y1="1156.7" x2="128.4" y2="1156.7" stroke="#000" stroke-width="1.1"/>
<text x="112.8" y="1164.9" font-size="23" text-anchor="end" fill="#4D4D4D">−0.1</text>
<line x1="119.9" y1="1193.5" x2="128.4" y2="1193.5" stroke="#000" stroke-width="1.1"/>
<text x="112.8" y="1201.7" font-size="23" text-anchor="end" fill="#4D4D4D">−0.2</text>
<line x1="119.9" y1="1230.3" x2="128.4" y2="1230.3" stroke="#000" stroke-width="1.1"/>
<text x="112.8" y="1238.5" font-size="23" text-anchor="end" fill="#4D4D4D">−0.3</text>
<text x="778.0" y="1317.4" font-size="29.1" text-anchor="middle" fill="#000">PCoA1 (26.2%)</text>
<text transform="translate(55.3 1123.7) rotate(-90)" font-size="29.1" text-anchor="middle" fill="#000">PCoA2 (11.8%)</text>
<text x="1756.8" y="935.9" font-size="26" text-anchor="middle" fill="#000">Kruskal–Wallis FDR p = 7.29e−05</text>
<line x1="1657.4" y1="1096.9" x2="1657.4" y2="1242.6" stroke="#333" stroke-width="1.6"/>
<rect x="1582.5" y="1164.2" width="149.5" height="44.8" fill="#E8474A" stroke="#333" stroke-width="1.6"/>
<line x1="1582.5" y1="1194.9" x2="1732.0" y2="1194.9" stroke="#333" stroke-width="3.2"/>
<line x1="1856.9" y1="1130.5" x2="1856.9" y2="1249.0" stroke="#333" stroke-width="1.6"/>
<rect x="1782.0" y="1186.0" width="149.8" height="37.4" fill="#5E97C7" stroke="#333" stroke-width="1.6"/>
<line x1="1782.0" y1="1206.1" x2="1931.8" y2="1206.1" stroke="#333" stroke-width="3.2"/>
<g fill="#000" fill-opacity="0.6" stroke="#000" stroke-opacity="0.5" stroke-width="0.9"><circle cx="1638.9" cy="995.9" r="3.55"/><circle cx="1638.6" cy="1001.8" r="3.55"/><circle cx="1642.1" cy="1000.4" r="3.55"/><circle cx="1649.5" cy="1001.8" r="3.55"/><circle cx="1657.5" cy="999.7" r="3.55"/><circle cx="1657.2" cy="1001.5" r="3.55"/><circle cx="1671.5" cy="1002.7" r="3.55"/><circle cx="1677.5" cy="1000.8" r="3.55"/><circle cx="1636.5" cy="1013.6" r="3.55"/><circle cx="1650.5" cy="1011.5" r="3.55"/><circle cx="1656.5" cy="1017.5" r="3.55"/><circle cx="1652.9" cy="1022.0" r="3.55"/><circle cx="1678.9" cy="1014.7" r="3.55"/><circle cx="1645.3" cy="1028.7" r="3.55"/><circle cx="1632.3" cy="1037.0" r="3.55"/><circle cx="1633.0" cy="1040.2" r="3.55"/><circle cx="1654.4" cy="1036.4" r="3.55"/><circle cx="1627.9" cy="1056.2" r="3.55"/><circle cx="1653.3" cy="1051.8" r="3.55"/><circle cx="1657.5" cy="1053.4" r="3.55"/><circle cx="1662.4" cy="1051.3" r="3.55"/><circle cx="1654.7" cy="1058.3" r="3.55"/><circle cx="1663.1" cy="1059.0" r="3.55"/><circle cx="1659.6" cy="1063.6" r="3.55"/><circle cx="1670.1" cy="1056.2" r="3.55"/><circle cx="1679.4" cy="1053.0" r="3.55"/><circle cx="1682.3" cy="1050.6" r="3.55"/><circle cx="1685.0" cy="1059.7" r="3.55"/><circle cx="1639.3" cy="1061.5" r="3.55"/><circle cx="1648.8" cy="1065.6" r="3.55"/><circle cx="1640.7" cy="1071.6" r="3.55"/><circle cx="1632.3" cy="1081.4" r="3.55"/><circle cx="1633.7" cy="1080.0" r="3.55"/><circle cx="1644.6" cy="1080.3" r="3.55"/><circle cx="1678.7" cy="1075.1" r="3.55"/><circle cx="1668.7" cy="1087.0" r="3.55"/><circle cx="1674.2" cy="1084.4" r="3.55"/><circle cx="1677.7" cy="1089.5" r="3.55"/><circle cx="1682.9" cy="1091.4" r="3.55"/><circle cx="1675.6" cy="1097.4" r="3.55"/><circle cx="1632.6" cy="1097.0" r="3.55"/><circle cx="1641.8" cy="1094.9" r="3.55"/><circle cx="1661.0" cy="1098.1" r="3.55"/><circle cx="1682.3" cy="1105.4" r="3.55"/><circle cx="1661.7" cy="1109.0" r="3.55"/><circle cx="1664.7" cy="1116.0" r="3.55"/><circle cx="1634.0" cy="1116.3" r="3.55"/><circle cx="1631.6" cy="1122.6" r="3.55"/><circle cx="1680.5" cy="1121.2" r="3.55"/><circle cx="1686.1" cy="1119.5" r="3.55"/><circle cx="1684.7" cy="1126.1" r="3.55"/><circle cx="1670.1" cy="1127.5" r="3.55"/><circle cx="1669.8" cy="1129.3" r="3.55"/><circle cx="1629.6" cy="1132.6" r="3.55"/><circle cx="1636.5" cy="1138.6" r="3.55"/><circle cx="1647.7" cy="1138.6" r="3.55"/><circle cx="1648.4" cy="1140.7" r="3.55"/><circle cx="1680.9" cy="1134.2" r="3.55"/><circle cx="1682.3" cy="1139.1" r="3.55"/><circle cx="1639.3" cy="1148.0" r="3.55"/><circle cx="1646.6" cy="1147.3" r="3.55"/><circle cx="1661.4" cy="1147.0" r="3.55"/><circle cx="1669.4" cy="1147.4" r="3.55"/><circle cx="1677.7" cy="1147.7" r="3.55"/><circle cx="1686.1" cy="1147.7" r="3.55"/><circle cx="1686.1" cy="1152.6" r="3.55"/><circle cx="1685.4" cy="1157.5" r="3.55"/><circle cx="1643.5" cy="1155.4" r="3.55"/><circle cx="1651.9" cy="1155.4" r="3.55"/><circle cx="1653.3" cy="1154.0" r="3.55"/><circle cx="1661.0" cy="1155.4" r="3.55"/><circle cx="1672.2" cy="1154.4" r="3.55"/><circle cx="1637.2" cy="1159.6" r="3.55"/><circle cx="1656.9" cy="1175.8" r="3.55"/><circle cx="1660.2" cy="1174.0" r="3.55"/><circle cx="1677.6" cy="1168.1" r="3.55"/><circle cx="1653.4" cy="1183.8" r="3.55"/><circle cx="1663.2" cy="1187.6" r="3.55"/><circle cx="1643.2" cy="1173.3" r="3.55"/><circle cx="1644.2" cy="1167.4" r="3.55"/><circle cx="1629.7" cy="1177.4" r="3.55"/><circle cx="1643.8" cy="1179.1" r="3.55"/><circle cx="1685.5" cy="1189.9" r="3.55"/><circle cx="1674.1" cy="1172.6" r="3.55"/><circle cx="1649.2" cy="1187.4" r="3.55"/><circle cx="1639.7" cy="1185.4" r="3.55"/><circle cx="1640.5" cy="1175.6" r="3.55"/><circle cx="1660.1" cy="1189.0" r="3.55"/><circle cx="1671.1" cy="1185.8" r="3.55"/><circle cx="1647.0" cy="1173.1" r="3.55"/><circle cx="1679.8" cy="1179.2" r="3.55"/><circle cx="1670.3" cy="1166.6" r="3.55"/><circle cx="1628.9" cy="1175.1" r="3.55"/><circle cx="1644.3" cy="1170.9" r="3.55"/><circle cx="1676.4" cy="1187.9" r="3.55"/><circle cx="1639.1" cy="1166.6" r="3.55"/><circle cx="1636.9" cy="1168.8" r="3.55"/><circle cx="1670.6" cy="1173.9" r="3.55"/><circle cx="1686.7" cy="1164.5" r="3.55"/><circle cx="1658.7" cy="1167.5" r="3.55"/><circle cx="1678.5" cy="1173.9" r="3.55"/><circle cx="1640.2" cy="1179.2" r="3.55"/><circle cx="1680.0" cy="1164.4" r="3.55"/><circle cx="1639.5" cy="1187.5" r="3.55"/><circle cx="1651.5" cy="1166.5" r="3.55"/><circle cx="1683.7" cy="1188.6" r="3.55"/><circle cx="1651.9" cy="1169.1" r="3.55"/><circle cx="1626.7" cy="1183.3" r="3.55"/><circle cx="1673.6" cy="1183.2" r="3.55"/><circle cx="1668.5" cy="1173.2" r="3.55"/><circle cx="1643.1" cy="1178.9" r="3.55"/><circle cx="1675.0" cy="1176.2" r="3.55"/><circle cx="1657.5" cy="1174.1" r="3.55"/><circle cx="1676.8" cy="1188.9" r="3.55"/><circle cx="1642.3" cy="1189.0" r="3.55"/><circle cx="1676.2" cy="1174.5" r="3.55"/><circle cx="1641.0" cy="1181.8" r="3.55"/><circle cx="1659.2" cy="1179.4" r="3.55"/><circle cx="1687.6" cy="1189.5" r="3.55"/><circle cx="1669.3" cy="1177.5" r="3.55"/><circle cx="1635.5" cy="1166.0" r="3.55"/><circle cx="1676.7" cy="1170.6" r="3.55"/><circle cx="1667.9" cy="1171.9" r="3.55"/><circle cx="1638.5" cy="1181.8" r="3.55"/><circle cx="1635.8" cy="1165.8" r="3.55"/><circle cx="1687.7" cy="1174.4" r="3.55"/><circle cx="1647.7" cy="1184.5" r="3.55"/><circle cx="1638.3" cy="1184.6" r="3.55"/><circle cx="1634.1" cy="1209.6" r="3.55"/><circle cx="1656.8" cy="1230.6" r="3.55"/><circle cx="1676.2" cy="1222.8" r="3.55"/><circle cx="1667.8" cy="1194.9" r="3.55"/><circle cx="1682.5" cy="1207.1" r="3.55"/><circle cx="1661.7" cy="1192.4" r="3.55"/><circle cx="1644.4" cy="1225.0" r="3.55"/><circle cx="1632.8" cy="1191.8" r="3.55"/><circle cx="1645.5" cy="1203.4" r="3.55"/><circle cx="1655.9" cy="1209.3" r="3.55"/><circle cx="1636.4" cy="1188.1" r="3.55"/><circle cx="1647.5" cy="1201.3" r="3.55"/><circle cx="1658.9" cy="1212.7" r="3.55"/><circle cx="1670.1" cy="1207.4" r="3.55"/><circle cx="1649.2" cy="1216.4" r="3.55"/><circle cx="1682.1" cy="1217.1" r="3.55"/><circle cx="1626.7" cy="1201.2" r="3.55"/><circle cx="1685.7" cy="1230.4" r="3.55"/><circle cx="1643.8" cy="1197.4" r="3.55"/><circle cx="1625.3" cy="1193.4" r="3.55"/><circle cx="1629.5" cy="1231.2" r="3.55"/><circle cx="1684.6" cy="1202.8" r="3.55"/><circle cx="1626.7" cy="1228.3" r="3.55"/><circle cx="1664.1" cy="1227.8" r="3.55"/><circle cx="1644.0" cy="1225.9" r="3.55"/><circle cx="1675.7" cy="1217.6" r="3.55"/><circle cx="1667.2" cy="1218.9" r="3.55"/><circle cx="1654.0" cy="1230.0" r="3.55"/><circle cx="1631.3" cy="1205.9" r="3.55"/><circle cx="1648.3" cy="1209.3" r="3.55"/><circle cx="1677.9" cy="1191.3" r="3.55"/><circle cx="1651.1" cy="1207.6" r="3.55"/><circle cx="1648.8" cy="1214.9" r="3.55"/><circle cx="1669.0" cy="1215.6" r="3.55"/><circle cx="1656.8" cy="1204.1" r="3.55"/><circle cx="1687.3" cy="1223.9" r="3.55"/><circle cx="1666.9" cy="1191.7" r="3.55"/><circle cx="1649.5" cy="1218.5" r="3.55"/><circle cx="1636.9" cy="1206.8" r="3.55"/><circle cx="1652.4" cy="1194.1" r="3.55"/><circle cx="1678.0" cy="1227.1" r="3.55"/><circle cx="1642.6" cy="1195.1" r="3.55"/><circle cx="1641.2" cy="1219.5" r="3.55"/><circle cx="1638.8" cy="1220.5" r="3.55"/><circle cx="1682.4" cy="1192.0" r="3.55"/><circle cx="1668.7" cy="1218.7" r="3.55"/><circle cx="1664.1" cy="1216.8" r="3.55"/><circle cx="1643.2" cy="1194.2" r="3.55"/><circle cx="1682.5" cy="1196.1" r="3.55"/><circle cx="1682.6" cy="1223.3" r="3.55"/><circle cx="1649.5" cy="1209.3" r="3.55"/><circle cx="1643.1" cy="1198.1" r="3.55"/><circle cx="1675.9" cy="1191.4" r="3.55"/><circle cx="1638.0" cy="1230.8" r="3.55"/><circle cx="1647.4" cy="1213.9" r="3.55"/><circle cx="1664.0" cy="1218.2" r="3.55"/><circle cx="1678.0" cy="1223.1" r="3.55"/><circle cx="1643.1" cy="1203.0" r="3.55"/><circle cx="1687.5" cy="1228.0" r="3.55"/><circle cx="1652.1" cy="1200.6" r="3.55"/><circle cx="1649.8" cy="1224.2" r="3.55"/><circle cx="1639.3" cy="1189.8" r="3.55"/><circle cx="1631.9" cy="1197.2" r="3.55"/><circle cx="1680.8" cy="1194.6" r="3.55"/><circle cx="1633.6" cy="1220.4" r="3.55"/><circle cx="1681.0" cy="1230.9" r="3.55"/><circle cx="1681.5" cy="1228.7" r="3.55"/><circle cx="1677.3" cy="1229.8" r="3.55"/><circle cx="1654.6" cy="1226.6" r="3.55"/><circle cx="1629.1" cy="1199.0" r="3.55"/><circle cx="1684.3" cy="1206.8" r="3.55"/><circle cx="1656.7" cy="1218.5" r="3.55"/><circle cx="1649.7" cy="1190.4" r="3.55"/><circle cx="1677.5" cy="1197.3" r="3.55"/><circle cx="1681.5" cy="1212.7" r="3.55"/><circle cx="1658.2" cy="1231.4" r="3.55"/><circle cx="1647.4" cy="1221.7" r="3.55"/><circle cx="1638.6" cy="1223.0" r="3.55"/><circle cx="1643.4" cy="1226.0" r="3.55"/><circle cx="1652.5" cy="1225.9" r="3.55"/><circle cx="1685.1" cy="1196.7" r="3.55"/><circle cx="1646.3" cy="1231.2" r="3.55"/><circle cx="1652.9" cy="1191.6" r="3.55"/><circle cx="1640.5" cy="1206.8" r="3.55"/><circle cx="1650.4" cy="1214.5" r="3.55"/><circle cx="1668.4" cy="1193.2" r="3.55"/><circle cx="1629.0" cy="1197.5" r="3.55"/><circle cx="1685.4" cy="1197.3" r="3.55"/><circle cx="1673.3" cy="1219.6" r="3.55"/><circle cx="1647.4" cy="1228.2" r="3.55"/><circle cx="1677.6" cy="1224.8" r="3.55"/><circle cx="1686.3" cy="1209.9" r="3.55"/><circle cx="1627.5" cy="1228.5" r="3.55"/><circle cx="1626.5" cy="1195.2" r="3.55"/><circle cx="1646.0" cy="1205.1" r="3.55"/><circle cx="1659.9" cy="1190.8" r="3.55"/><circle cx="1639.3" cy="1217.2" r="3.55"/><circle cx="1638.4" cy="1201.4" r="3.55"/><circle cx="1668.9" cy="1212.1" r="3.55"/><circle cx="1678.1" cy="1228.9" r="3.55"/><circle cx="1625.6" cy="1192.5" r="3.55"/><circle cx="1687.9" cy="1206.1" r="3.55"/><circle cx="1657.2" cy="1190.8" r="3.55"/><circle cx="1682.5" cy="1210.3" r="3.55"/><circle cx="1661.1" cy="1221.9" r="3.55"/><circle cx="1672.1" cy="1188.8" r="3.55"/><circle cx="1680.8" cy="1224.2" r="3.55"/><circle cx="1670.4" cy="1226.4" r="3.55"/><circle cx="1685.6" cy="1201.6" r="3.55"/><circle cx="1678.2" cy="1206.6" r="3.55"/><circle cx="1680.5" cy="1216.0" r="3.55"/><circle cx="1667.0" cy="1219.2" r="3.55"/><circle cx="1638.1" cy="1200.7" r="3.55"/><circle cx="1639.5" cy="1195.6" r="3.55"/><circle cx="1645.5" cy="1224.2" r="3.55"/><circle cx="1642.9" cy="1198.5" r="3.55"/><circle cx="1669.4" cy="1216.6" r="3.55"/><circle cx="1645.0" cy="1229.7" r="3.55"/><circle cx="1672.6" cy="1210.8" r="3.55"/><circle cx="1630.6" cy="1210.9" r="3.55"/><circle cx="1636.6" cy="1215.3" r="3.55"/><circle cx="1680.1" cy="1200.7" r="3.55"/><circle cx="1632.0" cy="1212.9" r="3.55"/><circle cx="1674.7" cy="1189.7" r="3.55"/><circle cx="1675.2" cy="1228.1" r="3.55"/><circle cx="1656.8" cy="1236.6" r="3.55"/><circle cx="1634.8" cy="1231.8" r="3.55"/><circle cx="1632.7" cy="1234.5" r="3.55"/><circle cx="1640.2" cy="1231.1" r="3.55"/><circle cx="1674.2" cy="1228.5" r="3.55"/><circle cx="1638.3" cy="1231.0" r="3.55"/><circle cx="1673.8" cy="1232.8" r="3.55"/><circle cx="1663.8" cy="1237.0" r="3.55"/><circle cx="1652.0" cy="1243.0" r="3.55"/><circle cx="1671.4" cy="1230.6" r="3.55"/><circle cx="1628.3" cy="1195.2" r="3.55"/><circle cx="1687.6" cy="1207.4" r="3.55"/><circle cx="1638.2" cy="1214.5" r="3.55"/><circle cx="1660.2" cy="1223.8" r="3.55"/><circle cx="1663.7" cy="1216.3" r="3.55"/><circle cx="1672.9" cy="1205.2" r="3.55"/><circle cx="1655.0" cy="1229.7" r="3.55"/><circle cx="1671.0" cy="1218.5" r="3.55"/><circle cx="1633.8" cy="1231.6" r="3.55"/><circle cx="1628.7" cy="1226.6" r="3.55"/><circle cx="1635.3" cy="1214.5" r="3.55"/><circle cx="1668.6" cy="1215.9" r="3.55"/><circle cx="1626.7" cy="1202.9" r="3.55"/><circle cx="1652.2" cy="1206.4" r="3.55"/><circle cx="1633.0" cy="1199.7" r="3.55"/><circle cx="1671.3" cy="1216.2" r="3.55"/><circle cx="1654.8" cy="1196.1" r="3.55"/><circle cx="1673.3" cy="1233.6" r="3.55"/><circle cx="1671.1" cy="1213.8" r="3.55"/><circle cx="1670.1" cy="1219.5" r="3.55"/><circle cx="1634.4" cy="1216.4" r="3.55"/><circle cx="1664.2" cy="1202.4" r="3.55"/><circle cx="1642.4" cy="1207.4" r="3.55"/><circle cx="1648.8" cy="1207.0" r="3.55"/><circle cx="1685.4" cy="1229.5" r="3.55"/><circle cx="1656.3" cy="1201.7" r="3.55"/><circle cx="1683.1" cy="1228.1" r="3.55"/><circle cx="1627.0" cy="1226.7" r="3.55"/><circle cx="1626.8" cy="1228.2" r="3.55"/><circle cx="1662.9" cy="1231.1" r="3.55"/><circle cx="1665.4" cy="1200.6" r="3.55"/><circle cx="1658.7" cy="1229.7" r="3.55"/><circle cx="1650.2" cy="1219.2" r="3.55"/><circle cx="1648.0" cy="1220.9" r="3.55"/><circle cx="1647.7" cy="1205.6" r="3.55"/><circle cx="1626.3" cy="1230.9" r="3.55"/><circle cx="1663.7" cy="1229.8" r="3.55"/><circle cx="1669.0" cy="1207.0" r="3.55"/><circle cx="1630.4" cy="1233.0" r="3.55"/><circle cx="1844.8" cy="1006.2" r="3.55"/><circle cx="1863.4" cy="999.7" r="3.55"/><circle cx="1875.0" cy="1003.6" r="3.55"/><circle cx="1853.3" cy="1034.2" r="3.55"/><circle cx="1842.5" cy="1040.0" r="3.55"/><circle cx="1869.6" cy="1043.8" r="3.55"/><circle cx="1845.3" cy="1055.7" r="3.55"/><circle cx="1836.8" cy="1097.5" r="3.55"/><circle cx="1860.3" cy="1091.3" r="3.55"/><circle cx="1870.1" cy="1097.5" r="3.55"/><circle cx="1870.4" cy="1103.7" r="3.55"/><circle cx="1832.4" cy="1124.6" r="3.55"/><circle cx="1835.1" cy="1134.4" r="3.55"/><circle cx="1833.5" cy="1142.9" r="3.55"/><circle cx="1842.2" cy="1144.1" r="3.55"/><circle cx="1861.1" cy="1131.6" r="3.55"/><circle cx="1861.9" cy="1139.0" r="3.55"/><circle cx="1858.8" cy="1144.4" r="3.55"/><circle cx="1862.6" cy="1146.8" r="3.55"/><circle cx="1863.1" cy="1149.4" r="3.55"/><circle cx="1875.3" cy="1144.4" r="3.55"/><circle cx="1880.1" cy="1131.0" r="3.55"/><circle cx="1886.6" cy="1132.8" r="3.55"/><circle cx="1847.6" cy="1160.4" r="3.55"/><circle cx="1853.3" cy="1164.3" r="3.55"/><circle cx="1860.3" cy="1157.3" r="3.55"/><circle cx="1880.4" cy="1161.5" r="3.55"/><circle cx="1878.1" cy="1165.0" r="3.55"/><circle cx="1830.1" cy="1171.5" r="3.55"/><circle cx="1843.3" cy="1170.0" r="3.55"/><circle cx="1844.1" cy="1173.1" r="3.55"/><circle cx="1854.6" cy="1170.8" r="3.55"/><circle cx="1829.4" cy="1183.2" r="3.55"/><circle cx="1837.6" cy="1186.5" r="3.55"/><circle cx="1844.8" cy="1192.7" r="3.55"/><circle cx="1861.2" cy="1183.5" r="3.55"/><circle cx="1869.1" cy="1185.5" r="3.55"/><circle cx="1884.6" cy="1186.8" r="3.55"/><circle cx="1883.6" cy="1194.1" r="3.55"/><circle cx="1856.0" cy="1191.1" r="3.55"/><circle cx="1862.6" cy="1188.1" r="3.55"/><circle cx="1871.8" cy="1193.4" r="3.55"/><circle cx="1873.1" cy="1196.0" r="3.55"/><circle cx="1840.2" cy="1198.7" r="3.55"/><circle cx="1846.1" cy="1198.7" r="3.55"/><circle cx="1854.0" cy="1199.3" r="3.55"/><circle cx="1860.6" cy="1200.0" r="3.55"/><circle cx="1829.1" cy="1200.6" r="3.55"/><circle cx="1831.0" cy="1201.9" r="3.55"/><circle cx="1837.6" cy="1205.9" r="3.55"/><circle cx="1844.8" cy="1204.6" r="3.55"/><circle cx="1861.2" cy="1206.5" r="3.55"/><circle cx="1869.1" cy="1204.6" r="3.55"/><circle cx="1874.4" cy="1201.9" r="3.55"/><circle cx="1880.3" cy="1203.3" r="3.55"/><circle cx="1886.2" cy="1204.6" r="3.55"/><circle cx="1852.7" cy="1211.1" r="3.55"/><circle cx="1856.0" cy="1209.2" r="3.55"/><circle cx="1870.4" cy="1213.1" r="3.55"/><circle cx="1879.6" cy="1210.5" r="3.55"/><circle cx="1829.1" cy="1214.4" r="3.55"/><circle cx="1829.7" cy="1217.7" r="3.55"/><circle cx="1838.3" cy="1213.1" r="3.55"/><circle cx="1846.8" cy="1217.0" r="3.55"/><circle cx="1840.9" cy="1219.7" r="3.55"/><circle cx="1863.9" cy="1217.7" r="3.55"/><circle cx="1870.4" cy="1220.3" r="3.55"/><circle cx="1881.0" cy="1217.7" r="3.55"/><circle cx="1886.2" cy="1217.0" r="3.55"/><circle cx="1882.9" cy="1221.0" r="3.55"/><circle cx="1835.0" cy="1228.2" r="3.55"/><circle cx="1840.9" cy="1227.6" r="3.55"/><circle cx="1848.1" cy="1228.9" r="3.55"/><circle cx="1852.7" cy="1225.6" r="3.55"/><circle cx="1859.9" cy="1224.9" r="3.55"/><circle cx="1874.4" cy="1229.5" r="3.55"/><circle cx="1882.3" cy="1226.9" r="3.55"/><circle cx="1827.7" cy="1234.1" r="3.55"/><circle cx="1833.0" cy="1235.4" r="3.55"/><circle cx="1840.2" cy="1232.8" r="3.55"/><circle cx="1850.7" cy="1237.4" r="3.55"/><circle cx="1861.9" cy="1234.8" r="3.55"/><circle cx="1882.9" cy="1236.8" r="3.55"/><circle cx="1829.1" cy="1245.3" r="3.55"/><circle cx="1835.0" cy="1249.9" r="3.55"/><circle cx="1841.5" cy="1247.3" r="3.55"/><circle cx="1848.8" cy="1246.0" r="3.55"/><circle cx="1858.6" cy="1242.7" r="3.55"/><circle cx="1859.9" cy="1246.6" r="3.55"/><circle cx="1836.3" cy="1240.7" r="3.55"/><circle cx="1845.5" cy="1240.0" r="3.55"/><circle cx="1884.2" cy="1188.1" r="3.55"/><circle cx="1883.9" cy="1190.8" r="3.55"/><circle cx="1842.9" cy="1191.4" r="3.55"/><circle cx="1829.1" cy="1202.6" r="3.55"/><circle cx="1839.6" cy="1215.7" r="3.55"/><circle cx="1841.0" cy="1222.7" r="3.55"/><circle cx="1835.9" cy="1235.7" r="3.55"/><circle cx="1840.6" cy="1215.8" r="3.55"/><circle cx="1872.4" cy="1235.9" r="3.55"/><circle cx="1862.0" cy="1225.7" r="3.55"/><circle cx="1859.5" cy="1233.1" r="3.55"/><circle cx="1842.4" cy="1225.8" r="3.55"/><circle cx="1863.1" cy="1216.0" r="3.55"/><circle cx="1853.7" cy="1195.2" r="3.55"/><circle cx="1860.9" cy="1214.4" r="3.55"/><circle cx="1864.1" cy="1215.4" r="3.55"/><circle cx="1880.8" cy="1225.8" r="3.55"/><circle cx="1865.5" cy="1204.9" r="3.55"/><circle cx="1852.9" cy="1237.6" r="3.55"/><circle cx="1849.3" cy="1202.3" r="3.55"/><circle cx="1851.0" cy="1201.5" r="3.55"/><circle cx="1875.6" cy="1225.2" r="3.55"/><circle cx="1842.6" cy="1237.5" r="3.55"/><circle cx="1855.2" cy="1210.0" r="3.55"/><circle cx="1878.7" cy="1202.2" r="3.55"/><circle cx="1844.4" cy="1213.7" r="3.55"/><circle cx="1877.5" cy="1211.3" r="3.55"/><circle cx="1860.6" cy="1202.5" r="3.55"/><circle cx="1843.6" cy="1211.3" r="3.55"/><circle cx="1869.4" cy="1231.7" r="3.55"/></g>
<line x1="1537.3" y1="984.8" x2="1537.3" y2="1262.5" stroke="#000" stroke-width="1.1"/>
<line x1="1536.8" y1="1262.5" x2="1976.3" y2="1262.5" stroke="#000" stroke-width="1.1"/>
<line x1="1537.3" y1="1043.2" x2="1545.8" y2="1043.2" stroke="#000" stroke-width="1.1"/>
<text x="1530.5" y="1051.4" font-size="23" text-anchor="end" fill="#4D4D4D">0.75</text>
<line x1="1537.3" y1="1130.9" x2="1545.8" y2="1130.9" stroke="#000" stroke-width="1.1"/>
<text x="1530.5" y="1139.1" font-size="23" text-anchor="end" fill="#4D4D4D">0.50</text>
<line x1="1537.3" y1="1218.6" x2="1545.8" y2="1218.6" stroke="#000" stroke-width="1.1"/>
<text x="1530.5" y="1226.8" font-size="23" text-anchor="end" fill="#4D4D4D">0.25</text>
<line x1="1657.4" y1="1262.5" x2="1657.4" y2="1254.0" stroke="#000" stroke-width="1.1"/>
<text x="1657.4" y="1284.7" font-size="23" text-anchor="middle" fill="#4D4D4D">Ill</text>
<line x1="1856.9" y1="1262.5" x2="1856.9" y2="1254.0" stroke="#000" stroke-width="1.1"/>
<text x="1856.9" y="1284.7" font-size="23" text-anchor="middle" fill="#4D4D4D">Not−Ill</text>
<text transform="translate(1473.6 1123.7) rotate(-90)" font-size="29.1" text-anchor="middle" fill="#000">Distance to centroid</text>
</svg></body></html>
